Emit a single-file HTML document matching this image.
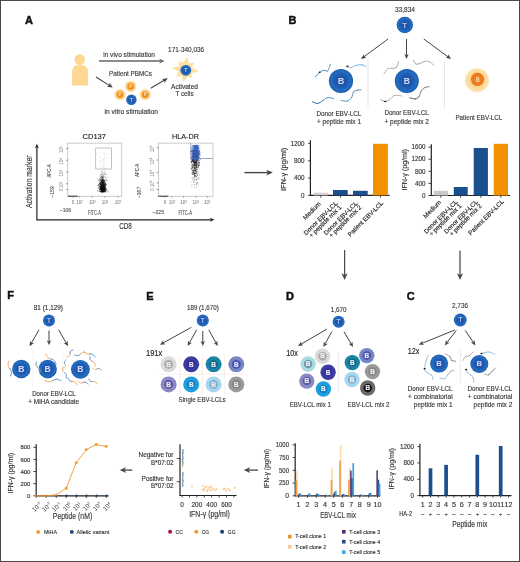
<!DOCTYPE html><html><head><meta charset="utf-8"><style>html,body{margin:0;padding:0;background:#fff;}svg{display:block;will-change:transform;}text{font-family:"Liberation Sans",sans-serif;}</style></head><body>
<svg width="520" height="562" viewBox="0 0 520 562">
<defs><radialGradient id="cellg" cx="0.5" cy="0.5" r="0.5"><stop offset="0" stop-color="#1c4ea2"/><stop offset="0.5" stop-color="#1d59ae"/><stop offset="0.78" stop-color="#216cc2"/><stop offset="0.92" stop-color="#1f65b8"/><stop offset="1" stop-color="#1b56a4"/></radialGradient><radialGradient id="halo" cx="0.5" cy="0.5" r="0.5"><stop offset="0.5" stop-color="#fcd48c"/><stop offset="0.85" stop-color="#fddfa6"/><stop offset="1" stop-color="#fdebc8"/></radialGradient><radialGradient id="orc" cx="0.5" cy="0.5" r="0.5"><stop offset="0" stop-color="#f28a26"/><stop offset="0.8" stop-color="#ee7b1a"/><stop offset="1" stop-color="#e06f12"/></radialGradient><radialGradient id="phalo" cx="0.5" cy="0.5" r="0.5"><stop offset="0.5" stop-color="#fcc978"/><stop offset="0.8" stop-color="#fdd89a"/><stop offset="1" stop-color="#fde8c4"/></radialGradient></defs>
<rect x="0" y="0" width="520" height="562" fill="#fff"/>
<text x="25.0" y="23.9" font-size="11" text-anchor="start" fill="#111" font-weight="bold" stroke="#111" stroke-width="0.45">A</text>
<circle cx="79.7" cy="59.6" r="5.3" fill="#fcd892"/>
<path d="M72.1,85.6 L72.1,72.5 Q72.1,65.6 77.5,64.9 L82,64.9 Q88.1,65.6 88.1,72.5 L88.1,85.6 Z" fill="#fcd892"/>
<text x="103.2" y="57.0" font-size="6.5" text-anchor="start" fill="#3a3a3a" font-weight="normal" textLength="51.8" lengthAdjust="spacingAndGlyphs" stroke="#3a3a3a" stroke-width="0.14">in vivo stimulation</text>
<line x1="99" y1="61.1" x2="160.50" y2="61.10" stroke="#666" stroke-width="1.5"/>
<path d="M159.30,63.50 L164.50,61.10 L159.30,58.70 L160.50,61.10 Z" fill="#666"/>
<text x="168.1" y="51.7" font-size="6.3" text-anchor="start" fill="#3a3a3a" font-weight="normal" textLength="36" lengthAdjust="spacingAndGlyphs" stroke="#3a3a3a" stroke-width="0.14">171-340,036</text>
<polygon points="186.77,57.39 188.64,63.67 193.56,63.12 191.85,67.77 198.01,71.13 191.23,72.94 191.60,77.62 187.13,76.15 183.86,81.51 181.96,75.53 176.80,76.27 178.75,71.43 172.79,68.09 179.37,66.26 178.88,61.42 183.47,63.05" fill="#fde1a4" stroke="#fde1a4" stroke-width="0.8" stroke-linejoin="round"/>
<circle cx="185.8" cy="70.3" r="5.4" fill="url(#cellg)"/>
<text x="185.8" y="72.46" font-size="6" text-anchor="middle" fill="#d0d6f6" font-weight="normal" stroke="#d0d6f6" stroke-width="0.14">T</text>
<text x="184.5" y="88.7" font-size="6.3" text-anchor="middle" fill="#3a3a3a" font-weight="normal" textLength="27" lengthAdjust="spacingAndGlyphs" stroke="#3a3a3a" stroke-width="0.14">Activated</text>
<text x="184.5" y="96.2" font-size="6.3" text-anchor="middle" fill="#3a3a3a" font-weight="normal" stroke="#3a3a3a" stroke-width="0.14">T cells</text>
<text x="109" y="76.2" font-size="6.3" text-anchor="start" fill="#3a3a3a" font-weight="normal" textLength="43" lengthAdjust="spacingAndGlyphs" stroke="#3a3a3a" stroke-width="0.14">Patient PBMCs</text>
<line x1="96" y1="77" x2="109.25" y2="85.36" stroke="#454545" stroke-width="1.1"/>
<path d="M106.95,86.75 L112.80,87.60 L109.51,82.69 L109.25,85.36 Z" fill="#454545"/>
<circle cx="130.7" cy="86.4" r="5.8" fill="url(#phalo)"/>
<circle cx="130.7" cy="86.4" r="3.4" fill="#f0901c"/>
<text x="130.7" y="88.0" font-size="4.5" text-anchor="middle" fill="#fde6c2" font-weight="bold">P</text>
<circle cx="120" cy="94.6" r="5.8" fill="url(#phalo)"/>
<circle cx="120" cy="94.6" r="3.4" fill="#f0901c"/>
<text x="120" y="96.19999999999999" font-size="4.5" text-anchor="middle" fill="#fde6c2" font-weight="bold">P</text>
<circle cx="145.2" cy="94.6" r="5.8" fill="url(#phalo)"/>
<circle cx="145.2" cy="94.6" r="3.4" fill="#f0901c"/>
<text x="145.2" y="96.19999999999999" font-size="4.5" text-anchor="middle" fill="#fde6c2" font-weight="bold">P</text>
<circle cx="131.4" cy="99.8" r="5.2" fill="url(#cellg)"/>
<text x="131.4" y="101.88799999999999" font-size="5.8" text-anchor="middle" fill="#d0d6f6" font-weight="normal" stroke="#d0d6f6" stroke-width="0.14">T</text>
<line x1="150.7" y1="88.3" x2="164.18" y2="80.34" stroke="#454545" stroke-width="1.1"/>
<path d="M164.37,83.01 L167.80,78.20 L161.93,78.88 L164.18,80.34 Z" fill="#454545"/>
<text x="104.5" y="114.2" font-size="6.5" text-anchor="start" fill="#3a3a3a" font-weight="normal" textLength="53.5" lengthAdjust="spacingAndGlyphs" stroke="#3a3a3a" stroke-width="0.14">in vitro stimulation</text>
<text x="82.5" y="138.8" font-size="7.8" text-anchor="start" fill="#222" font-weight="normal" textLength="23.5" lengthAdjust="spacingAndGlyphs" stroke="#222" stroke-width="0.14">CD137</text>
<text x="172" y="138.8" font-size="7.8" text-anchor="start" fill="#222" font-weight="normal" textLength="27" lengthAdjust="spacingAndGlyphs" stroke="#222" stroke-width="0.14">HLA-DR</text>
<line x1="36.9" y1="219.8" x2="36.90" y2="147.10" stroke="#222" stroke-width="1.2"/>
<path d="M38.90,148.30 L36.90,143.80 L34.90,148.30 L36.90,147.10 Z" fill="#222"/>
<line x1="36.3" y1="219.8" x2="211.20" y2="219.80" stroke="#222" stroke-width="1.3"/>
<path d="M210.00,221.80 L214.50,219.80 L210.00,217.80 L211.20,219.80 Z" fill="#222"/>
<text x="32.3" y="181.8" font-size="8.2" text-anchor="middle" fill="#333" font-weight="normal" textLength="52.5" lengthAdjust="spacingAndGlyphs" transform="rotate(-90 32.3 181.8)" stroke="#333" stroke-width="0.14">Activation marker</text>
<text x="119.2" y="228.8" font-size="8.3" text-anchor="start" fill="#333" font-weight="normal" textLength="12.7" lengthAdjust="spacingAndGlyphs" stroke="#333" stroke-width="0.14">CD8</text>
<line x1="244.4" y1="172.6" x2="267.90" y2="172.60" stroke="#444" stroke-width="1.4"/>
<path d="M266.30,175.40 L272.90,172.60 L266.30,169.80 L267.90,172.60 Z" fill="#444"/>
<text x="288.6" y="24.2" font-size="11" text-anchor="start" fill="#111" font-weight="bold" stroke="#111" stroke-width="0.45">B</text>
<text x="395" y="12.2" font-size="6.3" text-anchor="start" fill="#3a3a3a" font-weight="normal" textLength="20" lengthAdjust="spacingAndGlyphs" stroke="#3a3a3a" stroke-width="0.14">33,834</text>
<circle cx="404.8" cy="25" r="8.2" fill="url(#cellg)"/>
<text x="404.8" y="27.88" font-size="8" text-anchor="middle" fill="#d0d6f6" font-weight="normal" stroke="#d0d6f6" stroke-width="0.14">T</text>
<line x1="388" y1="39" x2="364.05" y2="56.74" stroke="#454545" stroke-width="1.0"/>
<path d="M363.71,54.26 L361.00,59.00 L366.33,57.79 L364.05,56.74 Z" fill="#454545"/>
<line x1="406.5" y1="39" x2="406.50" y2="55.20" stroke="#454545" stroke-width="1.0"/>
<path d="M404.30,54.00 L406.50,59.00 L408.70,54.00 L406.50,55.20 Z" fill="#454545"/>
<line x1="423.75" y1="39" x2="447.94" y2="56.75" stroke="#454545" stroke-width="1.0"/>
<path d="M445.67,57.82 L451.00,59.00 L448.27,54.27 L447.94,56.75 Z" fill="#454545"/>
<line x1="368" y1="59" x2="368" y2="107" stroke="#ddd" stroke-width="0.7"/>
<line x1="444.5" y1="61" x2="444.5" y2="108" stroke="#ddd" stroke-width="0.7"/>
<circle cx="341" cy="81" r="12.1" fill="url(#cellg)"/>
<text x="341" y="83.72" font-size="8.5" text-anchor="middle" fill="#d0d6f6" font-weight="bold" stroke="#d0d6f6" stroke-width="0.14">B</text>
<circle cx="406.8" cy="81" r="12" fill="url(#cellg)"/>
<text x="406.8" y="83.72" font-size="8.5" text-anchor="middle" fill="#d0d6f6" font-weight="bold" stroke="#d0d6f6" stroke-width="0.14">B</text>
<circle cx="477" cy="80.2" r="12.2" fill="url(#halo)"/>
<circle cx="477.5" cy="79.3" r="6.6" fill="url(#orc)"/>
<text x="477.6" y="81.9" font-size="7" text-anchor="middle" fill="#fde3c0" font-weight="normal" textLength="3.9" lengthAdjust="spacingAndGlyphs" stroke="#fde3c0" stroke-width="0.14">B</text>
<text x="316.5" y="116.0" font-size="6.3" text-anchor="start" fill="#3a3a3a" font-weight="normal" textLength="44.8" lengthAdjust="spacingAndGlyphs" stroke="#3a3a3a" stroke-width="0.14">Donor EBV-LCL</text>
<text x="317" y="124.0" font-size="6.3" text-anchor="start" fill="#3a3a3a" font-weight="normal" textLength="44" lengthAdjust="spacingAndGlyphs" stroke="#3a3a3a" stroke-width="0.14">+ peptide mix 1</text>
<text x="384.4" y="115.3" font-size="6.3" text-anchor="start" fill="#3a3a3a" font-weight="normal" textLength="44.4" lengthAdjust="spacingAndGlyphs" stroke="#3a3a3a" stroke-width="0.14">Donor EBV-LCL</text>
<text x="384.4" y="124.3" font-size="6.3" text-anchor="start" fill="#3a3a3a" font-weight="normal" textLength="44.6" lengthAdjust="spacingAndGlyphs" stroke="#3a3a3a" stroke-width="0.14">+ peptide mix 2</text>
<text x="455.4" y="120.4" font-size="6.3" text-anchor="start" fill="#3a3a3a" font-weight="normal" textLength="46.9" lengthAdjust="spacingAndGlyphs" stroke="#3a3a3a" stroke-width="0.14">Patient EBV-LCL</text>
<rect x="67.8" y="143.1" width="54.0" height="53.1" fill="none" stroke="#aaaaaa" stroke-width="0.6"/>
<text x="63.4" y="149.7" font-size="4.6" fill="#707070" text-anchor="middle" transform="rotate(-90 63.4 149.7)">10<tspan dy="-1.75" font-size="2.85">5</tspan></text>
<line x1="66.2" y1="148.5" x2="68.1" y2="148.5" stroke="#666" stroke-width="0.7"/>
<text x="63.4" y="161.39999999999998" font-size="4.6" fill="#707070" text-anchor="middle" transform="rotate(-90 63.4 161.39999999999998)">10<tspan dy="-1.75" font-size="2.85">4</tspan></text>
<line x1="66.2" y1="160.2" x2="68.1" y2="160.2" stroke="#666" stroke-width="0.7"/>
<text x="63.4" y="173.2" font-size="4.6" fill="#707070" text-anchor="middle" transform="rotate(-90 63.4 173.2)">10<tspan dy="-1.75" font-size="2.85">3</tspan></text>
<line x1="66.2" y1="172" x2="68.1" y2="172" stroke="#666" stroke-width="0.7"/>
<text x="63.4" y="185.0" font-size="4.6" fill="#707070" text-anchor="middle" transform="rotate(-90 63.4 185.0)">10<tspan dy="-1.75" font-size="2.85">2</tspan></text>
<line x1="66.2" y1="183.8" x2="68.1" y2="183.8" stroke="#666" stroke-width="0.7"/>
<text x="63.4" y="189.6" font-size="4.6" text-anchor="middle" fill="#707070" font-weight="normal" transform="rotate(-90 63.4 189.6)">0</text>
<line x1="66.2" y1="189.6" x2="68.1" y2="189.6" stroke="#666" stroke-width="0.7"/>
<text x="51.4" y="171" font-size="6.0" text-anchor="middle" fill="#5a5a5a" font-weight="normal" textLength="13" lengthAdjust="spacingAndGlyphs" transform="rotate(-90 51.4 171)" stroke="#5a5a5a" stroke-width="0.14">APC-A</text>
<text x="53.6" y="192" font-size="5.6" text-anchor="middle" fill="#5a5a5a" font-weight="normal" textLength="11.5" lengthAdjust="spacingAndGlyphs" transform="rotate(-90 53.6 192)" stroke="#5a5a5a" stroke-width="0.14">−159</text>
<text x="73" y="204.4" font-size="4.6" text-anchor="middle" fill="#707070" font-weight="normal">0</text>
<line x1="73" y1="196.2" x2="73" y2="197.7" stroke="#666" stroke-width="0.6"/>
<text x="79.5" y="204.4" font-size="4.6" fill="#707070" text-anchor="middle">10<tspan dy="-1.75" font-size="2.85">2</tspan></text>
<line x1="79.5" y1="196.2" x2="79.5" y2="197.7" stroke="#666" stroke-width="0.6"/>
<text x="92.3" y="204.4" font-size="4.6" fill="#707070" text-anchor="middle">10<tspan dy="-1.75" font-size="2.85">3</tspan></text>
<line x1="92.3" y1="196.2" x2="92.3" y2="197.7" stroke="#666" stroke-width="0.6"/>
<text x="105.1" y="204.4" font-size="4.6" fill="#707070" text-anchor="middle">10<tspan dy="-1.75" font-size="2.85">4</tspan></text>
<line x1="105.1" y1="196.2" x2="105.1" y2="197.7" stroke="#666" stroke-width="0.6"/>
<text x="118" y="204.4" font-size="4.6" fill="#707070" text-anchor="middle">10<tspan dy="-1.75" font-size="2.85">5</tspan></text>
<line x1="118" y1="196.2" x2="118" y2="197.7" stroke="#666" stroke-width="0.6"/>
<text x="59.7" y="211.7" font-size="5.6" text-anchor="start" fill="#5a5a5a" font-weight="normal" textLength="11.5" lengthAdjust="spacingAndGlyphs" stroke="#5a5a5a" stroke-width="0.14">−106</text>
<text x="88" y="215.0" font-size="6.6" text-anchor="start" fill="#5a5a5a" font-weight="normal" textLength="12.8" lengthAdjust="spacingAndGlyphs" stroke="#5a5a5a" stroke-width="0.14">FITC-A</text>
<line x1="67.8" y1="196.2" x2="77.8" y2="196.2" stroke="#333" stroke-width="1.0"/>
<rect x="158.3" y="143.1" width="54.69999999999999" height="53.1" fill="none" stroke="#aaaaaa" stroke-width="0.6"/>
<text x="154.2" y="148.89999999999998" font-size="4.6" fill="#707070" text-anchor="middle" transform="rotate(-90 154.2 148.89999999999998)">10<tspan dy="-1.75" font-size="2.85">5</tspan></text>
<line x1="156.70000000000002" y1="147.7" x2="158.60000000000002" y2="147.7" stroke="#666" stroke-width="0.7"/>
<text x="154.2" y="161.2" font-size="4.6" fill="#707070" text-anchor="middle" transform="rotate(-90 154.2 161.2)">10<tspan dy="-1.75" font-size="2.85">4</tspan></text>
<line x1="156.70000000000002" y1="160" x2="158.60000000000002" y2="160" stroke="#666" stroke-width="0.7"/>
<text x="154.2" y="173.5" font-size="4.6" fill="#707070" text-anchor="middle" transform="rotate(-90 154.2 173.5)">10<tspan dy="-1.75" font-size="2.85">3</tspan></text>
<line x1="156.70000000000002" y1="172.3" x2="158.60000000000002" y2="172.3" stroke="#666" stroke-width="0.7"/>
<text x="154.2" y="184.0" font-size="4.6" fill="#707070" text-anchor="middle" transform="rotate(-90 154.2 184.0)">10<tspan dy="-1.75" font-size="2.85">2</tspan></text>
<line x1="156.70000000000002" y1="182.8" x2="158.60000000000002" y2="182.8" stroke="#666" stroke-width="0.7"/>
<text x="154.2" y="189.5" font-size="4.6" text-anchor="middle" fill="#707070" font-weight="normal" transform="rotate(-90 154.2 189.5)">0</text>
<line x1="156.70000000000002" y1="189.5" x2="158.60000000000002" y2="189.5" stroke="#666" stroke-width="0.7"/>
<text x="139.2" y="170.5" font-size="6.0" text-anchor="middle" fill="#5a5a5a" font-weight="normal" textLength="13" lengthAdjust="spacingAndGlyphs" transform="rotate(-90 139.2 170.5)" stroke="#5a5a5a" stroke-width="0.14">APC-A</text>
<text x="141.39999999999998" y="192.5" font-size="5.6" text-anchor="middle" fill="#5a5a5a" font-weight="normal" textLength="11.5" lengthAdjust="spacingAndGlyphs" transform="rotate(-90 141.39999999999998 192.5)" stroke="#5a5a5a" stroke-width="0.14">−367</text>
<text x="165" y="204.4" font-size="4.6" text-anchor="middle" fill="#707070" font-weight="normal">0</text>
<line x1="165" y1="196.2" x2="165" y2="197.7" stroke="#666" stroke-width="0.6"/>
<text x="172" y="204.4" font-size="4.6" fill="#707070" text-anchor="middle">10<tspan dy="-1.75" font-size="2.85">2</tspan></text>
<line x1="172" y1="196.2" x2="172" y2="197.7" stroke="#666" stroke-width="0.6"/>
<text x="183.5" y="204.4" font-size="4.6" fill="#707070" text-anchor="middle">10<tspan dy="-1.75" font-size="2.85">3</tspan></text>
<line x1="183.5" y1="196.2" x2="183.5" y2="197.7" stroke="#666" stroke-width="0.6"/>
<text x="195.8" y="204.4" font-size="4.6" fill="#707070" text-anchor="middle">10<tspan dy="-1.75" font-size="2.85">4</tspan></text>
<line x1="195.8" y1="196.2" x2="195.8" y2="197.7" stroke="#666" stroke-width="0.6"/>
<text x="207.3" y="204.4" font-size="4.6" fill="#707070" text-anchor="middle">10<tspan dy="-1.75" font-size="2.85">5</tspan></text>
<line x1="207.3" y1="196.2" x2="207.3" y2="197.7" stroke="#666" stroke-width="0.6"/>
<text x="152.6" y="213.6" font-size="5.6" text-anchor="start" fill="#5a5a5a" font-weight="normal" textLength="11.4" lengthAdjust="spacingAndGlyphs" stroke="#5a5a5a" stroke-width="0.14">−225</text>
<text x="178.5" y="215.0" font-size="6.6" text-anchor="start" fill="#5a5a5a" font-weight="normal" textLength="13.5" lengthAdjust="spacingAndGlyphs" stroke="#5a5a5a" stroke-width="0.14">FITC-A</text>
<line x1="158.3" y1="196.2" x2="168.3" y2="196.2" stroke="#333" stroke-width="1.0"/>
<rect x="95.8" y="148" width="15.8" height="21" fill="none" stroke="#888" stroke-width="0.5"/>
<circle cx="106.07" cy="184.28" r="0.45" fill="#111" fill-opacity="0.45"/><circle cx="98.26" cy="185.89" r="0.45" fill="#111" fill-opacity="0.45"/><circle cx="103.31" cy="185.50" r="0.45" fill="#111" fill-opacity="0.45"/><circle cx="101.63" cy="184.47" r="0.45" fill="#111" fill-opacity="0.45"/><circle cx="101.83" cy="174.71" r="0.45" fill="#111" fill-opacity="0.45"/><circle cx="102.23" cy="182.50" r="0.45" fill="#111" fill-opacity="0.45"/><circle cx="99.17" cy="187.83" r="0.45" fill="#111" fill-opacity="0.45"/><circle cx="102.21" cy="185.63" r="0.45" fill="#111" fill-opacity="0.45"/><circle cx="101.13" cy="191.32" r="0.45" fill="#111" fill-opacity="0.45"/><circle cx="108.25" cy="191.54" r="0.45" fill="#111" fill-opacity="0.45"/><circle cx="102.98" cy="183.91" r="0.45" fill="#111" fill-opacity="0.45"/><circle cx="102.00" cy="190.21" r="0.45" fill="#111" fill-opacity="0.45"/><circle cx="102.12" cy="189.85" r="0.45" fill="#111" fill-opacity="0.45"/><circle cx="101.46" cy="187.62" r="0.45" fill="#111" fill-opacity="0.45"/><circle cx="100.81" cy="182.28" r="0.45" fill="#111" fill-opacity="0.45"/><circle cx="101.94" cy="191.57" r="0.45" fill="#111" fill-opacity="0.45"/><circle cx="103.42" cy="188.73" r="0.45" fill="#111" fill-opacity="0.45"/><circle cx="102.19" cy="188.79" r="0.45" fill="#111" fill-opacity="0.45"/><circle cx="104.23" cy="187.46" r="0.45" fill="#111" fill-opacity="0.45"/><circle cx="102.26" cy="182.79" r="0.45" fill="#111" fill-opacity="0.45"/><circle cx="102.64" cy="183.26" r="0.45" fill="#111" fill-opacity="0.45"/><circle cx="105.23" cy="189.30" r="0.45" fill="#111" fill-opacity="0.45"/><circle cx="103.53" cy="190.94" r="0.45" fill="#111" fill-opacity="0.45"/><circle cx="101.74" cy="186.97" r="0.45" fill="#111" fill-opacity="0.45"/><circle cx="102.29" cy="183.84" r="0.45" fill="#111" fill-opacity="0.45"/><circle cx="103.52" cy="187.04" r="0.45" fill="#111" fill-opacity="0.45"/><circle cx="105.89" cy="188.47" r="0.45" fill="#111" fill-opacity="0.45"/><circle cx="102.14" cy="191.41" r="0.45" fill="#111" fill-opacity="0.45"/><circle cx="102.19" cy="188.90" r="0.45" fill="#111" fill-opacity="0.45"/><circle cx="104.30" cy="186.47" r="0.45" fill="#111" fill-opacity="0.45"/><circle cx="101.09" cy="175.60" r="0.45" fill="#111" fill-opacity="0.45"/><circle cx="102.10" cy="190.02" r="0.45" fill="#111" fill-opacity="0.45"/><circle cx="104.10" cy="185.31" r="0.45" fill="#111" fill-opacity="0.45"/><circle cx="103.59" cy="185.35" r="0.45" fill="#111" fill-opacity="0.45"/><circle cx="102.76" cy="189.88" r="0.45" fill="#111" fill-opacity="0.45"/><circle cx="103.74" cy="188.16" r="0.45" fill="#111" fill-opacity="0.45"/><circle cx="97.79" cy="191.51" r="0.45" fill="#111" fill-opacity="0.45"/><circle cx="104.34" cy="181.72" r="0.45" fill="#111" fill-opacity="0.45"/><circle cx="100.97" cy="183.35" r="0.45" fill="#111" fill-opacity="0.45"/><circle cx="99.76" cy="189.10" r="0.45" fill="#111" fill-opacity="0.45"/><circle cx="103.07" cy="188.64" r="0.45" fill="#111" fill-opacity="0.45"/><circle cx="103.79" cy="190.05" r="0.45" fill="#111" fill-opacity="0.45"/><circle cx="101.84" cy="191.15" r="0.45" fill="#111" fill-opacity="0.45"/><circle cx="100.77" cy="187.45" r="0.45" fill="#111" fill-opacity="0.45"/><circle cx="102.64" cy="191.23" r="0.45" fill="#111" fill-opacity="0.45"/><circle cx="102.51" cy="189.63" r="0.45" fill="#111" fill-opacity="0.45"/><circle cx="104.99" cy="183.76" r="0.45" fill="#111" fill-opacity="0.45"/><circle cx="103.87" cy="179.61" r="0.45" fill="#111" fill-opacity="0.45"/><circle cx="102.93" cy="179.38" r="0.45" fill="#111" fill-opacity="0.45"/><circle cx="104.49" cy="188.84" r="0.45" fill="#111" fill-opacity="0.45"/><circle cx="102.25" cy="181.92" r="0.45" fill="#111" fill-opacity="0.45"/><circle cx="101.03" cy="183.00" r="0.45" fill="#111" fill-opacity="0.45"/><circle cx="103.59" cy="184.64" r="0.45" fill="#111" fill-opacity="0.45"/><circle cx="103.59" cy="180.44" r="0.45" fill="#111" fill-opacity="0.45"/><circle cx="102.23" cy="185.93" r="0.45" fill="#111" fill-opacity="0.45"/><circle cx="101.27" cy="188.41" r="0.45" fill="#111" fill-opacity="0.45"/><circle cx="102.99" cy="181.85" r="0.45" fill="#111" fill-opacity="0.45"/><circle cx="98.36" cy="183.95" r="0.45" fill="#111" fill-opacity="0.45"/><circle cx="103.77" cy="190.57" r="0.45" fill="#111" fill-opacity="0.45"/><circle cx="103.44" cy="181.95" r="0.45" fill="#111" fill-opacity="0.45"/><circle cx="99.81" cy="189.32" r="0.45" fill="#111" fill-opacity="0.45"/><circle cx="102.70" cy="185.21" r="0.45" fill="#111" fill-opacity="0.45"/><circle cx="100.96" cy="189.47" r="0.45" fill="#111" fill-opacity="0.45"/><circle cx="103.89" cy="184.97" r="0.45" fill="#111" fill-opacity="0.45"/><circle cx="99.14" cy="190.37" r="0.45" fill="#111" fill-opacity="0.45"/><circle cx="101.05" cy="187.03" r="0.45" fill="#111" fill-opacity="0.45"/><circle cx="103.81" cy="185.66" r="0.45" fill="#111" fill-opacity="0.45"/><circle cx="104.57" cy="184.64" r="0.45" fill="#111" fill-opacity="0.45"/><circle cx="98.93" cy="180.60" r="0.45" fill="#111" fill-opacity="0.45"/><circle cx="101.75" cy="186.77" r="0.45" fill="#111" fill-opacity="0.45"/><circle cx="103.16" cy="183.29" r="0.45" fill="#111" fill-opacity="0.45"/><circle cx="101.56" cy="181.05" r="0.45" fill="#111" fill-opacity="0.45"/><circle cx="105.30" cy="183.70" r="0.45" fill="#111" fill-opacity="0.45"/><circle cx="100.57" cy="180.79" r="0.45" fill="#111" fill-opacity="0.45"/><circle cx="103.20" cy="186.87" r="0.45" fill="#111" fill-opacity="0.45"/><circle cx="100.82" cy="187.98" r="0.45" fill="#111" fill-opacity="0.45"/><circle cx="104.99" cy="191.92" r="0.45" fill="#111" fill-opacity="0.45"/><circle cx="102.56" cy="175.94" r="0.45" fill="#111" fill-opacity="0.45"/><circle cx="101.97" cy="191.98" r="0.45" fill="#111" fill-opacity="0.45"/><circle cx="99.68" cy="189.83" r="0.45" fill="#111" fill-opacity="0.45"/><circle cx="105.46" cy="184.96" r="0.45" fill="#111" fill-opacity="0.45"/><circle cx="103.88" cy="191.03" r="0.45" fill="#111" fill-opacity="0.45"/><circle cx="103.88" cy="182.98" r="0.45" fill="#111" fill-opacity="0.45"/><circle cx="104.53" cy="191.57" r="0.45" fill="#111" fill-opacity="0.45"/><circle cx="103.19" cy="183.99" r="0.45" fill="#111" fill-opacity="0.45"/><circle cx="101.51" cy="184.31" r="0.45" fill="#111" fill-opacity="0.45"/><circle cx="101.24" cy="188.84" r="0.45" fill="#111" fill-opacity="0.45"/><circle cx="101.24" cy="189.04" r="0.45" fill="#111" fill-opacity="0.45"/><circle cx="104.93" cy="189.30" r="0.45" fill="#111" fill-opacity="0.45"/><circle cx="100.12" cy="182.61" r="0.45" fill="#111" fill-opacity="0.45"/><circle cx="101.59" cy="188.55" r="0.45" fill="#111" fill-opacity="0.45"/><circle cx="102.05" cy="186.85" r="0.45" fill="#111" fill-opacity="0.45"/><circle cx="102.98" cy="186.62" r="0.45" fill="#111" fill-opacity="0.45"/><circle cx="103.58" cy="186.64" r="0.45" fill="#111" fill-opacity="0.45"/><circle cx="100.48" cy="188.72" r="0.45" fill="#111" fill-opacity="0.45"/><circle cx="99.66" cy="183.99" r="0.45" fill="#111" fill-opacity="0.45"/><circle cx="102.59" cy="191.31" r="0.45" fill="#111" fill-opacity="0.45"/><circle cx="104.66" cy="191.12" r="0.45" fill="#111" fill-opacity="0.45"/><circle cx="103.89" cy="185.02" r="0.45" fill="#111" fill-opacity="0.45"/><circle cx="102.97" cy="186.25" r="0.45" fill="#111" fill-opacity="0.45"/><circle cx="102.06" cy="180.54" r="0.45" fill="#111" fill-opacity="0.45"/><circle cx="103.10" cy="182.27" r="0.45" fill="#111" fill-opacity="0.45"/><circle cx="102.19" cy="181.91" r="0.45" fill="#111" fill-opacity="0.45"/><circle cx="103.99" cy="188.97" r="0.45" fill="#111" fill-opacity="0.45"/><circle cx="101.25" cy="176.50" r="0.45" fill="#111" fill-opacity="0.45"/><circle cx="102.83" cy="181.99" r="0.45" fill="#111" fill-opacity="0.45"/><circle cx="102.41" cy="191.70" r="0.45" fill="#111" fill-opacity="0.45"/><circle cx="103.52" cy="184.77" r="0.45" fill="#111" fill-opacity="0.45"/><circle cx="102.98" cy="188.36" r="0.45" fill="#111" fill-opacity="0.45"/><circle cx="106.94" cy="191.29" r="0.45" fill="#111" fill-opacity="0.45"/><circle cx="105.15" cy="188.19" r="0.45" fill="#111" fill-opacity="0.45"/><circle cx="105.14" cy="183.37" r="0.45" fill="#111" fill-opacity="0.45"/><circle cx="99.13" cy="187.20" r="0.45" fill="#111" fill-opacity="0.45"/><circle cx="102.02" cy="177.16" r="0.45" fill="#111" fill-opacity="0.45"/><circle cx="101.57" cy="186.18" r="0.45" fill="#111" fill-opacity="0.45"/><circle cx="103.51" cy="182.00" r="0.45" fill="#111" fill-opacity="0.45"/><circle cx="98.73" cy="184.48" r="0.45" fill="#111" fill-opacity="0.45"/><circle cx="104.60" cy="187.01" r="0.45" fill="#111" fill-opacity="0.45"/><circle cx="104.41" cy="191.67" r="0.45" fill="#111" fill-opacity="0.45"/><circle cx="100.39" cy="183.45" r="0.45" fill="#111" fill-opacity="0.45"/><circle cx="100.94" cy="185.58" r="0.45" fill="#111" fill-opacity="0.45"/><circle cx="101.24" cy="186.10" r="0.45" fill="#111" fill-opacity="0.45"/><circle cx="102.67" cy="184.49" r="0.45" fill="#111" fill-opacity="0.45"/><circle cx="103.69" cy="182.66" r="0.45" fill="#111" fill-opacity="0.45"/><circle cx="106.08" cy="184.62" r="0.45" fill="#111" fill-opacity="0.45"/><circle cx="102.26" cy="185.05" r="0.45" fill="#111" fill-opacity="0.45"/><circle cx="103.90" cy="188.92" r="0.45" fill="#111" fill-opacity="0.45"/><circle cx="102.86" cy="183.12" r="0.45" fill="#111" fill-opacity="0.45"/><circle cx="105.59" cy="190.29" r="0.45" fill="#111" fill-opacity="0.45"/><circle cx="103.86" cy="188.07" r="0.45" fill="#111" fill-opacity="0.45"/><circle cx="104.93" cy="191.18" r="0.45" fill="#111" fill-opacity="0.45"/><circle cx="100.77" cy="180.78" r="0.45" fill="#111" fill-opacity="0.45"/><circle cx="102.27" cy="188.28" r="0.45" fill="#111" fill-opacity="0.45"/><circle cx="101.22" cy="181.10" r="0.45" fill="#111" fill-opacity="0.45"/><circle cx="105.16" cy="190.73" r="0.45" fill="#111" fill-opacity="0.45"/><circle cx="103.72" cy="184.31" r="0.45" fill="#111" fill-opacity="0.45"/><circle cx="102.08" cy="190.93" r="0.45" fill="#111" fill-opacity="0.45"/><circle cx="101.83" cy="189.40" r="0.45" fill="#111" fill-opacity="0.45"/><circle cx="103.42" cy="190.78" r="0.45" fill="#111" fill-opacity="0.45"/><circle cx="101.41" cy="181.55" r="0.45" fill="#111" fill-opacity="0.45"/><circle cx="101.02" cy="183.90" r="0.45" fill="#111" fill-opacity="0.45"/><circle cx="103.42" cy="175.81" r="0.45" fill="#111" fill-opacity="0.45"/><circle cx="106.79" cy="184.72" r="0.45" fill="#111" fill-opacity="0.45"/><circle cx="102.18" cy="181.29" r="0.45" fill="#111" fill-opacity="0.45"/><circle cx="101.66" cy="181.06" r="0.45" fill="#111" fill-opacity="0.45"/><circle cx="100.61" cy="189.66" r="0.45" fill="#111" fill-opacity="0.45"/><circle cx="100.33" cy="187.75" r="0.45" fill="#111" fill-opacity="0.45"/><circle cx="103.49" cy="190.87" r="0.45" fill="#111" fill-opacity="0.45"/><circle cx="104.05" cy="182.50" r="0.45" fill="#111" fill-opacity="0.45"/><circle cx="102.62" cy="187.93" r="0.45" fill="#111" fill-opacity="0.45"/><circle cx="103.17" cy="188.06" r="0.45" fill="#111" fill-opacity="0.45"/><circle cx="102.80" cy="187.89" r="0.45" fill="#111" fill-opacity="0.45"/><circle cx="102.84" cy="177.47" r="0.45" fill="#111" fill-opacity="0.45"/><circle cx="100.01" cy="180.67" r="0.45" fill="#111" fill-opacity="0.45"/><circle cx="101.82" cy="188.97" r="0.45" fill="#111" fill-opacity="0.45"/><circle cx="102.79" cy="183.45" r="0.45" fill="#111" fill-opacity="0.45"/><circle cx="101.27" cy="187.67" r="0.45" fill="#111" fill-opacity="0.45"/><circle cx="101.79" cy="183.74" r="0.45" fill="#111" fill-opacity="0.45"/><circle cx="101.21" cy="182.03" r="0.45" fill="#111" fill-opacity="0.45"/><circle cx="102.03" cy="186.78" r="0.45" fill="#111" fill-opacity="0.45"/><circle cx="104.05" cy="180.44" r="0.45" fill="#111" fill-opacity="0.45"/><circle cx="101.91" cy="188.70" r="0.45" fill="#111" fill-opacity="0.45"/><circle cx="102.34" cy="187.89" r="0.45" fill="#111" fill-opacity="0.45"/><circle cx="103.98" cy="188.34" r="0.45" fill="#111" fill-opacity="0.45"/><circle cx="103.70" cy="185.43" r="0.45" fill="#111" fill-opacity="0.45"/><circle cx="105.48" cy="190.96" r="0.45" fill="#111" fill-opacity="0.45"/><circle cx="99.05" cy="185.33" r="0.45" fill="#111" fill-opacity="0.45"/><circle cx="104.06" cy="188.85" r="0.45" fill="#111" fill-opacity="0.45"/><circle cx="101.78" cy="190.24" r="0.45" fill="#111" fill-opacity="0.45"/><circle cx="102.83" cy="182.97" r="0.45" fill="#111" fill-opacity="0.45"/><circle cx="104.02" cy="191.81" r="0.45" fill="#111" fill-opacity="0.45"/><circle cx="104.44" cy="188.00" r="0.45" fill="#111" fill-opacity="0.45"/><circle cx="104.37" cy="176.60" r="0.45" fill="#111" fill-opacity="0.45"/><circle cx="102.86" cy="186.26" r="0.45" fill="#111" fill-opacity="0.45"/><circle cx="105.34" cy="182.95" r="0.45" fill="#111" fill-opacity="0.45"/><circle cx="102.12" cy="184.37" r="0.45" fill="#111" fill-opacity="0.45"/><circle cx="102.36" cy="188.46" r="0.45" fill="#111" fill-opacity="0.45"/><circle cx="103.96" cy="191.52" r="0.45" fill="#111" fill-opacity="0.45"/><circle cx="101.66" cy="189.76" r="0.45" fill="#111" fill-opacity="0.45"/><circle cx="106.27" cy="189.79" r="0.45" fill="#111" fill-opacity="0.45"/><circle cx="104.33" cy="187.87" r="0.45" fill="#111" fill-opacity="0.45"/><circle cx="106.30" cy="189.74" r="0.45" fill="#111" fill-opacity="0.45"/><circle cx="102.55" cy="185.74" r="0.45" fill="#111" fill-opacity="0.45"/><circle cx="101.95" cy="183.48" r="0.45" fill="#111" fill-opacity="0.45"/><circle cx="102.88" cy="186.14" r="0.45" fill="#111" fill-opacity="0.45"/><circle cx="103.85" cy="190.86" r="0.45" fill="#111" fill-opacity="0.45"/><circle cx="101.60" cy="188.74" r="0.45" fill="#111" fill-opacity="0.45"/><circle cx="103.25" cy="186.52" r="0.45" fill="#111" fill-opacity="0.45"/><circle cx="102.57" cy="191.95" r="0.45" fill="#111" fill-opacity="0.45"/><circle cx="105.35" cy="188.20" r="0.45" fill="#111" fill-opacity="0.45"/><circle cx="101.47" cy="190.16" r="0.45" fill="#111" fill-opacity="0.45"/><circle cx="104.38" cy="188.31" r="0.45" fill="#111" fill-opacity="0.45"/><circle cx="101.51" cy="180.59" r="0.45" fill="#111" fill-opacity="0.45"/><circle cx="100.97" cy="183.76" r="0.45" fill="#111" fill-opacity="0.45"/><circle cx="101.39" cy="186.27" r="0.45" fill="#111" fill-opacity="0.45"/><circle cx="100.58" cy="188.76" r="0.45" fill="#111" fill-opacity="0.45"/><circle cx="102.85" cy="190.98" r="0.45" fill="#111" fill-opacity="0.45"/><circle cx="104.35" cy="184.88" r="0.45" fill="#111" fill-opacity="0.45"/><circle cx="102.88" cy="187.56" r="0.45" fill="#111" fill-opacity="0.45"/><circle cx="103.66" cy="178.35" r="0.45" fill="#111" fill-opacity="0.45"/><circle cx="105.37" cy="182.13" r="0.45" fill="#111" fill-opacity="0.45"/><circle cx="103.06" cy="190.90" r="0.45" fill="#111" fill-opacity="0.45"/><circle cx="102.93" cy="179.30" r="0.45" fill="#111" fill-opacity="0.45"/><circle cx="102.13" cy="182.82" r="0.45" fill="#111" fill-opacity="0.45"/><circle cx="99.87" cy="188.93" r="0.45" fill="#111" fill-opacity="0.45"/><circle cx="103.89" cy="189.33" r="0.45" fill="#111" fill-opacity="0.45"/><circle cx="99.61" cy="183.46" r="0.45" fill="#111" fill-opacity="0.45"/><circle cx="103.71" cy="189.85" r="0.45" fill="#111" fill-opacity="0.45"/><circle cx="102.58" cy="184.04" r="0.45" fill="#111" fill-opacity="0.45"/><circle cx="104.52" cy="188.69" r="0.45" fill="#111" fill-opacity="0.45"/><circle cx="102.48" cy="186.38" r="0.45" fill="#111" fill-opacity="0.45"/><circle cx="101.20" cy="189.96" r="0.45" fill="#111" fill-opacity="0.45"/><circle cx="103.21" cy="188.81" r="0.45" fill="#111" fill-opacity="0.45"/><circle cx="101.65" cy="189.62" r="0.45" fill="#111" fill-opacity="0.45"/><circle cx="102.29" cy="186.58" r="0.45" fill="#111" fill-opacity="0.45"/><circle cx="102.67" cy="179.68" r="0.45" fill="#111" fill-opacity="0.45"/><circle cx="102.37" cy="189.14" r="0.45" fill="#111" fill-opacity="0.45"/><circle cx="102.28" cy="182.27" r="0.45" fill="#111" fill-opacity="0.45"/><circle cx="101.18" cy="187.29" r="0.45" fill="#111" fill-opacity="0.45"/><circle cx="102.28" cy="191.84" r="0.45" fill="#111" fill-opacity="0.45"/><circle cx="98.96" cy="187.60" r="0.45" fill="#111" fill-opacity="0.45"/><circle cx="102.33" cy="186.01" r="0.45" fill="#111" fill-opacity="0.45"/><circle cx="100.56" cy="186.12" r="0.45" fill="#111" fill-opacity="0.45"/><circle cx="104.50" cy="189.66" r="0.45" fill="#111" fill-opacity="0.45"/><circle cx="104.76" cy="191.25" r="0.45" fill="#111" fill-opacity="0.45"/><circle cx="99.28" cy="184.40" r="0.45" fill="#111" fill-opacity="0.45"/><circle cx="102.85" cy="185.65" r="0.45" fill="#111" fill-opacity="0.45"/><circle cx="102.39" cy="184.14" r="0.45" fill="#111" fill-opacity="0.45"/><circle cx="100.82" cy="180.56" r="0.45" fill="#111" fill-opacity="0.45"/><circle cx="103.50" cy="186.45" r="0.45" fill="#111" fill-opacity="0.45"/><circle cx="101.82" cy="191.92" r="0.45" fill="#111" fill-opacity="0.45"/><circle cx="99.60" cy="182.97" r="0.45" fill="#111" fill-opacity="0.45"/><circle cx="102.15" cy="187.75" r="0.45" fill="#111" fill-opacity="0.45"/><circle cx="102.35" cy="176.27" r="0.45" fill="#111" fill-opacity="0.45"/><circle cx="102.78" cy="188.50" r="0.45" fill="#111" fill-opacity="0.45"/><circle cx="100.51" cy="191.87" r="0.45" fill="#111" fill-opacity="0.45"/><circle cx="103.65" cy="184.23" r="0.45" fill="#111" fill-opacity="0.45"/><circle cx="103.85" cy="184.52" r="0.45" fill="#111" fill-opacity="0.45"/><circle cx="100.65" cy="187.13" r="0.45" fill="#111" fill-opacity="0.45"/><circle cx="101.48" cy="190.92" r="0.45" fill="#111" fill-opacity="0.45"/><circle cx="102.46" cy="186.68" r="0.45" fill="#111" fill-opacity="0.45"/><circle cx="101.64" cy="181.26" r="0.45" fill="#111" fill-opacity="0.45"/><circle cx="105.56" cy="174.49" r="0.45" fill="#111" fill-opacity="0.45"/><circle cx="102.95" cy="191.94" r="0.45" fill="#111" fill-opacity="0.45"/><circle cx="100.88" cy="189.55" r="0.45" fill="#111" fill-opacity="0.45"/><circle cx="101.26" cy="186.61" r="0.45" fill="#111" fill-opacity="0.45"/><circle cx="102.50" cy="190.84" r="0.45" fill="#111" fill-opacity="0.45"/><circle cx="106.50" cy="174.14" r="0.45" fill="#111" fill-opacity="0.45"/><circle cx="102.30" cy="183.44" r="0.45" fill="#111" fill-opacity="0.45"/><circle cx="102.82" cy="189.58" r="0.45" fill="#111" fill-opacity="0.45"/><circle cx="103.47" cy="189.41" r="0.45" fill="#111" fill-opacity="0.45"/><circle cx="102.53" cy="188.60" r="0.45" fill="#111" fill-opacity="0.45"/><circle cx="106.48" cy="189.77" r="0.45" fill="#111" fill-opacity="0.45"/><circle cx="101.70" cy="186.62" r="0.45" fill="#111" fill-opacity="0.45"/><circle cx="103.87" cy="187.49" r="0.45" fill="#111" fill-opacity="0.45"/><circle cx="102.87" cy="179.57" r="0.45" fill="#111" fill-opacity="0.45"/><circle cx="103.66" cy="191.72" r="0.45" fill="#111" fill-opacity="0.45"/><circle cx="100.60" cy="191.24" r="0.45" fill="#111" fill-opacity="0.45"/><circle cx="105.61" cy="184.55" r="0.45" fill="#111" fill-opacity="0.45"/><circle cx="102.39" cy="177.48" r="0.45" fill="#111" fill-opacity="0.45"/><circle cx="102.66" cy="185.31" r="0.45" fill="#111" fill-opacity="0.45"/><circle cx="101.01" cy="187.18" r="0.45" fill="#111" fill-opacity="0.45"/><circle cx="101.36" cy="191.59" r="0.45" fill="#111" fill-opacity="0.45"/><circle cx="103.56" cy="191.77" r="0.45" fill="#111" fill-opacity="0.45"/><circle cx="104.28" cy="188.70" r="0.45" fill="#111" fill-opacity="0.45"/><circle cx="103.88" cy="187.81" r="0.45" fill="#111" fill-opacity="0.45"/><circle cx="104.66" cy="191.04" r="0.45" fill="#111" fill-opacity="0.45"/><circle cx="103.81" cy="182.11" r="0.45" fill="#111" fill-opacity="0.45"/><circle cx="102.65" cy="178.25" r="0.45" fill="#111" fill-opacity="0.45"/><circle cx="104.02" cy="182.20" r="0.45" fill="#111" fill-opacity="0.45"/><circle cx="103.61" cy="185.32" r="0.45" fill="#111" fill-opacity="0.45"/><circle cx="102.43" cy="186.94" r="0.45" fill="#111" fill-opacity="0.45"/><circle cx="103.83" cy="181.22" r="0.45" fill="#111" fill-opacity="0.45"/><circle cx="104.79" cy="183.75" r="0.45" fill="#111" fill-opacity="0.45"/><circle cx="103.00" cy="188.36" r="0.45" fill="#111" fill-opacity="0.45"/><circle cx="101.99" cy="188.32" r="0.45" fill="#111" fill-opacity="0.45"/><circle cx="103.82" cy="191.69" r="0.45" fill="#111" fill-opacity="0.45"/><circle cx="105.83" cy="185.14" r="0.45" fill="#111" fill-opacity="0.45"/><circle cx="102.24" cy="187.59" r="0.45" fill="#111" fill-opacity="0.45"/><circle cx="102.44" cy="190.62" r="0.45" fill="#111" fill-opacity="0.45"/><circle cx="102.37" cy="190.73" r="0.45" fill="#111" fill-opacity="0.45"/><circle cx="104.68" cy="186.06" r="0.45" fill="#111" fill-opacity="0.45"/><circle cx="99.48" cy="186.32" r="0.45" fill="#111" fill-opacity="0.45"/><circle cx="103.22" cy="177.89" r="0.45" fill="#111" fill-opacity="0.45"/><circle cx="104.63" cy="180.33" r="0.45" fill="#111" fill-opacity="0.45"/><circle cx="101.22" cy="179.47" r="0.45" fill="#111" fill-opacity="0.45"/><circle cx="105.13" cy="184.98" r="0.45" fill="#111" fill-opacity="0.45"/><circle cx="103.51" cy="183.90" r="0.45" fill="#111" fill-opacity="0.45"/><circle cx="101.67" cy="181.58" r="0.45" fill="#111" fill-opacity="0.45"/><circle cx="102.95" cy="186.38" r="0.45" fill="#111" fill-opacity="0.45"/><circle cx="99.99" cy="187.02" r="0.45" fill="#111" fill-opacity="0.45"/><circle cx="101.64" cy="189.92" r="0.45" fill="#111" fill-opacity="0.45"/><circle cx="105.71" cy="183.69" r="0.45" fill="#111" fill-opacity="0.45"/><circle cx="101.08" cy="187.31" r="0.45" fill="#111" fill-opacity="0.45"/><circle cx="105.74" cy="185.57" r="0.45" fill="#111" fill-opacity="0.45"/><circle cx="102.46" cy="189.26" r="0.45" fill="#111" fill-opacity="0.45"/><circle cx="104.29" cy="182.54" r="0.45" fill="#111" fill-opacity="0.45"/><circle cx="102.67" cy="187.75" r="0.45" fill="#111" fill-opacity="0.45"/><circle cx="98.79" cy="180.64" r="0.45" fill="#111" fill-opacity="0.45"/><circle cx="101.63" cy="187.41" r="0.45" fill="#111" fill-opacity="0.45"/><circle cx="102.92" cy="191.15" r="0.45" fill="#111" fill-opacity="0.45"/><circle cx="100.64" cy="177.23" r="0.45" fill="#111" fill-opacity="0.45"/><circle cx="100.31" cy="185.01" r="0.45" fill="#111" fill-opacity="0.45"/><circle cx="103.22" cy="185.33" r="0.45" fill="#111" fill-opacity="0.45"/><circle cx="101.50" cy="182.69" r="0.45" fill="#111" fill-opacity="0.45"/><circle cx="99.72" cy="189.97" r="0.45" fill="#111" fill-opacity="0.45"/><circle cx="101.44" cy="188.11" r="0.45" fill="#111" fill-opacity="0.45"/><circle cx="104.06" cy="188.03" r="0.45" fill="#111" fill-opacity="0.45"/><circle cx="101.79" cy="184.96" r="0.45" fill="#111" fill-opacity="0.45"/><circle cx="104.19" cy="191.84" r="0.45" fill="#111" fill-opacity="0.45"/><circle cx="105.20" cy="187.48" r="0.45" fill="#111" fill-opacity="0.45"/><circle cx="102.66" cy="184.19" r="0.45" fill="#111" fill-opacity="0.45"/><circle cx="100.68" cy="185.65" r="0.45" fill="#111" fill-opacity="0.45"/><circle cx="100.39" cy="186.02" r="0.45" fill="#111" fill-opacity="0.45"/><circle cx="102.56" cy="183.96" r="0.45" fill="#111" fill-opacity="0.45"/><circle cx="104.10" cy="186.48" r="0.45" fill="#111" fill-opacity="0.45"/><circle cx="103.06" cy="190.91" r="0.45" fill="#111" fill-opacity="0.45"/><circle cx="103.53" cy="180.81" r="0.45" fill="#111" fill-opacity="0.45"/><circle cx="101.85" cy="185.77" r="0.45" fill="#111" fill-opacity="0.45"/><circle cx="103.11" cy="186.37" r="0.45" fill="#111" fill-opacity="0.45"/><circle cx="101.80" cy="190.03" r="0.45" fill="#111" fill-opacity="0.45"/><circle cx="102.05" cy="181.06" r="0.45" fill="#111" fill-opacity="0.45"/><circle cx="100.40" cy="191.71" r="0.45" fill="#111" fill-opacity="0.45"/><circle cx="99.93" cy="188.86" r="0.45" fill="#111" fill-opacity="0.45"/><circle cx="101.78" cy="172.45" r="0.45" fill="#111" fill-opacity="0.45"/><circle cx="100.72" cy="192.00" r="0.45" fill="#111" fill-opacity="0.45"/><circle cx="100.97" cy="191.47" r="0.45" fill="#111" fill-opacity="0.45"/><circle cx="103.74" cy="184.73" r="0.45" fill="#111" fill-opacity="0.45"/><circle cx="102.42" cy="187.33" r="0.45" fill="#111" fill-opacity="0.45"/><circle cx="107.55" cy="180.59" r="0.45" fill="#111" fill-opacity="0.45"/><circle cx="104.17" cy="191.22" r="0.45" fill="#111" fill-opacity="0.45"/><circle cx="101.52" cy="183.36" r="0.45" fill="#111" fill-opacity="0.45"/><circle cx="103.92" cy="185.27" r="0.45" fill="#111" fill-opacity="0.45"/><circle cx="103.21" cy="191.71" r="0.45" fill="#111" fill-opacity="0.45"/><circle cx="101.43" cy="186.02" r="0.45" fill="#111" fill-opacity="0.45"/><circle cx="104.47" cy="186.66" r="0.45" fill="#111" fill-opacity="0.45"/><circle cx="101.28" cy="186.42" r="0.45" fill="#111" fill-opacity="0.45"/><circle cx="97.40" cy="188.56" r="0.45" fill="#111" fill-opacity="0.45"/><circle cx="103.95" cy="189.11" r="0.45" fill="#111" fill-opacity="0.45"/><circle cx="101.55" cy="187.90" r="0.45" fill="#111" fill-opacity="0.45"/><circle cx="105.13" cy="187.25" r="0.45" fill="#111" fill-opacity="0.45"/><circle cx="101.50" cy="188.95" r="0.45" fill="#111" fill-opacity="0.45"/><circle cx="100.59" cy="190.91" r="0.45" fill="#111" fill-opacity="0.45"/><circle cx="105.23" cy="188.04" r="0.45" fill="#111" fill-opacity="0.45"/><circle cx="100.77" cy="182.45" r="0.45" fill="#111" fill-opacity="0.45"/><circle cx="102.95" cy="190.57" r="0.45" fill="#111" fill-opacity="0.45"/><circle cx="105.06" cy="188.02" r="0.45" fill="#111" fill-opacity="0.45"/><circle cx="102.79" cy="184.06" r="0.45" fill="#111" fill-opacity="0.45"/><circle cx="102.46" cy="191.82" r="0.45" fill="#111" fill-opacity="0.45"/><circle cx="102.77" cy="190.71" r="0.45" fill="#111" fill-opacity="0.45"/><circle cx="104.03" cy="190.86" r="0.45" fill="#111" fill-opacity="0.45"/><circle cx="101.23" cy="186.58" r="0.45" fill="#111" fill-opacity="0.45"/><circle cx="103.64" cy="190.50" r="0.45" fill="#111" fill-opacity="0.45"/><circle cx="103.58" cy="188.88" r="0.45" fill="#111" fill-opacity="0.45"/><circle cx="106.57" cy="189.84" r="0.45" fill="#111" fill-opacity="0.45"/><circle cx="102.03" cy="184.21" r="0.45" fill="#111" fill-opacity="0.45"/><circle cx="101.04" cy="189.58" r="0.45" fill="#111" fill-opacity="0.45"/><circle cx="103.85" cy="176.16" r="0.45" fill="#111" fill-opacity="0.45"/><circle cx="101.92" cy="185.99" r="0.45" fill="#111" fill-opacity="0.45"/><circle cx="103.09" cy="188.01" r="0.45" fill="#111" fill-opacity="0.45"/><circle cx="102.83" cy="190.22" r="0.45" fill="#111" fill-opacity="0.45"/><circle cx="104.59" cy="183.73" r="0.45" fill="#111" fill-opacity="0.45"/><circle cx="101.48" cy="191.33" r="0.45" fill="#111" fill-opacity="0.45"/><circle cx="102.44" cy="188.70" r="0.45" fill="#111" fill-opacity="0.45"/><circle cx="98.26" cy="184.70" r="0.45" fill="#111" fill-opacity="0.45"/><circle cx="101.09" cy="181.73" r="0.45" fill="#111" fill-opacity="0.45"/><circle cx="105.21" cy="185.76" r="0.45" fill="#111" fill-opacity="0.45"/><circle cx="101.44" cy="190.68" r="0.45" fill="#111" fill-opacity="0.45"/><circle cx="101.41" cy="186.09" r="0.45" fill="#111" fill-opacity="0.45"/><circle cx="100.53" cy="188.53" r="0.45" fill="#111" fill-opacity="0.45"/><circle cx="103.59" cy="189.69" r="0.45" fill="#111" fill-opacity="0.45"/><circle cx="102.90" cy="189.67" r="0.45" fill="#111" fill-opacity="0.45"/><circle cx="100.58" cy="186.61" r="0.45" fill="#111" fill-opacity="0.45"/><circle cx="103.73" cy="190.45" r="0.45" fill="#111" fill-opacity="0.45"/><circle cx="103.04" cy="191.85" r="0.45" fill="#111" fill-opacity="0.45"/><circle cx="103.88" cy="190.57" r="0.45" fill="#111" fill-opacity="0.45"/><circle cx="101.51" cy="184.70" r="0.45" fill="#111" fill-opacity="0.45"/><circle cx="105.55" cy="188.02" r="0.45" fill="#111" fill-opacity="0.45"/><circle cx="103.30" cy="189.12" r="0.45" fill="#111" fill-opacity="0.45"/><circle cx="102.40" cy="182.56" r="0.45" fill="#111" fill-opacity="0.45"/><circle cx="101.72" cy="191.65" r="0.45" fill="#111" fill-opacity="0.45"/><circle cx="102.18" cy="181.55" r="0.45" fill="#111" fill-opacity="0.45"/><circle cx="104.06" cy="191.77" r="0.45" fill="#111" fill-opacity="0.45"/><circle cx="102.14" cy="183.68" r="0.45" fill="#111" fill-opacity="0.45"/><circle cx="104.43" cy="187.42" r="0.45" fill="#111" fill-opacity="0.45"/><circle cx="103.59" cy="184.61" r="0.45" fill="#111" fill-opacity="0.45"/><circle cx="104.89" cy="189.13" r="0.45" fill="#111" fill-opacity="0.45"/><circle cx="103.98" cy="184.13" r="0.45" fill="#111" fill-opacity="0.45"/><circle cx="102.49" cy="189.54" r="0.45" fill="#111" fill-opacity="0.45"/><circle cx="99.35" cy="191.19" r="0.45" fill="#111" fill-opacity="0.45"/><circle cx="103.11" cy="173.65" r="0.45" fill="#111" fill-opacity="0.45"/><circle cx="103.94" cy="190.35" r="0.45" fill="#111" fill-opacity="0.45"/><circle cx="102.88" cy="190.17" r="0.45" fill="#111" fill-opacity="0.45"/><circle cx="103.55" cy="186.29" r="0.45" fill="#111" fill-opacity="0.45"/><circle cx="101.80" cy="191.12" r="0.45" fill="#111" fill-opacity="0.45"/><circle cx="101.95" cy="191.20" r="0.45" fill="#111" fill-opacity="0.45"/><circle cx="101.00" cy="189.29" r="0.45" fill="#111" fill-opacity="0.45"/><circle cx="104.92" cy="173.94" r="0.45" fill="#111" fill-opacity="0.45"/><circle cx="102.87" cy="181.53" r="0.45" fill="#111" fill-opacity="0.45"/><circle cx="101.76" cy="183.86" r="0.45" fill="#111" fill-opacity="0.45"/><circle cx="100.34" cy="183.78" r="0.45" fill="#111" fill-opacity="0.45"/><circle cx="102.34" cy="188.10" r="0.45" fill="#111" fill-opacity="0.45"/><circle cx="105.05" cy="191.93" r="0.45" fill="#111" fill-opacity="0.45"/><circle cx="103.39" cy="182.50" r="0.45" fill="#111" fill-opacity="0.45"/><circle cx="101.37" cy="190.55" r="0.45" fill="#111" fill-opacity="0.45"/><circle cx="105.03" cy="183.33" r="0.45" fill="#111" fill-opacity="0.45"/><circle cx="105.03" cy="186.65" r="0.45" fill="#111" fill-opacity="0.45"/><circle cx="104.27" cy="180.61" r="0.45" fill="#111" fill-opacity="0.45"/><circle cx="103.94" cy="185.67" r="0.45" fill="#111" fill-opacity="0.45"/><circle cx="104.56" cy="189.16" r="0.45" fill="#111" fill-opacity="0.45"/><circle cx="103.52" cy="191.21" r="0.45" fill="#111" fill-opacity="0.45"/><circle cx="103.92" cy="189.82" r="0.45" fill="#111" fill-opacity="0.45"/><circle cx="101.27" cy="185.23" r="0.45" fill="#111" fill-opacity="0.45"/><circle cx="105.15" cy="191.55" r="0.45" fill="#111" fill-opacity="0.45"/><circle cx="102.99" cy="186.92" r="0.45" fill="#111" fill-opacity="0.45"/><circle cx="106.04" cy="189.77" r="0.45" fill="#111" fill-opacity="0.45"/><circle cx="99.13" cy="179.79" r="0.45" fill="#111" fill-opacity="0.45"/><circle cx="103.80" cy="191.88" r="0.45" fill="#111" fill-opacity="0.45"/><circle cx="104.27" cy="189.74" r="0.45" fill="#111" fill-opacity="0.45"/><circle cx="102.02" cy="191.14" r="0.45" fill="#111" fill-opacity="0.45"/><circle cx="103.37" cy="190.30" r="0.45" fill="#111" fill-opacity="0.45"/><circle cx="103.87" cy="188.91" r="0.45" fill="#111" fill-opacity="0.45"/><circle cx="103.58" cy="191.80" r="0.45" fill="#111" fill-opacity="0.45"/><circle cx="101.68" cy="190.70" r="0.45" fill="#111" fill-opacity="0.45"/><circle cx="102.36" cy="186.01" r="0.45" fill="#111" fill-opacity="0.45"/><circle cx="104.33" cy="185.53" r="0.45" fill="#111" fill-opacity="0.45"/><circle cx="104.77" cy="189.09" r="0.45" fill="#111" fill-opacity="0.45"/><circle cx="102.77" cy="186.53" r="0.45" fill="#111" fill-opacity="0.45"/><circle cx="102.73" cy="185.23" r="0.45" fill="#111" fill-opacity="0.45"/><circle cx="102.94" cy="191.73" r="0.45" fill="#111" fill-opacity="0.45"/><circle cx="104.36" cy="185.69" r="0.45" fill="#111" fill-opacity="0.45"/><circle cx="100.81" cy="187.42" r="0.45" fill="#111" fill-opacity="0.45"/><circle cx="100.34" cy="187.53" r="0.45" fill="#111" fill-opacity="0.45"/><circle cx="102.81" cy="180.62" r="0.45" fill="#111" fill-opacity="0.45"/><circle cx="100.72" cy="186.13" r="0.45" fill="#111" fill-opacity="0.45"/><circle cx="101.60" cy="187.78" r="0.45" fill="#111" fill-opacity="0.45"/><circle cx="102.75" cy="179.67" r="0.45" fill="#111" fill-opacity="0.45"/><circle cx="103.42" cy="183.43" r="0.45" fill="#111" fill-opacity="0.45"/><circle cx="100.78" cy="182.29" r="0.45" fill="#111" fill-opacity="0.45"/><circle cx="103.96" cy="186.25" r="0.45" fill="#111" fill-opacity="0.45"/><circle cx="99.58" cy="178.43" r="0.45" fill="#111" fill-opacity="0.45"/><circle cx="103.53" cy="186.40" r="0.45" fill="#111" fill-opacity="0.45"/><circle cx="99.92" cy="183.71" r="0.45" fill="#111" fill-opacity="0.45"/><circle cx="100.43" cy="184.30" r="0.45" fill="#111" fill-opacity="0.45"/><circle cx="103.69" cy="177.62" r="0.45" fill="#111" fill-opacity="0.45"/><circle cx="101.91" cy="190.10" r="0.45" fill="#111" fill-opacity="0.45"/><circle cx="101.25" cy="184.82" r="0.45" fill="#111" fill-opacity="0.45"/><circle cx="101.84" cy="188.81" r="0.45" fill="#111" fill-opacity="0.45"/><circle cx="103.39" cy="188.78" r="0.45" fill="#111" fill-opacity="0.45"/><circle cx="102.51" cy="189.22" r="0.45" fill="#111" fill-opacity="0.45"/><circle cx="102.55" cy="181.29" r="0.45" fill="#111" fill-opacity="0.45"/><circle cx="104.39" cy="188.15" r="0.45" fill="#111" fill-opacity="0.45"/><circle cx="101.38" cy="184.24" r="0.45" fill="#111" fill-opacity="0.45"/><circle cx="101.80" cy="180.32" r="0.45" fill="#111" fill-opacity="0.45"/><circle cx="101.71" cy="189.51" r="0.45" fill="#111" fill-opacity="0.45"/><circle cx="104.59" cy="183.37" r="0.45" fill="#111" fill-opacity="0.45"/><circle cx="104.29" cy="189.47" r="0.45" fill="#111" fill-opacity="0.45"/><circle cx="104.79" cy="190.59" r="0.45" fill="#111" fill-opacity="0.45"/><circle cx="102.54" cy="183.51" r="0.45" fill="#111" fill-opacity="0.45"/><circle cx="102.33" cy="190.74" r="0.45" fill="#111" fill-opacity="0.45"/><circle cx="104.05" cy="183.38" r="0.45" fill="#111" fill-opacity="0.45"/><circle cx="101.93" cy="188.30" r="0.45" fill="#111" fill-opacity="0.45"/><circle cx="104.01" cy="187.62" r="0.45" fill="#111" fill-opacity="0.45"/><circle cx="103.83" cy="185.52" r="0.45" fill="#111" fill-opacity="0.45"/><circle cx="101.41" cy="186.89" r="0.45" fill="#111" fill-opacity="0.45"/><circle cx="102.46" cy="183.66" r="0.45" fill="#111" fill-opacity="0.45"/><circle cx="102.40" cy="191.03" r="0.45" fill="#111" fill-opacity="0.45"/><circle cx="105.55" cy="183.13" r="0.45" fill="#111" fill-opacity="0.45"/><circle cx="107.00" cy="188.76" r="0.45" fill="#111" fill-opacity="0.45"/><circle cx="102.43" cy="191.97" r="0.45" fill="#111" fill-opacity="0.45"/><circle cx="102.62" cy="183.63" r="0.45" fill="#111" fill-opacity="0.45"/><circle cx="98.72" cy="188.69" r="0.45" fill="#111" fill-opacity="0.45"/><circle cx="102.96" cy="190.22" r="0.45" fill="#111" fill-opacity="0.45"/><circle cx="102.59" cy="177.77" r="0.45" fill="#111" fill-opacity="0.45"/><circle cx="100.78" cy="179.09" r="0.45" fill="#111" fill-opacity="0.45"/><circle cx="103.94" cy="189.47" r="0.45" fill="#111" fill-opacity="0.45"/><circle cx="99.94" cy="185.32" r="0.45" fill="#111" fill-opacity="0.45"/><circle cx="102.23" cy="179.65" r="0.45" fill="#111" fill-opacity="0.45"/><circle cx="102.84" cy="191.73" r="0.45" fill="#111" fill-opacity="0.45"/><circle cx="100.48" cy="184.26" r="0.45" fill="#111" fill-opacity="0.45"/><circle cx="104.06" cy="188.37" r="0.45" fill="#111" fill-opacity="0.45"/><circle cx="104.39" cy="180.09" r="0.45" fill="#111" fill-opacity="0.45"/><circle cx="100.24" cy="184.94" r="0.45" fill="#111" fill-opacity="0.45"/><circle cx="100.21" cy="186.23" r="0.45" fill="#111" fill-opacity="0.45"/><circle cx="103.62" cy="188.71" r="0.45" fill="#111" fill-opacity="0.45"/><circle cx="102.55" cy="181.01" r="0.45" fill="#111" fill-opacity="0.45"/><circle cx="100.54" cy="188.01" r="0.45" fill="#111" fill-opacity="0.45"/><circle cx="102.10" cy="189.02" r="0.45" fill="#111" fill-opacity="0.45"/><circle cx="102.42" cy="188.04" r="0.45" fill="#111" fill-opacity="0.45"/><circle cx="102.36" cy="191.47" r="0.45" fill="#111" fill-opacity="0.45"/><circle cx="104.01" cy="184.69" r="0.45" fill="#111" fill-opacity="0.45"/><circle cx="103.25" cy="191.57" r="0.45" fill="#111" fill-opacity="0.45"/><circle cx="105.61" cy="177.19" r="0.45" fill="#111" fill-opacity="0.45"/><circle cx="104.94" cy="191.29" r="0.45" fill="#111" fill-opacity="0.45"/><circle cx="103.75" cy="188.66" r="0.45" fill="#111" fill-opacity="0.45"/><circle cx="104.43" cy="187.15" r="0.45" fill="#111" fill-opacity="0.45"/><circle cx="104.85" cy="191.00" r="0.45" fill="#111" fill-opacity="0.45"/><circle cx="103.80" cy="191.73" r="0.45" fill="#111" fill-opacity="0.45"/><circle cx="100.52" cy="190.66" r="0.45" fill="#111" fill-opacity="0.45"/><circle cx="104.06" cy="185.20" r="0.45" fill="#111" fill-opacity="0.45"/><circle cx="102.72" cy="188.07" r="0.45" fill="#111" fill-opacity="0.45"/><circle cx="105.35" cy="185.76" r="0.45" fill="#111" fill-opacity="0.45"/><circle cx="102.76" cy="183.64" r="0.45" fill="#111" fill-opacity="0.45"/><circle cx="103.49" cy="189.96" r="0.45" fill="#111" fill-opacity="0.45"/><circle cx="103.16" cy="187.10" r="0.45" fill="#111" fill-opacity="0.45"/><circle cx="105.46" cy="183.29" r="0.45" fill="#111" fill-opacity="0.45"/><circle cx="102.90" cy="186.09" r="0.45" fill="#111" fill-opacity="0.45"/><circle cx="102.14" cy="172.36" r="0.45" fill="#111" fill-opacity="0.45"/><circle cx="103.13" cy="189.29" r="0.45" fill="#111" fill-opacity="0.45"/><circle cx="101.85" cy="186.03" r="0.45" fill="#111" fill-opacity="0.45"/><circle cx="102.88" cy="185.66" r="0.45" fill="#111" fill-opacity="0.45"/><circle cx="102.59" cy="188.29" r="0.45" fill="#111" fill-opacity="0.45"/><circle cx="103.06" cy="180.20" r="0.45" fill="#111" fill-opacity="0.45"/><circle cx="105.87" cy="186.22" r="0.45" fill="#111" fill-opacity="0.45"/><circle cx="101.91" cy="190.41" r="0.45" fill="#111" fill-opacity="0.45"/><circle cx="102.66" cy="190.90" r="0.45" fill="#111" fill-opacity="0.45"/><circle cx="102.26" cy="191.89" r="0.45" fill="#111" fill-opacity="0.45"/><circle cx="103.74" cy="185.83" r="0.45" fill="#111" fill-opacity="0.45"/><circle cx="100.59" cy="184.23" r="0.45" fill="#111" fill-opacity="0.45"/><circle cx="101.42" cy="191.83" r="0.45" fill="#111" fill-opacity="0.45"/><circle cx="102.53" cy="181.40" r="0.45" fill="#111" fill-opacity="0.45"/><circle cx="103.53" cy="187.06" r="0.45" fill="#111" fill-opacity="0.45"/><circle cx="102.52" cy="190.58" r="0.45" fill="#111" fill-opacity="0.45"/><circle cx="101.75" cy="178.99" r="0.45" fill="#111" fill-opacity="0.45"/><circle cx="101.13" cy="191.09" r="0.45" fill="#111" fill-opacity="0.45"/><circle cx="103.47" cy="183.85" r="0.45" fill="#111" fill-opacity="0.45"/><circle cx="105.05" cy="188.98" r="0.45" fill="#111" fill-opacity="0.45"/><circle cx="103.15" cy="190.22" r="0.45" fill="#111" fill-opacity="0.45"/><circle cx="102.92" cy="191.41" r="0.45" fill="#111" fill-opacity="0.45"/><circle cx="103.35" cy="190.51" r="0.45" fill="#111" fill-opacity="0.45"/><circle cx="101.00" cy="189.69" r="0.45" fill="#111" fill-opacity="0.45"/><circle cx="102.07" cy="191.66" r="0.45" fill="#111" fill-opacity="0.45"/><circle cx="102.14" cy="186.78" r="0.45" fill="#111" fill-opacity="0.45"/><circle cx="103.10" cy="182.78" r="0.45" fill="#111" fill-opacity="0.45"/><circle cx="102.55" cy="190.96" r="0.45" fill="#111" fill-opacity="0.45"/><circle cx="100.53" cy="186.92" r="0.45" fill="#111" fill-opacity="0.45"/><circle cx="104.51" cy="184.96" r="0.45" fill="#111" fill-opacity="0.45"/><circle cx="105.48" cy="184.21" r="0.45" fill="#111" fill-opacity="0.45"/><circle cx="102.15" cy="180.51" r="0.45" fill="#111" fill-opacity="0.45"/><circle cx="103.28" cy="179.69" r="0.45" fill="#111" fill-opacity="0.45"/><circle cx="103.05" cy="181.91" r="0.45" fill="#111" fill-opacity="0.45"/><circle cx="103.93" cy="191.32" r="0.45" fill="#111" fill-opacity="0.45"/><circle cx="100.08" cy="189.13" r="0.45" fill="#111" fill-opacity="0.45"/><circle cx="105.34" cy="185.22" r="0.45" fill="#111" fill-opacity="0.45"/><circle cx="101.80" cy="181.93" r="0.45" fill="#111" fill-opacity="0.45"/><circle cx="104.75" cy="189.39" r="0.45" fill="#111" fill-opacity="0.45"/><circle cx="102.74" cy="181.16" r="0.45" fill="#111" fill-opacity="0.45"/><circle cx="101.94" cy="184.94" r="0.45" fill="#111" fill-opacity="0.45"/><circle cx="102.36" cy="187.17" r="0.45" fill="#111" fill-opacity="0.45"/><circle cx="104.13" cy="189.59" r="0.45" fill="#111" fill-opacity="0.45"/><circle cx="101.13" cy="177.32" r="0.45" fill="#111" fill-opacity="0.45"/><circle cx="101.96" cy="177.67" r="0.45" fill="#111" fill-opacity="0.45"/><circle cx="101.78" cy="190.21" r="0.45" fill="#111" fill-opacity="0.45"/><circle cx="99.68" cy="183.80" r="0.45" fill="#111" fill-opacity="0.45"/><circle cx="104.81" cy="184.54" r="0.45" fill="#111" fill-opacity="0.45"/><circle cx="103.58" cy="187.86" r="0.45" fill="#111" fill-opacity="0.45"/><circle cx="102.56" cy="189.01" r="0.45" fill="#111" fill-opacity="0.45"/><circle cx="104.58" cy="181.42" r="0.45" fill="#111" fill-opacity="0.45"/><circle cx="100.97" cy="187.94" r="0.45" fill="#111" fill-opacity="0.45"/><circle cx="102.48" cy="187.73" r="0.45" fill="#111" fill-opacity="0.45"/><circle cx="105.53" cy="191.02" r="0.45" fill="#111" fill-opacity="0.45"/><circle cx="104.27" cy="182.79" r="0.45" fill="#111" fill-opacity="0.45"/><circle cx="98.82" cy="191.21" r="0.45" fill="#111" fill-opacity="0.45"/><circle cx="100.84" cy="191.52" r="0.45" fill="#111" fill-opacity="0.45"/><circle cx="104.40" cy="188.04" r="0.45" fill="#111" fill-opacity="0.45"/><circle cx="101.80" cy="185.60" r="0.45" fill="#111" fill-opacity="0.45"/><circle cx="102.23" cy="186.71" r="0.45" fill="#111" fill-opacity="0.45"/><circle cx="103.63" cy="182.60" r="0.45" fill="#111" fill-opacity="0.45"/><circle cx="101.10" cy="180.57" r="0.45" fill="#111" fill-opacity="0.45"/><circle cx="102.96" cy="179.87" r="0.45" fill="#111" fill-opacity="0.45"/><circle cx="103.95" cy="181.99" r="0.45" fill="#111" fill-opacity="0.45"/><circle cx="103.39" cy="188.72" r="0.45" fill="#111" fill-opacity="0.45"/><circle cx="103.27" cy="187.82" r="0.45" fill="#111" fill-opacity="0.45"/><circle cx="101.58" cy="186.32" r="0.45" fill="#111" fill-opacity="0.45"/><circle cx="103.47" cy="185.41" r="0.45" fill="#111" fill-opacity="0.45"/><circle cx="101.87" cy="186.24" r="0.45" fill="#111" fill-opacity="0.45"/><circle cx="104.82" cy="184.41" r="0.45" fill="#111" fill-opacity="0.45"/><circle cx="106.97" cy="180.89" r="0.45" fill="#111" fill-opacity="0.45"/><circle cx="101.34" cy="187.38" r="0.45" fill="#111" fill-opacity="0.45"/><circle cx="98.90" cy="185.77" r="0.45" fill="#111" fill-opacity="0.45"/><circle cx="101.88" cy="182.71" r="0.45" fill="#111" fill-opacity="0.45"/><circle cx="103.24" cy="189.72" r="0.45" fill="#111" fill-opacity="0.45"/><circle cx="104.39" cy="184.71" r="0.45" fill="#111" fill-opacity="0.45"/><circle cx="104.43" cy="179.98" r="0.45" fill="#111" fill-opacity="0.45"/><circle cx="101.27" cy="191.45" r="0.45" fill="#111" fill-opacity="0.45"/><circle cx="101.25" cy="191.28" r="0.45" fill="#111" fill-opacity="0.45"/><circle cx="104.75" cy="189.09" r="0.45" fill="#111" fill-opacity="0.45"/><circle cx="100.74" cy="188.21" r="0.45" fill="#111" fill-opacity="0.45"/><circle cx="104.45" cy="184.75" r="0.45" fill="#111" fill-opacity="0.45"/><circle cx="102.21" cy="191.13" r="0.45" fill="#111" fill-opacity="0.45"/><circle cx="103.90" cy="187.62" r="0.45" fill="#111" fill-opacity="0.45"/><circle cx="103.80" cy="190.09" r="0.45" fill="#111" fill-opacity="0.45"/><circle cx="103.92" cy="183.08" r="0.45" fill="#111" fill-opacity="0.45"/><circle cx="103.99" cy="190.20" r="0.45" fill="#111" fill-opacity="0.45"/><circle cx="100.92" cy="188.08" r="0.45" fill="#111" fill-opacity="0.45"/><circle cx="103.11" cy="182.61" r="0.45" fill="#111" fill-opacity="0.45"/><circle cx="102.62" cy="184.05" r="0.45" fill="#111" fill-opacity="0.45"/><circle cx="103.12" cy="190.49" r="0.45" fill="#111" fill-opacity="0.45"/><circle cx="104.70" cy="186.97" r="0.45" fill="#111" fill-opacity="0.45"/><circle cx="102.14" cy="178.37" r="0.45" fill="#111" fill-opacity="0.45"/><circle cx="101.39" cy="191.98" r="0.45" fill="#111" fill-opacity="0.45"/><circle cx="101.36" cy="181.34" r="0.45" fill="#111" fill-opacity="0.45"/><circle cx="102.07" cy="179.51" r="0.45" fill="#111" fill-opacity="0.45"/><circle cx="103.88" cy="173.03" r="0.45" fill="#111" fill-opacity="0.45"/><circle cx="101.21" cy="186.40" r="0.45" fill="#111" fill-opacity="0.45"/><circle cx="104.57" cy="189.43" r="0.45" fill="#111" fill-opacity="0.45"/><circle cx="103.09" cy="184.26" r="0.45" fill="#111" fill-opacity="0.45"/><circle cx="102.22" cy="190.55" r="0.45" fill="#111" fill-opacity="0.45"/><circle cx="100.34" cy="191.66" r="0.45" fill="#111" fill-opacity="0.45"/><circle cx="103.02" cy="188.18" r="0.45" fill="#111" fill-opacity="0.45"/><circle cx="103.78" cy="191.78" r="0.45" fill="#111" fill-opacity="0.45"/><circle cx="99.60" cy="180.12" r="0.45" fill="#111" fill-opacity="0.45"/><circle cx="104.63" cy="184.77" r="0.45" fill="#111" fill-opacity="0.45"/><circle cx="105.40" cy="185.34" r="0.45" fill="#111" fill-opacity="0.45"/><circle cx="103.18" cy="185.23" r="0.45" fill="#111" fill-opacity="0.45"/><circle cx="103.44" cy="179.86" r="0.45" fill="#111" fill-opacity="0.45"/><circle cx="106.70" cy="190.45" r="0.45" fill="#111" fill-opacity="0.45"/><circle cx="104.69" cy="186.12" r="0.45" fill="#111" fill-opacity="0.45"/><circle cx="101.07" cy="191.64" r="0.45" fill="#111" fill-opacity="0.45"/><circle cx="102.57" cy="185.87" r="0.45" fill="#111" fill-opacity="0.45"/><circle cx="102.33" cy="187.15" r="0.45" fill="#111" fill-opacity="0.45"/><circle cx="102.34" cy="188.69" r="0.45" fill="#111" fill-opacity="0.45"/><circle cx="98.58" cy="185.18" r="0.45" fill="#111" fill-opacity="0.45"/><circle cx="103.89" cy="175.22" r="0.45" fill="#111" fill-opacity="0.45"/><circle cx="101.52" cy="186.50" r="0.45" fill="#111" fill-opacity="0.45"/><circle cx="102.88" cy="181.24" r="0.45" fill="#111" fill-opacity="0.45"/><circle cx="102.37" cy="191.85" r="0.45" fill="#111" fill-opacity="0.45"/><circle cx="104.08" cy="191.20" r="0.45" fill="#111" fill-opacity="0.45"/><circle cx="102.10" cy="180.17" r="0.45" fill="#111" fill-opacity="0.45"/><circle cx="101.25" cy="187.55" r="0.45" fill="#111" fill-opacity="0.45"/><circle cx="103.51" cy="181.29" r="0.45" fill="#111" fill-opacity="0.45"/><circle cx="104.99" cy="186.59" r="0.45" fill="#111" fill-opacity="0.45"/><circle cx="102.06" cy="176.00" r="0.45" fill="#111" fill-opacity="0.45"/><circle cx="104.93" cy="174.04" r="0.45" fill="#111" fill-opacity="0.45"/><circle cx="103.05" cy="185.84" r="0.45" fill="#111" fill-opacity="0.45"/><circle cx="101.69" cy="177.95" r="0.45" fill="#111" fill-opacity="0.45"/><circle cx="105.19" cy="188.62" r="0.45" fill="#111" fill-opacity="0.45"/><circle cx="101.21" cy="188.30" r="0.45" fill="#111" fill-opacity="0.45"/><circle cx="104.32" cy="191.27" r="0.45" fill="#111" fill-opacity="0.45"/><circle cx="101.75" cy="186.47" r="0.45" fill="#111" fill-opacity="0.45"/><circle cx="103.37" cy="183.81" r="0.45" fill="#111" fill-opacity="0.45"/><circle cx="100.50" cy="186.70" r="0.45" fill="#111" fill-opacity="0.45"/><circle cx="101.18" cy="186.43" r="0.45" fill="#111" fill-opacity="0.45"/><circle cx="104.41" cy="189.66" r="0.45" fill="#111" fill-opacity="0.45"/><circle cx="102.92" cy="184.92" r="0.45" fill="#111" fill-opacity="0.45"/><circle cx="102.67" cy="186.29" r="0.45" fill="#111" fill-opacity="0.45"/><circle cx="101.85" cy="189.05" r="0.45" fill="#111" fill-opacity="0.45"/><circle cx="103.36" cy="187.75" r="0.45" fill="#111" fill-opacity="0.45"/><circle cx="100.22" cy="179.00" r="0.45" fill="#111" fill-opacity="0.45"/><circle cx="100.70" cy="188.77" r="0.45" fill="#111" fill-opacity="0.45"/><circle cx="102.33" cy="190.70" r="0.45" fill="#111" fill-opacity="0.45"/><circle cx="101.18" cy="189.11" r="0.45" fill="#111" fill-opacity="0.45"/><circle cx="101.41" cy="181.08" r="0.45" fill="#111" fill-opacity="0.45"/><circle cx="102.48" cy="190.85" r="0.45" fill="#111" fill-opacity="0.45"/><circle cx="102.37" cy="190.70" r="0.45" fill="#111" fill-opacity="0.45"/><circle cx="102.22" cy="174.85" r="0.45" fill="#111" fill-opacity="0.45"/><circle cx="105.43" cy="187.59" r="0.45" fill="#111" fill-opacity="0.45"/><circle cx="104.32" cy="191.86" r="0.45" fill="#111" fill-opacity="0.45"/><circle cx="104.69" cy="186.68" r="0.45" fill="#111" fill-opacity="0.45"/><circle cx="102.55" cy="188.89" r="0.45" fill="#111" fill-opacity="0.45"/><circle cx="101.74" cy="184.39" r="0.45" fill="#111" fill-opacity="0.45"/><circle cx="100.13" cy="188.16" r="0.45" fill="#111" fill-opacity="0.45"/><circle cx="102.01" cy="177.06" r="0.45" fill="#111" fill-opacity="0.45"/><circle cx="99.05" cy="186.14" r="0.45" fill="#111" fill-opacity="0.45"/><circle cx="101.61" cy="184.84" r="0.45" fill="#111" fill-opacity="0.45"/><circle cx="103.90" cy="186.17" r="0.45" fill="#111" fill-opacity="0.45"/><circle cx="105.36" cy="186.97" r="0.45" fill="#111" fill-opacity="0.45"/><circle cx="104.24" cy="190.34" r="0.45" fill="#111" fill-opacity="0.45"/><circle cx="101.14" cy="174.65" r="0.45" fill="#111" fill-opacity="0.45"/><circle cx="103.44" cy="191.65" r="0.45" fill="#111" fill-opacity="0.45"/><circle cx="101.26" cy="186.29" r="0.45" fill="#111" fill-opacity="0.45"/><circle cx="104.00" cy="190.56" r="0.45" fill="#111" fill-opacity="0.45"/><circle cx="102.41" cy="189.56" r="0.45" fill="#111" fill-opacity="0.45"/><circle cx="104.06" cy="173.90" r="0.45" fill="#111" fill-opacity="0.45"/><circle cx="106.97" cy="177.75" r="0.45" fill="#111" fill-opacity="0.45"/><circle cx="104.17" cy="180.21" r="0.45" fill="#111" fill-opacity="0.45"/><circle cx="106.57" cy="180.66" r="0.45" fill="#111" fill-opacity="0.45"/><circle cx="102.90" cy="188.89" r="0.45" fill="#111" fill-opacity="0.45"/><circle cx="102.04" cy="191.92" r="0.45" fill="#111" fill-opacity="0.45"/><circle cx="104.87" cy="187.25" r="0.45" fill="#111" fill-opacity="0.45"/><circle cx="105.53" cy="184.69" r="0.45" fill="#111" fill-opacity="0.45"/><circle cx="101.66" cy="178.58" r="0.45" fill="#111" fill-opacity="0.45"/><circle cx="102.73" cy="184.34" r="0.45" fill="#111" fill-opacity="0.45"/><circle cx="100.16" cy="186.74" r="0.45" fill="#111" fill-opacity="0.45"/><circle cx="102.26" cy="171.41" r="0.45" fill="#111" fill-opacity="0.45"/><circle cx="104.11" cy="180.51" r="0.45" fill="#111" fill-opacity="0.45"/><circle cx="102.45" cy="191.44" r="0.45" fill="#111" fill-opacity="0.45"/><circle cx="101.63" cy="179.70" r="0.45" fill="#111" fill-opacity="0.45"/><circle cx="100.21" cy="184.60" r="0.45" fill="#111" fill-opacity="0.45"/><circle cx="103.23" cy="189.35" r="0.45" fill="#111" fill-opacity="0.45"/><circle cx="103.96" cy="191.32" r="0.45" fill="#111" fill-opacity="0.45"/><circle cx="103.61" cy="190.39" r="0.45" fill="#111" fill-opacity="0.45"/><circle cx="103.03" cy="176.33" r="0.45" fill="#111" fill-opacity="0.45"/><circle cx="100.43" cy="174.89" r="0.45" fill="#111" fill-opacity="0.45"/><circle cx="105.60" cy="181.55" r="0.45" fill="#111" fill-opacity="0.45"/><circle cx="102.50" cy="189.10" r="0.45" fill="#111" fill-opacity="0.45"/><circle cx="102.35" cy="185.20" r="0.45" fill="#111" fill-opacity="0.45"/><circle cx="103.85" cy="181.81" r="0.45" fill="#111" fill-opacity="0.45"/><circle cx="98.92" cy="187.72" r="0.45" fill="#111" fill-opacity="0.45"/><circle cx="102.49" cy="187.63" r="0.45" fill="#111" fill-opacity="0.45"/><circle cx="102.37" cy="188.29" r="0.45" fill="#111" fill-opacity="0.45"/><circle cx="103.23" cy="185.33" r="0.45" fill="#111" fill-opacity="0.45"/><circle cx="104.89" cy="190.07" r="0.45" fill="#111" fill-opacity="0.45"/><circle cx="103.40" cy="179.88" r="0.45" fill="#111" fill-opacity="0.45"/><circle cx="99.49" cy="184.62" r="0.45" fill="#111" fill-opacity="0.45"/><circle cx="102.02" cy="191.30" r="0.45" fill="#111" fill-opacity="0.45"/><circle cx="102.95" cy="185.65" r="0.45" fill="#111" fill-opacity="0.45"/><circle cx="102.85" cy="181.85" r="0.45" fill="#111" fill-opacity="0.45"/><circle cx="100.42" cy="191.05" r="0.45" fill="#111" fill-opacity="0.45"/><circle cx="99.77" cy="179.35" r="0.45" fill="#111" fill-opacity="0.45"/><circle cx="103.53" cy="187.53" r="0.45" fill="#111" fill-opacity="0.45"/><circle cx="103.18" cy="181.51" r="0.45" fill="#111" fill-opacity="0.45"/><circle cx="102.56" cy="185.34" r="0.45" fill="#111" fill-opacity="0.45"/><circle cx="99.67" cy="188.38" r="0.45" fill="#111" fill-opacity="0.45"/><circle cx="105.62" cy="189.98" r="0.45" fill="#111" fill-opacity="0.45"/><circle cx="97.67" cy="190.51" r="0.45" fill="#111" fill-opacity="0.45"/><circle cx="101.98" cy="173.99" r="0.45" fill="#111" fill-opacity="0.45"/><circle cx="106.15" cy="180.05" r="0.45" fill="#111" fill-opacity="0.45"/><circle cx="102.33" cy="189.96" r="0.45" fill="#111" fill-opacity="0.45"/><circle cx="102.99" cy="183.80" r="0.45" fill="#111" fill-opacity="0.45"/><circle cx="100.60" cy="187.30" r="0.45" fill="#111" fill-opacity="0.45"/><circle cx="104.91" cy="189.66" r="0.45" fill="#111" fill-opacity="0.45"/><circle cx="100.40" cy="184.49" r="0.45" fill="#111" fill-opacity="0.45"/><circle cx="103.03" cy="188.90" r="0.45" fill="#111" fill-opacity="0.45"/><circle cx="102.83" cy="188.48" r="0.45" fill="#111" fill-opacity="0.45"/><circle cx="100.81" cy="187.95" r="0.45" fill="#111" fill-opacity="0.45"/><circle cx="104.11" cy="186.39" r="0.45" fill="#111" fill-opacity="0.45"/><circle cx="100.19" cy="188.60" r="0.45" fill="#111" fill-opacity="0.45"/><circle cx="101.44" cy="189.38" r="0.45" fill="#111" fill-opacity="0.45"/><circle cx="102.55" cy="190.89" r="0.45" fill="#111" fill-opacity="0.45"/><circle cx="101.90" cy="182.69" r="0.45" fill="#111" fill-opacity="0.45"/><circle cx="103.40" cy="191.85" r="0.45" fill="#111" fill-opacity="0.45"/><circle cx="104.17" cy="183.17" r="0.45" fill="#111" fill-opacity="0.45"/><circle cx="102.10" cy="189.77" r="0.45" fill="#111" fill-opacity="0.45"/><circle cx="101.68" cy="191.08" r="0.45" fill="#111" fill-opacity="0.45"/><circle cx="101.72" cy="191.70" r="0.45" fill="#111" fill-opacity="0.45"/><circle cx="101.98" cy="190.26" r="0.45" fill="#111" fill-opacity="0.45"/><circle cx="103.98" cy="174.38" r="0.45" fill="#111" fill-opacity="0.45"/><circle cx="102.23" cy="190.25" r="0.45" fill="#111" fill-opacity="0.45"/><circle cx="103.29" cy="188.57" r="0.45" fill="#111" fill-opacity="0.45"/><circle cx="102.45" cy="190.15" r="0.45" fill="#111" fill-opacity="0.45"/><circle cx="101.16" cy="182.17" r="0.45" fill="#111" fill-opacity="0.45"/><circle cx="104.07" cy="191.58" r="0.45" fill="#111" fill-opacity="0.45"/><circle cx="100.84" cy="185.98" r="0.45" fill="#111" fill-opacity="0.45"/><circle cx="102.61" cy="182.83" r="0.45" fill="#111" fill-opacity="0.45"/><circle cx="105.13" cy="188.05" r="0.45" fill="#111" fill-opacity="0.45"/><circle cx="100.74" cy="186.42" r="0.45" fill="#111" fill-opacity="0.45"/><circle cx="102.51" cy="180.09" r="0.45" fill="#111" fill-opacity="0.45"/><circle cx="99.91" cy="186.57" r="0.45" fill="#111" fill-opacity="0.45"/><circle cx="101.73" cy="187.19" r="0.45" fill="#111" fill-opacity="0.45"/><circle cx="100.06" cy="184.30" r="0.45" fill="#111" fill-opacity="0.45"/><circle cx="101.99" cy="182.09" r="0.45" fill="#111" fill-opacity="0.45"/><circle cx="101.68" cy="188.93" r="0.45" fill="#111" fill-opacity="0.45"/><circle cx="102.82" cy="185.76" r="0.45" fill="#111" fill-opacity="0.45"/><circle cx="105.29" cy="187.99" r="0.45" fill="#111" fill-opacity="0.45"/><circle cx="103.08" cy="188.61" r="0.45" fill="#111" fill-opacity="0.45"/><circle cx="103.72" cy="187.94" r="0.45" fill="#111" fill-opacity="0.45"/><circle cx="102.51" cy="182.19" r="0.45" fill="#111" fill-opacity="0.45"/><circle cx="102.18" cy="191.66" r="0.45" fill="#111" fill-opacity="0.45"/><circle cx="101.18" cy="189.73" r="0.45" fill="#111" fill-opacity="0.45"/><circle cx="99.54" cy="181.47" r="0.45" fill="#111" fill-opacity="0.45"/><circle cx="102.72" cy="191.26" r="0.45" fill="#111" fill-opacity="0.45"/><circle cx="105.37" cy="183.70" r="0.45" fill="#111" fill-opacity="0.45"/><circle cx="103.41" cy="190.46" r="0.45" fill="#111" fill-opacity="0.45"/><circle cx="101.69" cy="184.91" r="0.45" fill="#111" fill-opacity="0.45"/><circle cx="105.40" cy="187.87" r="0.45" fill="#111" fill-opacity="0.45"/><circle cx="101.86" cy="181.75" r="0.45" fill="#111" fill-opacity="0.45"/><circle cx="101.55" cy="186.09" r="0.45" fill="#111" fill-opacity="0.45"/><circle cx="100.54" cy="177.87" r="0.45" fill="#111" fill-opacity="0.45"/><circle cx="100.96" cy="188.62" r="0.45" fill="#111" fill-opacity="0.45"/><circle cx="102.18" cy="186.59" r="0.45" fill="#111" fill-opacity="0.45"/><circle cx="106.00" cy="185.29" r="0.45" fill="#111" fill-opacity="0.45"/><circle cx="102.25" cy="188.89" r="0.45" fill="#111" fill-opacity="0.45"/><circle cx="100.85" cy="188.28" r="0.45" fill="#111" fill-opacity="0.45"/><circle cx="101.57" cy="186.81" r="0.45" fill="#111" fill-opacity="0.45"/><circle cx="102.22" cy="189.51" r="0.45" fill="#111" fill-opacity="0.45"/><circle cx="99.69" cy="187.03" r="0.45" fill="#111" fill-opacity="0.45"/><circle cx="102.82" cy="185.40" r="0.45" fill="#111" fill-opacity="0.45"/><circle cx="103.79" cy="189.45" r="0.45" fill="#111" fill-opacity="0.45"/><circle cx="103.15" cy="182.76" r="0.45" fill="#111" fill-opacity="0.45"/><circle cx="103.62" cy="184.49" r="0.45" fill="#111" fill-opacity="0.45"/><circle cx="100.41" cy="184.27" r="0.45" fill="#111" fill-opacity="0.45"/><circle cx="99.71" cy="183.50" r="0.45" fill="#111" fill-opacity="0.45"/><circle cx="104.79" cy="187.51" r="0.45" fill="#111" fill-opacity="0.45"/><circle cx="104.46" cy="180.35" r="0.45" fill="#111" fill-opacity="0.45"/><circle cx="99.98" cy="181.50" r="0.45" fill="#111" fill-opacity="0.45"/><circle cx="102.95" cy="182.44" r="0.45" fill="#111" fill-opacity="0.45"/><circle cx="102.64" cy="179.18" r="0.45" fill="#111" fill-opacity="0.45"/><circle cx="103.53" cy="181.96" r="0.45" fill="#111" fill-opacity="0.45"/><circle cx="102.95" cy="180.78" r="0.45" fill="#111" fill-opacity="0.45"/><circle cx="101.75" cy="191.95" r="0.45" fill="#111" fill-opacity="0.45"/><circle cx="102.93" cy="185.80" r="0.45" fill="#111" fill-opacity="0.45"/><circle cx="102.87" cy="191.32" r="0.45" fill="#111" fill-opacity="0.45"/><circle cx="102.52" cy="179.82" r="0.45" fill="#111" fill-opacity="0.45"/><circle cx="99.45" cy="189.38" r="0.45" fill="#111" fill-opacity="0.45"/><circle cx="97.51" cy="179.21" r="0.45" fill="#111" fill-opacity="0.45"/><circle cx="101.26" cy="182.70" r="0.45" fill="#111" fill-opacity="0.45"/><circle cx="99.82" cy="175.91" r="0.45" fill="#111" fill-opacity="0.45"/><circle cx="103.03" cy="186.96" r="0.45" fill="#111" fill-opacity="0.45"/><circle cx="103.82" cy="180.94" r="0.45" fill="#111" fill-opacity="0.45"/><circle cx="103.05" cy="180.69" r="0.45" fill="#111" fill-opacity="0.45"/><circle cx="101.97" cy="188.64" r="0.45" fill="#111" fill-opacity="0.45"/><circle cx="102.72" cy="187.37" r="0.45" fill="#111" fill-opacity="0.45"/><circle cx="104.58" cy="187.73" r="0.45" fill="#111" fill-opacity="0.45"/><circle cx="101.36" cy="187.08" r="0.45" fill="#111" fill-opacity="0.45"/><circle cx="104.17" cy="190.43" r="0.45" fill="#111" fill-opacity="0.45"/><circle cx="103.80" cy="190.28" r="0.45" fill="#111" fill-opacity="0.45"/><circle cx="103.04" cy="184.18" r="0.45" fill="#111" fill-opacity="0.45"/><circle cx="105.07" cy="177.52" r="0.45" fill="#111" fill-opacity="0.45"/><circle cx="101.38" cy="182.97" r="0.45" fill="#111" fill-opacity="0.45"/><circle cx="104.20" cy="186.68" r="0.45" fill="#111" fill-opacity="0.45"/><circle cx="101.02" cy="190.39" r="0.45" fill="#111" fill-opacity="0.45"/><circle cx="101.30" cy="191.47" r="0.45" fill="#111" fill-opacity="0.45"/><circle cx="100.80" cy="191.41" r="0.45" fill="#111" fill-opacity="0.45"/><circle cx="103.36" cy="188.24" r="0.45" fill="#111" fill-opacity="0.45"/><circle cx="101.00" cy="185.21" r="0.45" fill="#111" fill-opacity="0.45"/><circle cx="102.69" cy="181.63" r="0.45" fill="#111" fill-opacity="0.45"/><circle cx="100.67" cy="177.09" r="0.45" fill="#111" fill-opacity="0.45"/><circle cx="104.41" cy="189.36" r="0.45" fill="#111" fill-opacity="0.45"/><circle cx="105.72" cy="190.70" r="0.45" fill="#111" fill-opacity="0.45"/><circle cx="102.98" cy="182.75" r="0.45" fill="#111" fill-opacity="0.45"/><circle cx="105.39" cy="187.25" r="0.45" fill="#111" fill-opacity="0.45"/><circle cx="103.55" cy="190.70" r="0.45" fill="#111" fill-opacity="0.45"/><circle cx="106.29" cy="190.63" r="0.45" fill="#111" fill-opacity="0.45"/><circle cx="102.77" cy="186.34" r="0.45" fill="#111" fill-opacity="0.45"/><circle cx="99.93" cy="183.12" r="0.45" fill="#111" fill-opacity="0.45"/><circle cx="105.13" cy="187.13" r="0.45" fill="#111" fill-opacity="0.45"/><circle cx="102.39" cy="183.21" r="0.45" fill="#111" fill-opacity="0.45"/><circle cx="100.84" cy="183.96" r="0.45" fill="#111" fill-opacity="0.45"/><circle cx="101.48" cy="191.34" r="0.45" fill="#111" fill-opacity="0.45"/><circle cx="99.84" cy="190.48" r="0.45" fill="#111" fill-opacity="0.45"/><circle cx="102.31" cy="188.69" r="0.45" fill="#111" fill-opacity="0.45"/><circle cx="100.78" cy="186.17" r="0.45" fill="#111" fill-opacity="0.45"/><circle cx="105.12" cy="188.93" r="0.45" fill="#111" fill-opacity="0.45"/><circle cx="103.73" cy="177.10" r="0.45" fill="#111" fill-opacity="0.45"/><circle cx="99.78" cy="191.42" r="0.45" fill="#111" fill-opacity="0.45"/><circle cx="100.03" cy="189.67" r="0.45" fill="#111" fill-opacity="0.45"/><circle cx="101.64" cy="176.25" r="0.45" fill="#111" fill-opacity="0.45"/><circle cx="99.33" cy="185.10" r="0.45" fill="#111" fill-opacity="0.45"/><circle cx="102.41" cy="189.28" r="0.45" fill="#111" fill-opacity="0.45"/><circle cx="102.53" cy="191.81" r="0.45" fill="#111" fill-opacity="0.45"/><circle cx="101.29" cy="179.26" r="0.45" fill="#111" fill-opacity="0.45"/><circle cx="101.67" cy="180.08" r="0.45" fill="#111" fill-opacity="0.45"/><circle cx="103.45" cy="190.74" r="0.45" fill="#111" fill-opacity="0.45"/><circle cx="105.02" cy="190.91" r="0.45" fill="#111" fill-opacity="0.45"/><circle cx="105.14" cy="181.03" r="0.45" fill="#111" fill-opacity="0.45"/><circle cx="102.66" cy="189.42" r="0.45" fill="#111" fill-opacity="0.45"/><circle cx="104.05" cy="190.60" r="0.45" fill="#111" fill-opacity="0.45"/><circle cx="101.34" cy="186.35" r="0.45" fill="#111" fill-opacity="0.45"/><circle cx="103.30" cy="179.16" r="0.45" fill="#111" fill-opacity="0.45"/><circle cx="100.97" cy="177.80" r="0.45" fill="#111" fill-opacity="0.45"/><circle cx="103.84" cy="190.85" r="0.45" fill="#111" fill-opacity="0.45"/><circle cx="100.49" cy="189.08" r="0.45" fill="#111" fill-opacity="0.45"/><circle cx="100.96" cy="188.86" r="0.45" fill="#111" fill-opacity="0.45"/><circle cx="102.59" cy="179.48" r="0.45" fill="#111" fill-opacity="0.45"/><circle cx="103.55" cy="181.38" r="0.45" fill="#111" fill-opacity="0.45"/><circle cx="100.16" cy="186.26" r="0.45" fill="#111" fill-opacity="0.45"/><circle cx="101.69" cy="191.40" r="0.45" fill="#111" fill-opacity="0.45"/><circle cx="102.83" cy="191.14" r="0.45" fill="#111" fill-opacity="0.45"/><circle cx="102.99" cy="188.97" r="0.45" fill="#111" fill-opacity="0.45"/><circle cx="101.17" cy="186.14" r="0.45" fill="#111" fill-opacity="0.45"/><circle cx="102.76" cy="184.09" r="0.45" fill="#111" fill-opacity="0.45"/><circle cx="102.15" cy="183.99" r="0.45" fill="#111" fill-opacity="0.45"/><circle cx="104.99" cy="187.55" r="0.45" fill="#111" fill-opacity="0.45"/><circle cx="103.55" cy="181.35" r="0.45" fill="#111" fill-opacity="0.45"/><circle cx="100.35" cy="179.13" r="0.45" fill="#111" fill-opacity="0.45"/><circle cx="98.86" cy="185.60" r="0.45" fill="#111" fill-opacity="0.45"/><circle cx="102.77" cy="185.41" r="0.45" fill="#111" fill-opacity="0.45"/><circle cx="104.61" cy="185.47" r="0.45" fill="#111" fill-opacity="0.45"/><circle cx="102.90" cy="185.12" r="0.45" fill="#111" fill-opacity="0.45"/><circle cx="104.10" cy="183.36" r="0.45" fill="#111" fill-opacity="0.45"/><circle cx="101.78" cy="188.74" r="0.45" fill="#111" fill-opacity="0.45"/><circle cx="100.28" cy="182.61" r="0.45" fill="#111" fill-opacity="0.45"/><circle cx="103.87" cy="190.47" r="0.45" fill="#111" fill-opacity="0.45"/><circle cx="102.77" cy="186.19" r="0.45" fill="#111" fill-opacity="0.45"/><circle cx="103.76" cy="186.02" r="0.45" fill="#111" fill-opacity="0.45"/><circle cx="100.25" cy="183.04" r="0.45" fill="#111" fill-opacity="0.45"/><circle cx="102.91" cy="183.10" r="0.45" fill="#111" fill-opacity="0.45"/><circle cx="101.54" cy="176.70" r="0.45" fill="#111" fill-opacity="0.45"/><circle cx="103.97" cy="190.11" r="0.45" fill="#111" fill-opacity="0.45"/><circle cx="101.61" cy="181.03" r="0.45" fill="#111" fill-opacity="0.45"/><circle cx="101.57" cy="183.88" r="0.45" fill="#111" fill-opacity="0.45"/><circle cx="101.60" cy="180.65" r="0.45" fill="#111" fill-opacity="0.45"/><circle cx="104.75" cy="184.97" r="0.45" fill="#111" fill-opacity="0.45"/><circle cx="102.65" cy="191.19" r="0.45" fill="#111" fill-opacity="0.45"/><circle cx="101.31" cy="171.63" r="0.45" fill="#111" fill-opacity="0.45"/><circle cx="100.86" cy="184.01" r="0.45" fill="#111" fill-opacity="0.45"/><circle cx="100.82" cy="183.57" r="0.45" fill="#111" fill-opacity="0.45"/><circle cx="105.09" cy="187.79" r="0.45" fill="#111" fill-opacity="0.45"/><circle cx="99.51" cy="188.01" r="0.45" fill="#111" fill-opacity="0.45"/><circle cx="101.15" cy="189.65" r="0.45" fill="#111" fill-opacity="0.45"/><circle cx="103.68" cy="176.60" r="0.45" fill="#111" fill-opacity="0.45"/><circle cx="104.60" cy="181.41" r="0.45" fill="#111" fill-opacity="0.45"/><circle cx="102.35" cy="187.99" r="0.45" fill="#111" fill-opacity="0.45"/><circle cx="103.94" cy="189.27" r="0.45" fill="#111" fill-opacity="0.45"/><circle cx="103.89" cy="187.28" r="0.45" fill="#111" fill-opacity="0.45"/><circle cx="104.28" cy="187.47" r="0.45" fill="#111" fill-opacity="0.45"/><circle cx="102.68" cy="187.51" r="0.45" fill="#111" fill-opacity="0.45"/><circle cx="105.41" cy="191.98" r="0.45" fill="#111" fill-opacity="0.45"/><circle cx="102.97" cy="190.27" r="0.45" fill="#111" fill-opacity="0.45"/><circle cx="105.23" cy="182.88" r="0.45" fill="#111" fill-opacity="0.45"/><circle cx="100.76" cy="188.14" r="0.45" fill="#111" fill-opacity="0.45"/><circle cx="104.23" cy="189.07" r="0.45" fill="#111" fill-opacity="0.45"/><circle cx="100.50" cy="184.05" r="0.45" fill="#111" fill-opacity="0.45"/><circle cx="100.09" cy="190.65" r="0.45" fill="#111" fill-opacity="0.45"/><circle cx="103.49" cy="191.49" r="0.45" fill="#111" fill-opacity="0.45"/><circle cx="101.24" cy="189.82" r="0.45" fill="#111" fill-opacity="0.45"/><circle cx="103.41" cy="185.24" r="0.45" fill="#111" fill-opacity="0.45"/><circle cx="100.83" cy="186.74" r="0.45" fill="#111" fill-opacity="0.45"/><circle cx="105.39" cy="188.85" r="0.45" fill="#111" fill-opacity="0.45"/><circle cx="102.68" cy="177.16" r="0.45" fill="#111" fill-opacity="0.45"/><circle cx="100.74" cy="189.40" r="0.45" fill="#111" fill-opacity="0.45"/><circle cx="102.97" cy="185.70" r="0.45" fill="#111" fill-opacity="0.45"/><circle cx="104.17" cy="182.57" r="0.45" fill="#111" fill-opacity="0.45"/><circle cx="101.36" cy="191.31" r="0.45" fill="#111" fill-opacity="0.45"/><circle cx="103.55" cy="182.37" r="0.45" fill="#111" fill-opacity="0.45"/><circle cx="106.16" cy="179.61" r="0.45" fill="#111" fill-opacity="0.45"/><circle cx="104.16" cy="185.87" r="0.45" fill="#111" fill-opacity="0.45"/><circle cx="102.67" cy="183.34" r="0.45" fill="#111" fill-opacity="0.45"/><circle cx="101.72" cy="185.89" r="0.45" fill="#111" fill-opacity="0.45"/><circle cx="103.67" cy="180.65" r="0.45" fill="#111" fill-opacity="0.45"/><circle cx="100.11" cy="180.59" r="0.45" fill="#111" fill-opacity="0.45"/><circle cx="97.52" cy="185.89" r="0.45" fill="#111" fill-opacity="0.45"/><circle cx="101.56" cy="191.59" r="0.45" fill="#111" fill-opacity="0.45"/><circle cx="100.85" cy="187.44" r="0.45" fill="#111" fill-opacity="0.45"/><circle cx="105.66" cy="190.81" r="0.45" fill="#111" fill-opacity="0.45"/><circle cx="102.93" cy="187.09" r="0.45" fill="#111" fill-opacity="0.45"/><circle cx="101.02" cy="184.09" r="0.45" fill="#111" fill-opacity="0.45"/><circle cx="100.72" cy="174.44" r="0.45" fill="#111" fill-opacity="0.45"/><circle cx="103.55" cy="189.97" r="0.45" fill="#111" fill-opacity="0.45"/><circle cx="101.29" cy="178.85" r="0.45" fill="#111" fill-opacity="0.45"/><circle cx="101.71" cy="187.11" r="0.45" fill="#111" fill-opacity="0.45"/><circle cx="102.55" cy="185.46" r="0.45" fill="#111" fill-opacity="0.45"/><circle cx="102.86" cy="189.96" r="0.45" fill="#111" fill-opacity="0.45"/><circle cx="102.87" cy="186.99" r="0.45" fill="#111" fill-opacity="0.45"/><circle cx="102.91" cy="182.96" r="0.45" fill="#111" fill-opacity="0.45"/><circle cx="104.93" cy="189.23" r="0.45" fill="#111" fill-opacity="0.45"/><circle cx="105.61" cy="190.12" r="0.45" fill="#111" fill-opacity="0.45"/><circle cx="99.91" cy="179.54" r="0.45" fill="#111" fill-opacity="0.45"/><circle cx="107.10" cy="190.38" r="0.45" fill="#111" fill-opacity="0.45"/><circle cx="102.94" cy="183.33" r="0.45" fill="#111" fill-opacity="0.45"/><circle cx="104.84" cy="190.96" r="0.45" fill="#111" fill-opacity="0.45"/><circle cx="101.46" cy="188.01" r="0.45" fill="#111" fill-opacity="0.45"/><circle cx="103.28" cy="185.18" r="0.45" fill="#111" fill-opacity="0.45"/><circle cx="103.09" cy="186.18" r="0.45" fill="#111" fill-opacity="0.45"/><circle cx="102.92" cy="191.46" r="0.45" fill="#111" fill-opacity="0.45"/><circle cx="104.17" cy="190.58" r="0.45" fill="#111" fill-opacity="0.45"/><circle cx="103.80" cy="189.31" r="0.45" fill="#111" fill-opacity="0.45"/><circle cx="101.02" cy="182.21" r="0.45" fill="#111" fill-opacity="0.45"/><circle cx="102.53" cy="184.57" r="0.45" fill="#111" fill-opacity="0.45"/><circle cx="103.97" cy="191.34" r="0.45" fill="#111" fill-opacity="0.45"/><circle cx="103.90" cy="190.13" r="0.45" fill="#111" fill-opacity="0.45"/><circle cx="102.16" cy="180.63" r="0.45" fill="#111" fill-opacity="0.45"/><circle cx="102.25" cy="179.28" r="0.45" fill="#111" fill-opacity="0.45"/><circle cx="102.47" cy="188.36" r="0.45" fill="#111" fill-opacity="0.45"/><circle cx="100.85" cy="184.82" r="0.45" fill="#111" fill-opacity="0.45"/><circle cx="100.54" cy="182.22" r="0.45" fill="#111" fill-opacity="0.45"/><circle cx="105.40" cy="187.92" r="0.45" fill="#111" fill-opacity="0.45"/><circle cx="102.06" cy="190.81" r="0.45" fill="#111" fill-opacity="0.45"/><circle cx="102.89" cy="183.52" r="0.45" fill="#111" fill-opacity="0.45"/><circle cx="101.46" cy="191.82" r="0.45" fill="#111" fill-opacity="0.45"/><circle cx="104.93" cy="186.32" r="0.45" fill="#111" fill-opacity="0.45"/><circle cx="105.71" cy="179.70" r="0.45" fill="#111" fill-opacity="0.45"/><circle cx="102.35" cy="182.28" r="0.45" fill="#111" fill-opacity="0.45"/><circle cx="103.60" cy="188.48" r="0.45" fill="#111" fill-opacity="0.45"/><circle cx="105.73" cy="185.09" r="0.45" fill="#111" fill-opacity="0.45"/><circle cx="104.30" cy="191.81" r="0.45" fill="#111" fill-opacity="0.45"/><circle cx="101.30" cy="188.20" r="0.45" fill="#111" fill-opacity="0.45"/><circle cx="104.85" cy="171.89" r="0.45" fill="#111" fill-opacity="0.45"/><circle cx="103.34" cy="179.97" r="0.45" fill="#111" fill-opacity="0.45"/><circle cx="103.43" cy="190.89" r="0.45" fill="#111" fill-opacity="0.45"/><circle cx="103.33" cy="181.16" r="0.45" fill="#111" fill-opacity="0.45"/><circle cx="101.59" cy="183.28" r="0.45" fill="#111" fill-opacity="0.45"/><circle cx="101.81" cy="187.22" r="0.45" fill="#111" fill-opacity="0.45"/><circle cx="103.78" cy="184.24" r="0.45" fill="#111" fill-opacity="0.45"/><circle cx="102.64" cy="188.10" r="0.45" fill="#111" fill-opacity="0.45"/><circle cx="101.11" cy="189.01" r="0.45" fill="#111" fill-opacity="0.45"/><circle cx="106.18" cy="188.53" r="0.45" fill="#111" fill-opacity="0.45"/><circle cx="102.37" cy="191.43" r="0.45" fill="#111" fill-opacity="0.45"/><circle cx="101.77" cy="181.90" r="0.45" fill="#111" fill-opacity="0.45"/><circle cx="101.53" cy="181.14" r="0.45" fill="#111" fill-opacity="0.45"/><circle cx="103.89" cy="185.26" r="0.45" fill="#111" fill-opacity="0.45"/><circle cx="104.38" cy="182.12" r="0.45" fill="#111" fill-opacity="0.45"/><circle cx="103.14" cy="188.77" r="0.45" fill="#111" fill-opacity="0.45"/><circle cx="104.20" cy="189.20" r="0.45" fill="#111" fill-opacity="0.45"/><circle cx="100.17" cy="189.03" r="0.45" fill="#111" fill-opacity="0.45"/><circle cx="102.08" cy="191.02" r="0.45" fill="#111" fill-opacity="0.45"/><circle cx="101.92" cy="184.97" r="0.45" fill="#111" fill-opacity="0.45"/><circle cx="102.72" cy="178.81" r="0.45" fill="#111" fill-opacity="0.45"/><circle cx="103.54" cy="187.74" r="0.45" fill="#111" fill-opacity="0.45"/><circle cx="99.25" cy="188.92" r="0.45" fill="#111" fill-opacity="0.45"/><circle cx="108.03" cy="192.00" r="0.45" fill="#111" fill-opacity="0.45"/><circle cx="101.24" cy="181.50" r="0.45" fill="#111" fill-opacity="0.45"/><circle cx="103.29" cy="177.46" r="0.45" fill="#111" fill-opacity="0.45"/><circle cx="104.11" cy="189.18" r="0.45" fill="#111" fill-opacity="0.45"/><circle cx="104.15" cy="186.23" r="0.45" fill="#111" fill-opacity="0.45"/><circle cx="103.11" cy="191.14" r="0.45" fill="#111" fill-opacity="0.45"/><circle cx="97.75" cy="185.26" r="0.45" fill="#111" fill-opacity="0.45"/><circle cx="103.08" cy="159.71" r="0.45" fill="#b4b4cc" fill-opacity="0.45"/><circle cx="100.50" cy="161.06" r="0.45" fill="#b4b4cc" fill-opacity="0.45"/><circle cx="104.47" cy="165.70" r="0.45" fill="#b4b4cc" fill-opacity="0.45"/><circle cx="103.14" cy="159.50" r="0.45" fill="#b4b4cc" fill-opacity="0.45"/><circle cx="99.44" cy="157.38" r="0.45" fill="#b4b4cc" fill-opacity="0.45"/><circle cx="105.70" cy="152.13" r="0.45" fill="#b4b4cc" fill-opacity="0.45"/><circle cx="103.51" cy="159.87" r="0.45" fill="#b4b4cc" fill-opacity="0.45"/><circle cx="100.13" cy="164.52" r="0.45" fill="#b4b4cc" fill-opacity="0.45"/><circle cx="103.94" cy="153.24" r="0.45" fill="#b4b4cc" fill-opacity="0.45"/><circle cx="104.13" cy="153.19" r="0.45" fill="#b4b4cc" fill-opacity="0.45"/><circle cx="107.85" cy="173.09" r="0.45" fill="#b4b4cc" fill-opacity="0.45"/><circle cx="100.76" cy="152.21" r="0.45" fill="#b4b4cc" fill-opacity="0.45"/><circle cx="105.24" cy="154.21" r="0.45" fill="#b4b4cc" fill-opacity="0.45"/><circle cx="102.77" cy="160.49" r="0.45" fill="#b4b4cc" fill-opacity="0.45"/><circle cx="104.62" cy="168.25" r="0.45" fill="#b4b4cc" fill-opacity="0.45"/><circle cx="102.34" cy="167.99" r="0.45" fill="#b4b4cc" fill-opacity="0.45"/><circle cx="102.87" cy="165.29" r="0.45" fill="#b4b4cc" fill-opacity="0.45"/><circle cx="104.31" cy="162.11" r="0.45" fill="#b4b4cc" fill-opacity="0.45"/><circle cx="99.92" cy="161.45" r="0.45" fill="#b4b4cc" fill-opacity="0.45"/><circle cx="97.54" cy="153.01" r="0.45" fill="#b4b4cc" fill-opacity="0.45"/><circle cx="103.00" cy="169.36" r="0.45" fill="#b4b4cc" fill-opacity="0.45"/><circle cx="101.86" cy="172.66" r="0.45" fill="#b4b4cc" fill-opacity="0.45"/><circle cx="103.26" cy="175.90" r="0.45" fill="#b4b4cc" fill-opacity="0.45"/><circle cx="104.71" cy="158.67" r="0.45" fill="#b4b4cc" fill-opacity="0.45"/><circle cx="102.47" cy="162.84" r="0.45" fill="#b4b4cc" fill-opacity="0.45"/><circle cx="106.15" cy="158.17" r="0.45" fill="#b4b4cc" fill-opacity="0.45"/><circle cx="102.94" cy="169.24" r="0.45" fill="#b4b4cc" fill-opacity="0.45"/><circle cx="103.34" cy="169.43" r="0.45" fill="#b4b4cc" fill-opacity="0.45"/><circle cx="105.22" cy="156.33" r="0.45" fill="#b4b4cc" fill-opacity="0.45"/><circle cx="104.59" cy="157.16" r="0.45" fill="#b4b4cc" fill-opacity="0.45"/><circle cx="102.83" cy="174.02" r="0.45" fill="#b4b4cc" fill-opacity="0.45"/><circle cx="103.39" cy="166.31" r="0.45" fill="#b4b4cc" fill-opacity="0.45"/><circle cx="101.10" cy="156.16" r="0.45" fill="#b4b4cc" fill-opacity="0.45"/><circle cx="101.47" cy="160.59" r="0.45" fill="#b4b4cc" fill-opacity="0.45"/><circle cx="103.34" cy="162.34" r="0.45" fill="#b4b4cc" fill-opacity="0.45"/><circle cx="105.20" cy="168.97" r="0.45" fill="#b4b4cc" fill-opacity="0.45"/><circle cx="101.94" cy="171.82" r="0.45" fill="#b4b4cc" fill-opacity="0.45"/><circle cx="105.27" cy="171.39" r="0.45" fill="#b4b4cc" fill-opacity="0.45"/><circle cx="108.15" cy="154.89" r="0.45" fill="#b4b4cc" fill-opacity="0.45"/><circle cx="108.69" cy="153.92" r="0.45" fill="#b4b4cc" fill-opacity="0.45"/><circle cx="103.17" cy="167.62" r="0.45" fill="#b4b4cc" fill-opacity="0.45"/><circle cx="105.85" cy="168.79" r="0.45" fill="#b4b4cc" fill-opacity="0.45"/><circle cx="104.70" cy="154.10" r="0.45" fill="#b4b4cc" fill-opacity="0.45"/><circle cx="105.16" cy="164.41" r="0.45" fill="#b4b4cc" fill-opacity="0.45"/><circle cx="105.30" cy="171.53" r="0.45" fill="#b4b4cc" fill-opacity="0.45"/><circle cx="104.48" cy="170.09" r="0.45" fill="#b4b4cc" fill-opacity="0.45"/><circle cx="105.28" cy="172.67" r="0.45" fill="#b4b4cc" fill-opacity="0.45"/><circle cx="103.63" cy="165.07" r="0.45" fill="#b4b4cc" fill-opacity="0.45"/><circle cx="102.45" cy="162.86" r="0.45" fill="#b4b4cc" fill-opacity="0.45"/><circle cx="103.79" cy="167.00" r="0.45" fill="#b4b4cc" fill-opacity="0.45"/><circle cx="104.42" cy="169.08" r="0.45" fill="#b4b4cc" fill-opacity="0.45"/><circle cx="106.33" cy="157.97" r="0.45" fill="#b4b4cc" fill-opacity="0.45"/><circle cx="104.11" cy="169.82" r="0.45" fill="#b4b4cc" fill-opacity="0.45"/><circle cx="105.08" cy="160.74" r="0.45" fill="#b4b4cc" fill-opacity="0.45"/><circle cx="106.86" cy="175.95" r="0.45" fill="#b4b4cc" fill-opacity="0.45"/><circle cx="100.71" cy="158.12" r="0.45" fill="#b4b4cc" fill-opacity="0.45"/><circle cx="102.46" cy="170.70" r="0.45" fill="#b4b4cc" fill-opacity="0.45"/><circle cx="104.55" cy="172.77" r="0.45" fill="#b4b4cc" fill-opacity="0.45"/><circle cx="103.21" cy="170.66" r="0.45" fill="#b4b4cc" fill-opacity="0.45"/><circle cx="100.50" cy="167.60" r="0.45" fill="#b4b4cc" fill-opacity="0.45"/>
<circle cx="195.27" cy="176.83" r="0.45" fill="#111" fill-opacity="0.55"/><circle cx="193.33" cy="158.79" r="0.45" fill="#111" fill-opacity="0.55"/><circle cx="196.83" cy="150.50" r="0.45" fill="#111" fill-opacity="0.55"/><circle cx="197.80" cy="156.40" r="0.45" fill="#111" fill-opacity="0.55"/><circle cx="196.11" cy="162.45" r="0.45" fill="#111" fill-opacity="0.55"/><circle cx="197.31" cy="164.61" r="0.45" fill="#111" fill-opacity="0.55"/><circle cx="194.14" cy="156.20" r="0.45" fill="#111" fill-opacity="0.55"/><circle cx="195.62" cy="158.55" r="0.45" fill="#111" fill-opacity="0.55"/><circle cx="196.07" cy="152.01" r="0.45" fill="#111" fill-opacity="0.55"/><circle cx="195.61" cy="173.61" r="0.45" fill="#111" fill-opacity="0.55"/><circle cx="196.17" cy="161.78" r="0.45" fill="#111" fill-opacity="0.55"/><circle cx="194.21" cy="170.98" r="0.45" fill="#111" fill-opacity="0.55"/><circle cx="197.00" cy="159.88" r="0.45" fill="#111" fill-opacity="0.55"/><circle cx="193.17" cy="152.94" r="0.45" fill="#111" fill-opacity="0.55"/><circle cx="196.09" cy="160.42" r="0.45" fill="#111" fill-opacity="0.55"/><circle cx="196.90" cy="157.81" r="0.45" fill="#111" fill-opacity="0.55"/><circle cx="194.38" cy="154.82" r="0.45" fill="#111" fill-opacity="0.55"/><circle cx="194.72" cy="173.54" r="0.45" fill="#111" fill-opacity="0.55"/><circle cx="193.49" cy="159.48" r="0.45" fill="#111" fill-opacity="0.55"/><circle cx="195.64" cy="160.29" r="0.45" fill="#111" fill-opacity="0.55"/><circle cx="194.02" cy="159.78" r="0.45" fill="#111" fill-opacity="0.55"/><circle cx="198.85" cy="157.82" r="0.45" fill="#111" fill-opacity="0.55"/><circle cx="196.68" cy="160.57" r="0.45" fill="#111" fill-opacity="0.55"/><circle cx="194.94" cy="165.60" r="0.45" fill="#111" fill-opacity="0.55"/><circle cx="192.56" cy="160.26" r="0.45" fill="#111" fill-opacity="0.55"/><circle cx="199.47" cy="165.26" r="0.45" fill="#111" fill-opacity="0.55"/><circle cx="198.01" cy="164.81" r="0.45" fill="#111" fill-opacity="0.55"/><circle cx="196.35" cy="165.13" r="0.45" fill="#111" fill-opacity="0.55"/><circle cx="195.80" cy="156.95" r="0.45" fill="#111" fill-opacity="0.55"/><circle cx="195.75" cy="172.85" r="0.45" fill="#111" fill-opacity="0.55"/><circle cx="194.47" cy="179.19" r="0.45" fill="#111" fill-opacity="0.55"/><circle cx="199.17" cy="163.02" r="0.45" fill="#111" fill-opacity="0.55"/><circle cx="195.82" cy="182.39" r="0.45" fill="#111" fill-opacity="0.55"/><circle cx="192.53" cy="162.07" r="0.45" fill="#111" fill-opacity="0.55"/><circle cx="194.09" cy="153.42" r="0.45" fill="#111" fill-opacity="0.55"/><circle cx="196.94" cy="164.49" r="0.45" fill="#111" fill-opacity="0.55"/><circle cx="198.95" cy="164.79" r="0.45" fill="#111" fill-opacity="0.55"/><circle cx="199.61" cy="162.57" r="0.45" fill="#111" fill-opacity="0.55"/><circle cx="193.84" cy="180.91" r="0.45" fill="#111" fill-opacity="0.55"/><circle cx="196.31" cy="167.25" r="0.45" fill="#111" fill-opacity="0.55"/><circle cx="197.40" cy="157.83" r="0.45" fill="#111" fill-opacity="0.55"/><circle cx="196.99" cy="163.68" r="0.45" fill="#111" fill-opacity="0.55"/><circle cx="194.38" cy="152.90" r="0.45" fill="#111" fill-opacity="0.55"/><circle cx="197.01" cy="150.11" r="0.45" fill="#111" fill-opacity="0.55"/><circle cx="196.39" cy="165.64" r="0.45" fill="#111" fill-opacity="0.55"/><circle cx="198.12" cy="154.71" r="0.45" fill="#111" fill-opacity="0.55"/><circle cx="195.34" cy="163.09" r="0.45" fill="#111" fill-opacity="0.55"/><circle cx="194.92" cy="163.64" r="0.45" fill="#111" fill-opacity="0.55"/><circle cx="194.37" cy="155.38" r="0.45" fill="#111" fill-opacity="0.55"/><circle cx="194.63" cy="157.69" r="0.45" fill="#111" fill-opacity="0.55"/><circle cx="193.85" cy="165.22" r="0.45" fill="#111" fill-opacity="0.55"/><circle cx="194.70" cy="164.31" r="0.45" fill="#111" fill-opacity="0.55"/><circle cx="196.39" cy="184.30" r="0.45" fill="#111" fill-opacity="0.55"/><circle cx="196.30" cy="156.64" r="0.45" fill="#111" fill-opacity="0.55"/><circle cx="198.02" cy="164.82" r="0.45" fill="#111" fill-opacity="0.55"/><circle cx="197.56" cy="158.11" r="0.45" fill="#111" fill-opacity="0.55"/><circle cx="196.62" cy="153.10" r="0.45" fill="#111" fill-opacity="0.55"/><circle cx="193.06" cy="152.16" r="0.45" fill="#111" fill-opacity="0.55"/><circle cx="196.51" cy="166.63" r="0.45" fill="#111" fill-opacity="0.55"/><circle cx="197.69" cy="151.65" r="0.45" fill="#111" fill-opacity="0.55"/><circle cx="192.75" cy="172.68" r="0.45" fill="#111" fill-opacity="0.55"/><circle cx="193.12" cy="156.99" r="0.45" fill="#111" fill-opacity="0.55"/><circle cx="193.44" cy="172.21" r="0.45" fill="#111" fill-opacity="0.55"/><circle cx="193.27" cy="164.49" r="0.45" fill="#111" fill-opacity="0.55"/><circle cx="194.76" cy="167.53" r="0.45" fill="#111" fill-opacity="0.55"/><circle cx="193.46" cy="151.83" r="0.45" fill="#111" fill-opacity="0.55"/><circle cx="196.11" cy="161.34" r="0.45" fill="#111" fill-opacity="0.55"/><circle cx="192.90" cy="179.40" r="0.45" fill="#111" fill-opacity="0.55"/><circle cx="195.07" cy="171.49" r="0.45" fill="#111" fill-opacity="0.55"/><circle cx="194.32" cy="154.76" r="0.45" fill="#111" fill-opacity="0.55"/><circle cx="193.38" cy="160.10" r="0.45" fill="#111" fill-opacity="0.55"/><circle cx="197.39" cy="163.37" r="0.45" fill="#111" fill-opacity="0.55"/><circle cx="195.37" cy="153.55" r="0.45" fill="#111" fill-opacity="0.55"/><circle cx="196.40" cy="156.44" r="0.45" fill="#111" fill-opacity="0.55"/><circle cx="194.65" cy="176.66" r="0.45" fill="#111" fill-opacity="0.55"/><circle cx="196.72" cy="153.25" r="0.45" fill="#111" fill-opacity="0.55"/><circle cx="196.54" cy="155.11" r="0.45" fill="#111" fill-opacity="0.55"/><circle cx="195.01" cy="154.46" r="0.45" fill="#111" fill-opacity="0.55"/><circle cx="191.76" cy="157.94" r="0.45" fill="#111" fill-opacity="0.55"/><circle cx="196.96" cy="183.58" r="0.45" fill="#111" fill-opacity="0.55"/><circle cx="196.70" cy="162.75" r="0.45" fill="#111" fill-opacity="0.55"/><circle cx="195.68" cy="169.92" r="0.45" fill="#111" fill-opacity="0.55"/><circle cx="195.80" cy="160.37" r="0.45" fill="#111" fill-opacity="0.55"/><circle cx="195.56" cy="161.67" r="0.45" fill="#111" fill-opacity="0.55"/><circle cx="195.70" cy="157.46" r="0.45" fill="#111" fill-opacity="0.55"/><circle cx="193.30" cy="151.85" r="0.45" fill="#111" fill-opacity="0.55"/><circle cx="195.20" cy="150.48" r="0.45" fill="#111" fill-opacity="0.55"/><circle cx="195.95" cy="153.17" r="0.45" fill="#111" fill-opacity="0.55"/><circle cx="194.09" cy="156.60" r="0.45" fill="#111" fill-opacity="0.55"/><circle cx="193.37" cy="165.02" r="0.45" fill="#111" fill-opacity="0.55"/><circle cx="199.03" cy="158.23" r="0.45" fill="#111" fill-opacity="0.55"/><circle cx="194.70" cy="160.84" r="0.45" fill="#111" fill-opacity="0.55"/><circle cx="194.33" cy="167.74" r="0.45" fill="#111" fill-opacity="0.55"/><circle cx="192.46" cy="167.69" r="0.45" fill="#111" fill-opacity="0.55"/><circle cx="194.82" cy="177.15" r="0.45" fill="#111" fill-opacity="0.55"/><circle cx="197.89" cy="164.71" r="0.45" fill="#111" fill-opacity="0.55"/><circle cx="191.20" cy="152.60" r="0.45" fill="#111" fill-opacity="0.55"/><circle cx="193.92" cy="158.95" r="0.45" fill="#111" fill-opacity="0.55"/><circle cx="199.15" cy="153.85" r="0.45" fill="#111" fill-opacity="0.55"/><circle cx="196.66" cy="155.56" r="0.45" fill="#111" fill-opacity="0.55"/><circle cx="196.15" cy="154.04" r="0.45" fill="#111" fill-opacity="0.55"/><circle cx="197.71" cy="161.27" r="0.45" fill="#111" fill-opacity="0.55"/><circle cx="195.08" cy="157.30" r="0.45" fill="#111" fill-opacity="0.55"/><circle cx="194.96" cy="158.67" r="0.45" fill="#111" fill-opacity="0.55"/><circle cx="196.75" cy="176.93" r="0.45" fill="#111" fill-opacity="0.55"/><circle cx="197.02" cy="169.40" r="0.45" fill="#111" fill-opacity="0.55"/><circle cx="193.19" cy="150.65" r="0.45" fill="#111" fill-opacity="0.55"/><circle cx="198.38" cy="165.48" r="0.45" fill="#111" fill-opacity="0.55"/><circle cx="191.83" cy="186.64" r="0.45" fill="#111" fill-opacity="0.55"/><circle cx="193.93" cy="171.02" r="0.45" fill="#111" fill-opacity="0.55"/><circle cx="194.30" cy="157.70" r="0.45" fill="#111" fill-opacity="0.55"/><circle cx="196.63" cy="158.42" r="0.45" fill="#111" fill-opacity="0.55"/><circle cx="193.32" cy="156.57" r="0.45" fill="#111" fill-opacity="0.55"/><circle cx="194.68" cy="169.02" r="0.45" fill="#111" fill-opacity="0.55"/><circle cx="193.88" cy="159.95" r="0.45" fill="#111" fill-opacity="0.55"/><circle cx="194.53" cy="155.03" r="0.45" fill="#111" fill-opacity="0.55"/><circle cx="196.64" cy="160.01" r="0.45" fill="#111" fill-opacity="0.55"/><circle cx="198.82" cy="153.76" r="0.45" fill="#111" fill-opacity="0.55"/><circle cx="197.07" cy="167.49" r="0.45" fill="#111" fill-opacity="0.55"/><circle cx="198.44" cy="177.53" r="0.45" fill="#111" fill-opacity="0.55"/><circle cx="194.31" cy="150.25" r="0.45" fill="#111" fill-opacity="0.55"/><circle cx="198.26" cy="151.95" r="0.45" fill="#111" fill-opacity="0.55"/><circle cx="196.45" cy="159.45" r="0.45" fill="#111" fill-opacity="0.55"/><circle cx="198.07" cy="160.72" r="0.45" fill="#111" fill-opacity="0.55"/><circle cx="194.49" cy="168.87" r="0.45" fill="#111" fill-opacity="0.55"/><circle cx="194.86" cy="150.35" r="0.45" fill="#111" fill-opacity="0.55"/><circle cx="198.06" cy="171.34" r="0.45" fill="#111" fill-opacity="0.55"/><circle cx="196.54" cy="155.98" r="0.45" fill="#111" fill-opacity="0.55"/><circle cx="195.53" cy="170.83" r="0.45" fill="#111" fill-opacity="0.55"/><circle cx="193.95" cy="151.97" r="0.45" fill="#111" fill-opacity="0.55"/><circle cx="195.11" cy="151.02" r="0.45" fill="#111" fill-opacity="0.55"/><circle cx="196.28" cy="162.95" r="0.45" fill="#111" fill-opacity="0.55"/><circle cx="196.75" cy="176.68" r="0.45" fill="#111" fill-opacity="0.55"/><circle cx="194.19" cy="166.49" r="0.45" fill="#111" fill-opacity="0.55"/><circle cx="194.62" cy="175.57" r="0.45" fill="#111" fill-opacity="0.55"/><circle cx="196.15" cy="172.88" r="0.45" fill="#111" fill-opacity="0.55"/><circle cx="193.07" cy="158.26" r="0.45" fill="#111" fill-opacity="0.55"/><circle cx="197.16" cy="156.86" r="0.45" fill="#111" fill-opacity="0.55"/><circle cx="195.26" cy="170.18" r="0.45" fill="#111" fill-opacity="0.55"/><circle cx="194.99" cy="158.36" r="0.45" fill="#111" fill-opacity="0.55"/><circle cx="192.05" cy="167.38" r="0.45" fill="#111" fill-opacity="0.55"/><circle cx="193.16" cy="156.56" r="0.45" fill="#111" fill-opacity="0.55"/><circle cx="194.06" cy="163.89" r="0.45" fill="#111" fill-opacity="0.55"/><circle cx="193.02" cy="153.77" r="0.45" fill="#111" fill-opacity="0.55"/><circle cx="195.96" cy="151.41" r="0.45" fill="#111" fill-opacity="0.55"/><circle cx="195.47" cy="155.23" r="0.45" fill="#111" fill-opacity="0.55"/><circle cx="194.67" cy="151.08" r="0.45" fill="#111" fill-opacity="0.55"/><circle cx="191.13" cy="151.56" r="0.45" fill="#111" fill-opacity="0.55"/><circle cx="198.00" cy="156.00" r="0.45" fill="#111" fill-opacity="0.55"/><circle cx="194.64" cy="165.05" r="0.45" fill="#111" fill-opacity="0.55"/><circle cx="196.38" cy="158.94" r="0.45" fill="#111" fill-opacity="0.55"/><circle cx="193.86" cy="167.54" r="0.45" fill="#111" fill-opacity="0.55"/><circle cx="195.19" cy="163.94" r="0.45" fill="#111" fill-opacity="0.55"/><circle cx="196.59" cy="180.00" r="0.45" fill="#111" fill-opacity="0.55"/><circle cx="195.67" cy="171.15" r="0.45" fill="#111" fill-opacity="0.55"/><circle cx="197.12" cy="182.78" r="0.45" fill="#111" fill-opacity="0.55"/><circle cx="194.83" cy="165.84" r="0.45" fill="#111" fill-opacity="0.55"/><circle cx="199.18" cy="152.79" r="0.45" fill="#111" fill-opacity="0.55"/><circle cx="191.41" cy="162.70" r="0.45" fill="#111" fill-opacity="0.55"/><circle cx="194.09" cy="161.41" r="0.45" fill="#111" fill-opacity="0.55"/><circle cx="197.15" cy="175.53" r="0.45" fill="#111" fill-opacity="0.55"/><circle cx="194.69" cy="168.24" r="0.45" fill="#111" fill-opacity="0.55"/><circle cx="194.30" cy="161.76" r="0.45" fill="#111" fill-opacity="0.55"/><circle cx="191.64" cy="159.51" r="0.45" fill="#111" fill-opacity="0.55"/><circle cx="197.58" cy="166.85" r="0.45" fill="#111" fill-opacity="0.55"/><circle cx="191.39" cy="165.76" r="0.45" fill="#111" fill-opacity="0.55"/><circle cx="196.20" cy="160.83" r="0.45" fill="#111" fill-opacity="0.55"/><circle cx="195.57" cy="162.10" r="0.45" fill="#111" fill-opacity="0.55"/><circle cx="196.93" cy="152.10" r="0.45" fill="#111" fill-opacity="0.55"/><circle cx="198.09" cy="160.21" r="0.45" fill="#111" fill-opacity="0.55"/><circle cx="193.77" cy="167.68" r="0.45" fill="#111" fill-opacity="0.55"/><circle cx="193.55" cy="155.77" r="0.45" fill="#111" fill-opacity="0.55"/><circle cx="194.53" cy="157.46" r="0.45" fill="#111" fill-opacity="0.55"/><circle cx="191.73" cy="156.62" r="0.45" fill="#111" fill-opacity="0.55"/><circle cx="196.81" cy="172.77" r="0.45" fill="#111" fill-opacity="0.55"/><circle cx="194.37" cy="157.93" r="0.45" fill="#111" fill-opacity="0.55"/><circle cx="195.48" cy="154.79" r="0.45" fill="#111" fill-opacity="0.55"/><circle cx="192.90" cy="161.29" r="0.45" fill="#111" fill-opacity="0.55"/><circle cx="195.17" cy="156.12" r="0.45" fill="#111" fill-opacity="0.55"/><circle cx="193.90" cy="174.43" r="0.45" fill="#111" fill-opacity="0.55"/><circle cx="194.99" cy="153.44" r="0.45" fill="#111" fill-opacity="0.55"/><circle cx="192.96" cy="158.36" r="0.45" fill="#111" fill-opacity="0.55"/><circle cx="197.19" cy="158.56" r="0.45" fill="#111" fill-opacity="0.55"/><circle cx="193.84" cy="152.82" r="0.45" fill="#111" fill-opacity="0.55"/><circle cx="194.53" cy="151.45" r="0.45" fill="#111" fill-opacity="0.55"/><circle cx="193.36" cy="160.04" r="0.45" fill="#111" fill-opacity="0.55"/><circle cx="195.02" cy="173.87" r="0.45" fill="#111" fill-opacity="0.55"/><circle cx="192.44" cy="166.52" r="0.45" fill="#111" fill-opacity="0.55"/><circle cx="193.89" cy="178.37" r="0.45" fill="#111" fill-opacity="0.55"/><circle cx="195.88" cy="164.31" r="0.45" fill="#111" fill-opacity="0.55"/><circle cx="194.66" cy="150.94" r="0.45" fill="#111" fill-opacity="0.55"/><circle cx="197.60" cy="166.16" r="0.45" fill="#111" fill-opacity="0.55"/><circle cx="197.24" cy="151.51" r="0.45" fill="#111" fill-opacity="0.55"/><circle cx="193.53" cy="184.37" r="0.45" fill="#111" fill-opacity="0.55"/><circle cx="195.19" cy="164.75" r="0.45" fill="#111" fill-opacity="0.55"/><circle cx="196.40" cy="151.86" r="0.45" fill="#111" fill-opacity="0.55"/><circle cx="194.29" cy="160.66" r="0.45" fill="#111" fill-opacity="0.55"/><circle cx="194.19" cy="163.70" r="0.45" fill="#111" fill-opacity="0.55"/><circle cx="196.87" cy="162.93" r="0.45" fill="#111" fill-opacity="0.55"/><circle cx="196.02" cy="165.19" r="0.45" fill="#111" fill-opacity="0.55"/><circle cx="192.31" cy="160.19" r="0.45" fill="#111" fill-opacity="0.55"/><circle cx="194.02" cy="157.32" r="0.45" fill="#111" fill-opacity="0.55"/><circle cx="194.29" cy="158.94" r="0.45" fill="#111" fill-opacity="0.55"/><circle cx="194.88" cy="157.04" r="0.45" fill="#111" fill-opacity="0.55"/><circle cx="193.68" cy="162.85" r="0.45" fill="#111" fill-opacity="0.55"/><circle cx="197.80" cy="156.02" r="0.45" fill="#111" fill-opacity="0.55"/><circle cx="193.18" cy="159.54" r="0.45" fill="#111" fill-opacity="0.55"/><circle cx="192.94" cy="167.10" r="0.45" fill="#111" fill-opacity="0.55"/><circle cx="195.54" cy="153.03" r="0.45" fill="#111" fill-opacity="0.55"/><circle cx="193.05" cy="169.95" r="0.45" fill="#111" fill-opacity="0.55"/><circle cx="196.37" cy="158.05" r="0.45" fill="#111" fill-opacity="0.55"/><circle cx="192.47" cy="164.49" r="0.45" fill="#111" fill-opacity="0.55"/><circle cx="193.43" cy="150.67" r="0.45" fill="#111" fill-opacity="0.55"/><circle cx="197.29" cy="160.31" r="0.45" fill="#111" fill-opacity="0.55"/><circle cx="196.04" cy="151.13" r="0.45" fill="#111" fill-opacity="0.55"/><circle cx="195.24" cy="163.44" r="0.45" fill="#111" fill-opacity="0.55"/><circle cx="195.61" cy="151.85" r="0.45" fill="#111" fill-opacity="0.55"/><circle cx="193.77" cy="152.40" r="0.45" fill="#111" fill-opacity="0.55"/><circle cx="195.75" cy="152.29" r="0.45" fill="#111" fill-opacity="0.55"/><circle cx="194.73" cy="162.46" r="0.45" fill="#111" fill-opacity="0.55"/><circle cx="196.21" cy="154.64" r="0.45" fill="#111" fill-opacity="0.55"/><circle cx="194.46" cy="161.08" r="0.45" fill="#111" fill-opacity="0.55"/><circle cx="195.03" cy="153.63" r="0.45" fill="#111" fill-opacity="0.55"/><circle cx="195.25" cy="156.84" r="0.45" fill="#111" fill-opacity="0.55"/><circle cx="192.38" cy="151.39" r="0.45" fill="#111" fill-opacity="0.55"/><circle cx="193.50" cy="159.18" r="0.45" fill="#111" fill-opacity="0.55"/><circle cx="198.20" cy="161.38" r="0.45" fill="#111" fill-opacity="0.55"/><circle cx="192.34" cy="150.28" r="0.45" fill="#111" fill-opacity="0.55"/><circle cx="193.99" cy="163.99" r="0.45" fill="#111" fill-opacity="0.55"/><circle cx="197.20" cy="168.31" r="0.45" fill="#111" fill-opacity="0.55"/><circle cx="198.17" cy="154.51" r="0.45" fill="#111" fill-opacity="0.55"/><circle cx="193.11" cy="165.12" r="0.45" fill="#111" fill-opacity="0.55"/><circle cx="198.08" cy="151.83" r="0.45" fill="#111" fill-opacity="0.55"/><circle cx="194.43" cy="162.37" r="0.45" fill="#111" fill-opacity="0.55"/><circle cx="198.47" cy="155.28" r="0.45" fill="#111" fill-opacity="0.55"/><circle cx="196.16" cy="166.05" r="0.45" fill="#111" fill-opacity="0.55"/><circle cx="194.60" cy="173.60" r="0.45" fill="#111" fill-opacity="0.55"/><circle cx="196.62" cy="162.76" r="0.45" fill="#111" fill-opacity="0.55"/><circle cx="196.29" cy="162.88" r="0.45" fill="#111" fill-opacity="0.55"/><circle cx="193.62" cy="159.67" r="0.45" fill="#111" fill-opacity="0.55"/><circle cx="199.47" cy="151.66" r="0.45" fill="#111" fill-opacity="0.55"/><circle cx="194.48" cy="163.31" r="0.45" fill="#111" fill-opacity="0.55"/><circle cx="197.48" cy="150.43" r="0.45" fill="#111" fill-opacity="0.55"/><circle cx="194.20" cy="174.78" r="0.45" fill="#111" fill-opacity="0.55"/><circle cx="191.52" cy="150.99" r="0.45" fill="#111" fill-opacity="0.55"/><circle cx="192.93" cy="158.77" r="0.45" fill="#111" fill-opacity="0.55"/><circle cx="194.97" cy="155.01" r="0.45" fill="#111" fill-opacity="0.55"/><circle cx="196.54" cy="157.28" r="0.45" fill="#111" fill-opacity="0.55"/><circle cx="198.70" cy="166.44" r="0.45" fill="#111" fill-opacity="0.55"/><circle cx="195.34" cy="162.00" r="0.45" fill="#111" fill-opacity="0.55"/><circle cx="194.61" cy="169.19" r="0.45" fill="#111" fill-opacity="0.55"/><circle cx="192.71" cy="157.73" r="0.45" fill="#111" fill-opacity="0.55"/><circle cx="195.08" cy="157.47" r="0.45" fill="#111" fill-opacity="0.55"/><circle cx="195.77" cy="175.38" r="0.45" fill="#111" fill-opacity="0.55"/><circle cx="197.78" cy="151.36" r="0.45" fill="#111" fill-opacity="0.55"/><circle cx="197.45" cy="152.30" r="0.45" fill="#111" fill-opacity="0.55"/><circle cx="199.73" cy="156.51" r="0.45" fill="#111" fill-opacity="0.55"/><circle cx="193.35" cy="153.07" r="0.45" fill="#111" fill-opacity="0.55"/><circle cx="195.25" cy="170.86" r="0.45" fill="#111" fill-opacity="0.55"/><circle cx="195.20" cy="157.47" r="0.45" fill="#111" fill-opacity="0.55"/><circle cx="192.51" cy="150.65" r="0.45" fill="#111" fill-opacity="0.55"/><circle cx="193.47" cy="160.33" r="0.45" fill="#111" fill-opacity="0.55"/><circle cx="193.19" cy="165.23" r="0.45" fill="#111" fill-opacity="0.55"/><circle cx="196.19" cy="185.02" r="0.45" fill="#111" fill-opacity="0.55"/><circle cx="196.03" cy="155.72" r="0.45" fill="#111" fill-opacity="0.55"/><circle cx="197.86" cy="152.38" r="0.45" fill="#111" fill-opacity="0.55"/><circle cx="194.36" cy="155.96" r="0.45" fill="#111" fill-opacity="0.55"/><circle cx="192.36" cy="153.33" r="0.45" fill="#111" fill-opacity="0.55"/><circle cx="196.04" cy="155.18" r="0.45" fill="#111" fill-opacity="0.55"/><circle cx="195.90" cy="152.41" r="0.45" fill="#111" fill-opacity="0.55"/><circle cx="196.49" cy="171.53" r="0.45" fill="#111" fill-opacity="0.55"/><circle cx="197.65" cy="159.67" r="0.45" fill="#111" fill-opacity="0.55"/><circle cx="193.99" cy="158.35" r="0.45" fill="#111" fill-opacity="0.55"/><circle cx="196.76" cy="150.17" r="0.45" fill="#111" fill-opacity="0.55"/><circle cx="193.15" cy="161.02" r="0.45" fill="#111" fill-opacity="0.55"/><circle cx="195.47" cy="158.93" r="0.45" fill="#111" fill-opacity="0.55"/><circle cx="196.54" cy="156.50" r="0.45" fill="#111" fill-opacity="0.55"/><circle cx="194.93" cy="163.27" r="0.45" fill="#111" fill-opacity="0.55"/><circle cx="195.59" cy="175.29" r="0.45" fill="#111" fill-opacity="0.55"/><circle cx="192.37" cy="168.13" r="0.45" fill="#111" fill-opacity="0.55"/><circle cx="193.85" cy="163.01" r="0.45" fill="#111" fill-opacity="0.55"/><circle cx="195.46" cy="165.52" r="0.45" fill="#111" fill-opacity="0.55"/><circle cx="192.75" cy="154.24" r="0.45" fill="#111" fill-opacity="0.55"/><circle cx="193.44" cy="166.00" r="0.45" fill="#111" fill-opacity="0.55"/><circle cx="195.67" cy="156.60" r="0.45" fill="#111" fill-opacity="0.55"/><circle cx="193.50" cy="152.34" r="0.45" fill="#111" fill-opacity="0.55"/><circle cx="193.07" cy="159.86" r="0.45" fill="#111" fill-opacity="0.55"/><circle cx="197.90" cy="163.10" r="0.45" fill="#111" fill-opacity="0.55"/><circle cx="194.38" cy="156.91" r="0.45" fill="#111" fill-opacity="0.55"/><circle cx="196.29" cy="154.84" r="0.45" fill="#111" fill-opacity="0.55"/><circle cx="193.89" cy="152.06" r="0.45" fill="#111" fill-opacity="0.55"/><circle cx="196.05" cy="150.08" r="0.45" fill="#111" fill-opacity="0.55"/><circle cx="192.89" cy="168.55" r="0.45" fill="#111" fill-opacity="0.55"/><circle cx="194.96" cy="151.56" r="0.45" fill="#111" fill-opacity="0.55"/><circle cx="195.06" cy="154.36" r="0.45" fill="#111" fill-opacity="0.55"/><circle cx="195.00" cy="174.89" r="0.45" fill="#111" fill-opacity="0.55"/><circle cx="195.26" cy="168.01" r="0.45" fill="#111" fill-opacity="0.55"/><circle cx="195.04" cy="162.28" r="0.45" fill="#111" fill-opacity="0.55"/><circle cx="197.20" cy="151.20" r="0.45" fill="#111" fill-opacity="0.55"/><circle cx="194.43" cy="158.28" r="0.45" fill="#111" fill-opacity="0.55"/><circle cx="193.77" cy="155.73" r="0.45" fill="#111" fill-opacity="0.55"/><circle cx="194.39" cy="150.11" r="0.45" fill="#111" fill-opacity="0.55"/><circle cx="194.34" cy="154.15" r="0.45" fill="#111" fill-opacity="0.55"/><circle cx="191.89" cy="150.47" r="0.45" fill="#111" fill-opacity="0.55"/><circle cx="191.12" cy="156.22" r="0.45" fill="#111" fill-opacity="0.55"/><circle cx="192.23" cy="172.87" r="0.45" fill="#111" fill-opacity="0.55"/><circle cx="195.51" cy="157.93" r="0.45" fill="#111" fill-opacity="0.55"/><circle cx="193.60" cy="181.72" r="0.45" fill="#111" fill-opacity="0.55"/><circle cx="194.11" cy="174.05" r="0.45" fill="#111" fill-opacity="0.55"/><circle cx="197.19" cy="158.54" r="0.45" fill="#111" fill-opacity="0.55"/><circle cx="194.51" cy="164.41" r="0.45" fill="#111" fill-opacity="0.55"/><circle cx="193.67" cy="152.01" r="0.45" fill="#111" fill-opacity="0.55"/><circle cx="197.69" cy="156.19" r="0.45" fill="#111" fill-opacity="0.55"/><circle cx="193.37" cy="160.75" r="0.45" fill="#111" fill-opacity="0.55"/><circle cx="197.41" cy="155.01" r="0.45" fill="#111" fill-opacity="0.55"/><circle cx="196.11" cy="150.15" r="0.45" fill="#111" fill-opacity="0.55"/><circle cx="197.71" cy="158.89" r="0.45" fill="#111" fill-opacity="0.55"/><circle cx="193.48" cy="152.53" r="0.45" fill="#111" fill-opacity="0.55"/><circle cx="196.74" cy="155.15" r="0.45" fill="#111" fill-opacity="0.55"/><circle cx="191.30" cy="163.17" r="0.45" fill="#111" fill-opacity="0.55"/><circle cx="194.58" cy="175.26" r="0.45" fill="#111" fill-opacity="0.55"/><circle cx="197.09" cy="172.48" r="0.45" fill="#111" fill-opacity="0.55"/><circle cx="196.32" cy="161.18" r="0.45" fill="#111" fill-opacity="0.55"/><circle cx="191.25" cy="169.50" r="0.45" fill="#111" fill-opacity="0.55"/><circle cx="196.30" cy="155.78" r="0.45" fill="#111" fill-opacity="0.55"/><circle cx="195.84" cy="153.14" r="0.45" fill="#111" fill-opacity="0.55"/><circle cx="194.80" cy="180.72" r="0.45" fill="#111" fill-opacity="0.55"/><circle cx="193.48" cy="161.48" r="0.45" fill="#111" fill-opacity="0.55"/><circle cx="194.36" cy="151.23" r="0.45" fill="#111" fill-opacity="0.55"/><circle cx="193.77" cy="174.40" r="0.45" fill="#111" fill-opacity="0.55"/><circle cx="196.82" cy="165.66" r="0.45" fill="#111" fill-opacity="0.55"/><circle cx="195.85" cy="167.96" r="0.45" fill="#111" fill-opacity="0.55"/><circle cx="197.06" cy="154.74" r="0.45" fill="#111" fill-opacity="0.55"/><circle cx="196.30" cy="164.33" r="0.45" fill="#111" fill-opacity="0.55"/><circle cx="192.35" cy="166.19" r="0.45" fill="#111" fill-opacity="0.55"/><circle cx="195.19" cy="158.98" r="0.45" fill="#111" fill-opacity="0.55"/><circle cx="199.21" cy="160.58" r="0.45" fill="#111" fill-opacity="0.55"/><circle cx="192.70" cy="167.42" r="0.45" fill="#111" fill-opacity="0.55"/><circle cx="195.48" cy="153.89" r="0.45" fill="#111" fill-opacity="0.55"/><circle cx="193.36" cy="171.76" r="0.45" fill="#111" fill-opacity="0.55"/><circle cx="193.14" cy="177.45" r="0.45" fill="#111" fill-opacity="0.55"/><circle cx="195.34" cy="170.31" r="0.45" fill="#111" fill-opacity="0.55"/><circle cx="196.76" cy="159.47" r="0.45" fill="#111" fill-opacity="0.55"/><circle cx="196.46" cy="150.81" r="0.45" fill="#111" fill-opacity="0.55"/><circle cx="195.84" cy="156.78" r="0.45" fill="#111" fill-opacity="0.55"/><circle cx="196.82" cy="167.78" r="0.45" fill="#111" fill-opacity="0.55"/><circle cx="191.66" cy="161.35" r="0.45" fill="#111" fill-opacity="0.55"/><circle cx="196.55" cy="164.19" r="0.45" fill="#111" fill-opacity="0.55"/><circle cx="195.73" cy="172.22" r="0.45" fill="#111" fill-opacity="0.55"/><circle cx="194.55" cy="153.30" r="0.45" fill="#111" fill-opacity="0.55"/><circle cx="194.89" cy="156.66" r="0.45" fill="#111" fill-opacity="0.55"/><circle cx="193.21" cy="157.85" r="0.45" fill="#111" fill-opacity="0.55"/><circle cx="197.25" cy="160.06" r="0.45" fill="#111" fill-opacity="0.55"/><circle cx="193.41" cy="152.05" r="0.45" fill="#111" fill-opacity="0.55"/><circle cx="191.96" cy="169.45" r="0.45" fill="#111" fill-opacity="0.55"/><circle cx="194.90" cy="168.27" r="0.45" fill="#111" fill-opacity="0.55"/><circle cx="193.75" cy="150.02" r="0.45" fill="#111" fill-opacity="0.55"/><circle cx="194.77" cy="153.56" r="0.45" fill="#111" fill-opacity="0.55"/><circle cx="197.94" cy="155.88" r="0.45" fill="#111" fill-opacity="0.55"/><circle cx="194.64" cy="168.28" r="0.45" fill="#111" fill-opacity="0.55"/><circle cx="195.16" cy="162.29" r="0.45" fill="#111" fill-opacity="0.55"/><circle cx="199.46" cy="154.51" r="0.45" fill="#111" fill-opacity="0.55"/><circle cx="192.11" cy="171.20" r="0.45" fill="#111" fill-opacity="0.55"/><circle cx="195.66" cy="166.71" r="0.45" fill="#111" fill-opacity="0.55"/><circle cx="197.26" cy="154.76" r="0.45" fill="#111" fill-opacity="0.55"/><circle cx="197.96" cy="154.02" r="0.45" fill="#111" fill-opacity="0.55"/><circle cx="199.42" cy="165.90" r="0.45" fill="#111" fill-opacity="0.55"/><circle cx="193.61" cy="152.53" r="0.45" fill="#111" fill-opacity="0.55"/><circle cx="196.15" cy="160.29" r="0.45" fill="#111" fill-opacity="0.55"/><circle cx="194.74" cy="165.29" r="0.45" fill="#111" fill-opacity="0.55"/><circle cx="194.02" cy="153.17" r="0.45" fill="#111" fill-opacity="0.55"/><circle cx="193.48" cy="173.53" r="0.45" fill="#111" fill-opacity="0.55"/><circle cx="192.00" cy="161.83" r="0.45" fill="#111" fill-opacity="0.55"/><circle cx="195.60" cy="156.60" r="0.45" fill="#111" fill-opacity="0.55"/><circle cx="196.45" cy="155.29" r="0.45" fill="#111" fill-opacity="0.55"/><circle cx="192.80" cy="153.94" r="0.45" fill="#111" fill-opacity="0.55"/><circle cx="196.46" cy="156.07" r="0.45" fill="#111" fill-opacity="0.55"/><circle cx="193.83" cy="172.70" r="0.45" fill="#111" fill-opacity="0.55"/><circle cx="192.90" cy="161.96" r="0.45" fill="#111" fill-opacity="0.55"/><circle cx="197.16" cy="174.53" r="0.45" fill="#111" fill-opacity="0.55"/><circle cx="196.38" cy="162.51" r="0.45" fill="#111" fill-opacity="0.55"/><circle cx="194.31" cy="162.17" r="0.45" fill="#111" fill-opacity="0.55"/><circle cx="194.16" cy="177.55" r="0.45" fill="#111" fill-opacity="0.55"/><circle cx="192.33" cy="173.94" r="0.45" fill="#111" fill-opacity="0.55"/><circle cx="195.98" cy="173.96" r="0.45" fill="#111" fill-opacity="0.55"/><circle cx="194.82" cy="158.43" r="0.45" fill="#111" fill-opacity="0.55"/><circle cx="196.03" cy="169.94" r="0.45" fill="#111" fill-opacity="0.55"/><circle cx="195.31" cy="173.80" r="0.45" fill="#111" fill-opacity="0.55"/><circle cx="192.12" cy="164.55" r="0.45" fill="#111" fill-opacity="0.55"/><circle cx="191.82" cy="156.75" r="0.45" fill="#111" fill-opacity="0.55"/><circle cx="195.80" cy="169.64" r="0.45" fill="#111" fill-opacity="0.55"/><circle cx="191.56" cy="173.35" r="0.45" fill="#111" fill-opacity="0.55"/><circle cx="195.51" cy="151.64" r="0.45" fill="#111" fill-opacity="0.55"/><circle cx="196.79" cy="150.06" r="0.45" fill="#111" fill-opacity="0.55"/><circle cx="192.39" cy="159.68" r="0.45" fill="#111" fill-opacity="0.55"/><circle cx="196.34" cy="157.95" r="0.45" fill="#111" fill-opacity="0.55"/><circle cx="195.08" cy="155.64" r="0.45" fill="#111" fill-opacity="0.55"/><circle cx="196.07" cy="164.24" r="0.45" fill="#111" fill-opacity="0.55"/><circle cx="193.73" cy="158.10" r="0.45" fill="#111" fill-opacity="0.55"/><circle cx="194.98" cy="160.87" r="0.45" fill="#111" fill-opacity="0.55"/><circle cx="195.88" cy="153.98" r="0.45" fill="#111" fill-opacity="0.55"/><circle cx="198.71" cy="150.57" r="0.45" fill="#111" fill-opacity="0.55"/><circle cx="196.52" cy="157.54" r="0.45" fill="#111" fill-opacity="0.55"/><circle cx="196.05" cy="169.94" r="0.45" fill="#111" fill-opacity="0.55"/><circle cx="192.44" cy="161.62" r="0.45" fill="#111" fill-opacity="0.55"/><circle cx="195.73" cy="152.23" r="0.45" fill="#111" fill-opacity="0.55"/><circle cx="193.69" cy="155.17" r="0.45" fill="#111" fill-opacity="0.55"/><circle cx="194.93" cy="152.35" r="0.45" fill="#111" fill-opacity="0.55"/><circle cx="195.61" cy="162.62" r="0.45" fill="#111" fill-opacity="0.55"/><circle cx="197.03" cy="169.91" r="0.45" fill="#111" fill-opacity="0.55"/><circle cx="196.28" cy="152.79" r="0.45" fill="#111" fill-opacity="0.55"/><circle cx="195.47" cy="152.73" r="0.45" fill="#111" fill-opacity="0.55"/><circle cx="194.98" cy="162.60" r="0.45" fill="#111" fill-opacity="0.55"/><circle cx="197.83" cy="165.72" r="0.45" fill="#111" fill-opacity="0.55"/><circle cx="193.31" cy="158.44" r="0.45" fill="#111" fill-opacity="0.55"/><circle cx="195.18" cy="160.65" r="0.45" fill="#111" fill-opacity="0.55"/><circle cx="197.88" cy="159.78" r="0.45" fill="#111" fill-opacity="0.55"/><circle cx="194.72" cy="163.16" r="0.45" fill="#111" fill-opacity="0.55"/><circle cx="196.78" cy="178.69" r="0.45" fill="#111" fill-opacity="0.55"/><circle cx="196.91" cy="160.91" r="0.45" fill="#111" fill-opacity="0.55"/><circle cx="199.10" cy="154.46" r="0.45" fill="#111" fill-opacity="0.55"/><circle cx="197.39" cy="159.47" r="0.45" fill="#111" fill-opacity="0.55"/><circle cx="191.79" cy="154.10" r="0.45" fill="#111" fill-opacity="0.55"/><circle cx="195.11" cy="152.17" r="0.45" fill="#111" fill-opacity="0.55"/><circle cx="195.70" cy="161.71" r="0.45" fill="#111" fill-opacity="0.55"/><circle cx="196.77" cy="155.81" r="0.45" fill="#111" fill-opacity="0.55"/><circle cx="195.88" cy="150.31" r="0.45" fill="#111" fill-opacity="0.55"/><circle cx="198.89" cy="168.16" r="0.45" fill="#111" fill-opacity="0.55"/><circle cx="197.31" cy="159.21" r="0.45" fill="#111" fill-opacity="0.55"/><circle cx="192.70" cy="159.75" r="0.45" fill="#111" fill-opacity="0.55"/><circle cx="193.80" cy="156.33" r="0.45" fill="#111" fill-opacity="0.55"/><circle cx="190.91" cy="151.51" r="0.45" fill="#111" fill-opacity="0.55"/><circle cx="198.55" cy="157.31" r="0.45" fill="#111" fill-opacity="0.55"/><circle cx="194.79" cy="151.47" r="0.45" fill="#111" fill-opacity="0.55"/><circle cx="194.75" cy="173.62" r="0.45" fill="#111" fill-opacity="0.55"/><circle cx="191.83" cy="152.17" r="0.45" fill="#111" fill-opacity="0.55"/><circle cx="194.12" cy="155.32" r="0.45" fill="#111" fill-opacity="0.55"/><circle cx="195.85" cy="156.38" r="0.45" fill="#111" fill-opacity="0.55"/><circle cx="194.15" cy="158.30" r="0.45" fill="#111" fill-opacity="0.55"/><circle cx="194.16" cy="155.42" r="0.45" fill="#111" fill-opacity="0.55"/><circle cx="193.69" cy="159.11" r="0.45" fill="#111" fill-opacity="0.55"/><circle cx="198.93" cy="162.85" r="0.45" fill="#111" fill-opacity="0.55"/><circle cx="193.81" cy="156.28" r="0.45" fill="#111" fill-opacity="0.55"/><circle cx="191.97" cy="184.93" r="0.45" fill="#111" fill-opacity="0.55"/><circle cx="193.85" cy="163.15" r="0.45" fill="#111" fill-opacity="0.55"/><circle cx="194.17" cy="160.07" r="0.45" fill="#111" fill-opacity="0.55"/><circle cx="194.68" cy="157.65" r="0.45" fill="#111" fill-opacity="0.55"/><circle cx="194.36" cy="154.58" r="0.45" fill="#111" fill-opacity="0.55"/><circle cx="192.58" cy="167.50" r="0.45" fill="#111" fill-opacity="0.55"/><circle cx="194.43" cy="152.53" r="0.45" fill="#111" fill-opacity="0.55"/><circle cx="195.61" cy="154.36" r="0.45" fill="#111" fill-opacity="0.55"/><circle cx="191.99" cy="177.85" r="0.45" fill="#111" fill-opacity="0.55"/><circle cx="198.83" cy="165.51" r="0.45" fill="#111" fill-opacity="0.55"/><circle cx="198.26" cy="152.71" r="0.45" fill="#111" fill-opacity="0.55"/><circle cx="191.14" cy="150.39" r="0.45" fill="#111" fill-opacity="0.55"/><circle cx="194.07" cy="170.27" r="0.45" fill="#111" fill-opacity="0.55"/><circle cx="196.86" cy="151.66" r="0.45" fill="#111" fill-opacity="0.55"/><circle cx="197.54" cy="175.18" r="0.45" fill="#111" fill-opacity="0.55"/><circle cx="198.44" cy="165.21" r="0.45" fill="#111" fill-opacity="0.55"/><circle cx="191.07" cy="168.77" r="0.45" fill="#111" fill-opacity="0.55"/><circle cx="192.56" cy="152.88" r="0.45" fill="#111" fill-opacity="0.55"/><circle cx="193.77" cy="182.49" r="0.45" fill="#111" fill-opacity="0.55"/><circle cx="195.93" cy="170.42" r="0.45" fill="#111" fill-opacity="0.55"/><circle cx="192.64" cy="170.26" r="0.45" fill="#111" fill-opacity="0.55"/><circle cx="195.70" cy="159.26" r="0.45" fill="#111" fill-opacity="0.55"/><circle cx="195.75" cy="151.44" r="0.45" fill="#111" fill-opacity="0.55"/><circle cx="196.30" cy="167.52" r="0.45" fill="#111" fill-opacity="0.55"/><circle cx="192.23" cy="156.18" r="0.45" fill="#111" fill-opacity="0.55"/><circle cx="195.25" cy="175.96" r="0.45" fill="#111" fill-opacity="0.55"/><circle cx="195.00" cy="173.11" r="0.45" fill="#111" fill-opacity="0.55"/><circle cx="194.01" cy="153.28" r="0.45" fill="#111" fill-opacity="0.55"/><circle cx="197.52" cy="178.95" r="0.45" fill="#111" fill-opacity="0.55"/><circle cx="194.29" cy="153.86" r="0.45" fill="#111" fill-opacity="0.55"/><circle cx="197.83" cy="161.37" r="0.45" fill="#111" fill-opacity="0.55"/><circle cx="193.69" cy="161.31" r="0.45" fill="#111" fill-opacity="0.55"/><circle cx="198.37" cy="166.91" r="0.45" fill="#111" fill-opacity="0.55"/><circle cx="198.26" cy="185.17" r="0.45" fill="#111" fill-opacity="0.55"/><circle cx="193.25" cy="155.95" r="0.45" fill="#111" fill-opacity="0.55"/><circle cx="195.62" cy="158.85" r="0.45" fill="#111" fill-opacity="0.55"/><circle cx="195.58" cy="160.88" r="0.45" fill="#111" fill-opacity="0.55"/><circle cx="192.96" cy="158.59" r="0.45" fill="#111" fill-opacity="0.55"/><circle cx="196.55" cy="167.04" r="0.45" fill="#111" fill-opacity="0.55"/><circle cx="196.17" cy="155.12" r="0.45" fill="#111" fill-opacity="0.55"/><circle cx="193.20" cy="155.36" r="0.45" fill="#111" fill-opacity="0.55"/><circle cx="195.18" cy="168.39" r="0.45" fill="#111" fill-opacity="0.55"/><circle cx="196.79" cy="169.76" r="0.45" fill="#111" fill-opacity="0.55"/><circle cx="194.67" cy="154.40" r="0.45" fill="#111" fill-opacity="0.55"/><circle cx="193.55" cy="162.08" r="0.45" fill="#111" fill-opacity="0.55"/><circle cx="198.34" cy="163.52" r="0.45" fill="#111" fill-opacity="0.55"/><circle cx="195.71" cy="170.12" r="0.45" fill="#111" fill-opacity="0.55"/><circle cx="197.31" cy="158.46" r="0.45" fill="#111" fill-opacity="0.55"/><circle cx="196.64" cy="180.66" r="0.45" fill="#111" fill-opacity="0.55"/><circle cx="191.31" cy="161.51" r="0.45" fill="#111" fill-opacity="0.55"/><circle cx="194.38" cy="150.88" r="0.45" fill="#111" fill-opacity="0.55"/><circle cx="194.79" cy="166.17" r="0.45" fill="#111" fill-opacity="0.55"/><circle cx="194.63" cy="151.58" r="0.45" fill="#111" fill-opacity="0.55"/><circle cx="196.35" cy="151.61" r="0.45" fill="#111" fill-opacity="0.55"/><circle cx="196.18" cy="161.10" r="0.45" fill="#111" fill-opacity="0.55"/><circle cx="195.36" cy="154.99" r="0.45" fill="#111" fill-opacity="0.55"/><circle cx="195.64" cy="152.86" r="0.45" fill="#111" fill-opacity="0.55"/><circle cx="197.16" cy="156.64" r="0.45" fill="#111" fill-opacity="0.55"/><circle cx="197.65" cy="153.25" r="0.45" fill="#111" fill-opacity="0.55"/><circle cx="191.27" cy="167.28" r="0.45" fill="#111" fill-opacity="0.55"/><circle cx="199.56" cy="151.59" r="0.45" fill="#111" fill-opacity="0.55"/><circle cx="194.01" cy="161.65" r="0.45" fill="#111" fill-opacity="0.55"/><circle cx="196.72" cy="161.36" r="0.45" fill="#111" fill-opacity="0.55"/><circle cx="191.83" cy="168.47" r="0.45" fill="#111" fill-opacity="0.55"/><circle cx="194.10" cy="156.03" r="0.45" fill="#111" fill-opacity="0.55"/><circle cx="192.60" cy="155.30" r="0.45" fill="#111" fill-opacity="0.55"/><circle cx="197.36" cy="150.25" r="0.45" fill="#111" fill-opacity="0.55"/><circle cx="196.96" cy="156.11" r="0.45" fill="#111" fill-opacity="0.55"/><circle cx="195.17" cy="162.84" r="0.45" fill="#111" fill-opacity="0.55"/><circle cx="194.82" cy="162.66" r="0.45" fill="#111" fill-opacity="0.55"/><circle cx="195.95" cy="162.46" r="0.45" fill="#111" fill-opacity="0.55"/><circle cx="193.26" cy="156.50" r="0.45" fill="#111" fill-opacity="0.55"/><circle cx="193.93" cy="152.73" r="0.45" fill="#111" fill-opacity="0.55"/><circle cx="193.61" cy="153.09" r="0.45" fill="#111" fill-opacity="0.55"/><circle cx="196.83" cy="159.61" r="0.45" fill="#111" fill-opacity="0.55"/><circle cx="195.22" cy="170.40" r="0.45" fill="#111" fill-opacity="0.55"/><circle cx="192.58" cy="159.35" r="0.45" fill="#111" fill-opacity="0.55"/><circle cx="195.87" cy="154.22" r="0.45" fill="#111" fill-opacity="0.55"/><circle cx="196.24" cy="150.37" r="0.45" fill="#111" fill-opacity="0.55"/><circle cx="197.99" cy="157.77" r="0.45" fill="#111" fill-opacity="0.55"/><circle cx="194.04" cy="170.18" r="0.45" fill="#111" fill-opacity="0.55"/><circle cx="195.99" cy="162.27" r="0.45" fill="#111" fill-opacity="0.55"/><circle cx="199.40" cy="178.86" r="0.45" fill="#111" fill-opacity="0.55"/><circle cx="194.51" cy="152.36" r="0.45" fill="#111" fill-opacity="0.55"/><circle cx="194.43" cy="172.42" r="0.45" fill="#111" fill-opacity="0.55"/><circle cx="196.20" cy="173.47" r="0.45" fill="#111" fill-opacity="0.55"/><circle cx="194.15" cy="159.71" r="0.45" fill="#111" fill-opacity="0.55"/><circle cx="195.17" cy="153.88" r="0.45" fill="#111" fill-opacity="0.55"/><circle cx="194.14" cy="153.50" r="0.45" fill="#111" fill-opacity="0.55"/><circle cx="193.57" cy="153.02" r="0.45" fill="#111" fill-opacity="0.55"/><circle cx="196.95" cy="155.79" r="0.45" fill="#111" fill-opacity="0.55"/><circle cx="194.40" cy="150.13" r="0.45" fill="#111" fill-opacity="0.55"/><circle cx="193.12" cy="163.42" r="0.45" fill="#111" fill-opacity="0.55"/><circle cx="194.58" cy="154.16" r="0.45" fill="#111" fill-opacity="0.55"/><circle cx="194.87" cy="176.13" r="0.45" fill="#111" fill-opacity="0.55"/><circle cx="195.76" cy="155.18" r="0.45" fill="#111" fill-opacity="0.55"/><circle cx="197.05" cy="182.77" r="0.45" fill="#111" fill-opacity="0.55"/><circle cx="198.75" cy="162.72" r="0.45" fill="#111" fill-opacity="0.55"/><circle cx="192.67" cy="174.38" r="0.45" fill="#111" fill-opacity="0.55"/><circle cx="194.65" cy="154.98" r="0.45" fill="#111" fill-opacity="0.55"/><circle cx="191.45" cy="181.92" r="0.45" fill="#111" fill-opacity="0.55"/><circle cx="195.59" cy="165.40" r="0.45" fill="#111" fill-opacity="0.55"/><circle cx="196.20" cy="165.57" r="0.45" fill="#111" fill-opacity="0.55"/><circle cx="193.81" cy="161.10" r="0.45" fill="#111" fill-opacity="0.55"/><circle cx="193.27" cy="150.60" r="0.45" fill="#111" fill-opacity="0.55"/><circle cx="193.11" cy="170.69" r="0.45" fill="#111" fill-opacity="0.55"/><circle cx="192.08" cy="159.92" r="0.45" fill="#111" fill-opacity="0.55"/><circle cx="196.39" cy="165.87" r="0.45" fill="#111" fill-opacity="0.55"/><circle cx="198.98" cy="154.68" r="0.45" fill="#111" fill-opacity="0.55"/><circle cx="192.79" cy="151.05" r="0.45" fill="#111" fill-opacity="0.55"/><circle cx="198.41" cy="151.95" r="0.45" fill="#111" fill-opacity="0.55"/><circle cx="194.86" cy="173.94" r="0.45" fill="#111" fill-opacity="0.55"/><circle cx="192.27" cy="170.74" r="0.45" fill="#111" fill-opacity="0.55"/><circle cx="196.22" cy="165.54" r="0.45" fill="#111" fill-opacity="0.55"/><circle cx="196.62" cy="162.97" r="0.45" fill="#111" fill-opacity="0.55"/><circle cx="195.87" cy="164.29" r="0.45" fill="#111" fill-opacity="0.55"/><circle cx="194.54" cy="167.86" r="0.45" fill="#111" fill-opacity="0.55"/><circle cx="198.45" cy="162.52" r="0.45" fill="#111" fill-opacity="0.55"/><circle cx="194.49" cy="165.80" r="0.45" fill="#111" fill-opacity="0.55"/><circle cx="196.35" cy="158.08" r="0.45" fill="#111" fill-opacity="0.55"/><circle cx="196.37" cy="158.85" r="0.45" fill="#111" fill-opacity="0.55"/><circle cx="193.24" cy="170.32" r="0.45" fill="#111" fill-opacity="0.55"/><circle cx="191.30" cy="161.15" r="0.45" fill="#111" fill-opacity="0.55"/><circle cx="191.54" cy="154.09" r="0.45" fill="#111" fill-opacity="0.55"/><circle cx="194.24" cy="153.17" r="0.45" fill="#111" fill-opacity="0.55"/><circle cx="195.76" cy="157.95" r="0.45" fill="#111" fill-opacity="0.55"/><circle cx="191.43" cy="162.19" r="0.45" fill="#111" fill-opacity="0.55"/><circle cx="193.57" cy="150.51" r="0.45" fill="#111" fill-opacity="0.55"/><circle cx="198.14" cy="153.94" r="0.45" fill="#111" fill-opacity="0.55"/><circle cx="191.39" cy="161.37" r="0.45" fill="#111" fill-opacity="0.55"/><circle cx="195.96" cy="150.65" r="0.45" fill="#111" fill-opacity="0.55"/><circle cx="195.74" cy="164.33" r="0.45" fill="#111" fill-opacity="0.55"/><circle cx="196.62" cy="151.62" r="0.45" fill="#111" fill-opacity="0.55"/><circle cx="192.04" cy="160.47" r="0.45" fill="#111" fill-opacity="0.55"/><circle cx="195.70" cy="152.94" r="0.45" fill="#111" fill-opacity="0.55"/><circle cx="192.19" cy="173.49" r="0.45" fill="#111" fill-opacity="0.55"/><circle cx="197.72" cy="171.28" r="0.45" fill="#111" fill-opacity="0.55"/><circle cx="193.26" cy="172.15" r="0.45" fill="#111" fill-opacity="0.55"/><circle cx="195.78" cy="154.55" r="0.45" fill="#111" fill-opacity="0.55"/><circle cx="193.39" cy="156.72" r="0.45" fill="#111" fill-opacity="0.55"/><circle cx="195.29" cy="154.36" r="0.45" fill="#111" fill-opacity="0.55"/><circle cx="191.89" cy="154.65" r="0.45" fill="#111" fill-opacity="0.55"/><circle cx="195.58" cy="153.07" r="0.45" fill="#111" fill-opacity="0.55"/><circle cx="196.23" cy="157.22" r="0.45" fill="#111" fill-opacity="0.55"/><circle cx="194.98" cy="153.78" r="0.45" fill="#111" fill-opacity="0.55"/><circle cx="198.28" cy="153.21" r="0.45" fill="#111" fill-opacity="0.55"/><circle cx="195.75" cy="166.81" r="0.45" fill="#111" fill-opacity="0.55"/><circle cx="196.59" cy="167.24" r="0.45" fill="#111" fill-opacity="0.55"/><circle cx="196.03" cy="165.65" r="0.45" fill="#111" fill-opacity="0.55"/><circle cx="198.81" cy="165.86" r="0.45" fill="#111" fill-opacity="0.55"/><circle cx="193.67" cy="158.35" r="0.45" fill="#111" fill-opacity="0.55"/><circle cx="194.46" cy="165.49" r="0.45" fill="#111" fill-opacity="0.55"/><circle cx="194.56" cy="151.12" r="0.45" fill="#111" fill-opacity="0.55"/><circle cx="196.26" cy="150.89" r="0.45" fill="#111" fill-opacity="0.55"/><circle cx="195.54" cy="160.01" r="0.45" fill="#111" fill-opacity="0.55"/><circle cx="196.71" cy="150.38" r="0.45" fill="#111" fill-opacity="0.55"/><circle cx="195.62" cy="164.78" r="0.45" fill="#111" fill-opacity="0.55"/><circle cx="193.97" cy="150.83" r="0.45" fill="#111" fill-opacity="0.55"/><circle cx="194.89" cy="153.48" r="0.45" fill="#111" fill-opacity="0.55"/><circle cx="195.91" cy="160.63" r="0.45" fill="#111" fill-opacity="0.55"/><circle cx="197.85" cy="155.44" r="0.45" fill="#111" fill-opacity="0.55"/><circle cx="193.88" cy="171.16" r="0.45" fill="#111" fill-opacity="0.55"/><circle cx="194.32" cy="151.56" r="0.45" fill="#111" fill-opacity="0.55"/><circle cx="195.57" cy="153.41" r="0.45" fill="#111" fill-opacity="0.55"/><circle cx="194.54" cy="176.64" r="0.45" fill="#111" fill-opacity="0.55"/><circle cx="192.10" cy="151.48" r="0.45" fill="#111" fill-opacity="0.55"/><circle cx="194.59" cy="167.28" r="0.45" fill="#111" fill-opacity="0.55"/><circle cx="197.88" cy="183.27" r="0.45" fill="#111" fill-opacity="0.55"/><circle cx="197.20" cy="151.47" r="0.45" fill="#111" fill-opacity="0.55"/><circle cx="197.59" cy="157.04" r="0.45" fill="#111" fill-opacity="0.55"/><circle cx="193.95" cy="155.38" r="0.45" fill="#111" fill-opacity="0.55"/><circle cx="194.64" cy="166.58" r="0.45" fill="#111" fill-opacity="0.55"/><circle cx="197.23" cy="152.08" r="0.45" fill="#111" fill-opacity="0.55"/><circle cx="198.11" cy="153.13" r="0.45" fill="#111" fill-opacity="0.55"/><circle cx="193.13" cy="161.04" r="0.45" fill="#111" fill-opacity="0.55"/><circle cx="191.17" cy="168.64" r="0.45" fill="#111" fill-opacity="0.55"/><circle cx="198.01" cy="152.12" r="0.45" fill="#111" fill-opacity="0.55"/><circle cx="192.01" cy="156.65" r="0.45" fill="#111" fill-opacity="0.55"/><circle cx="196.00" cy="155.14" r="0.45" fill="#111" fill-opacity="0.55"/><circle cx="196.95" cy="164.51" r="0.45" fill="#111" fill-opacity="0.55"/><circle cx="195.53" cy="179.16" r="0.45" fill="#111" fill-opacity="0.55"/><circle cx="194.91" cy="157.80" r="0.45" fill="#111" fill-opacity="0.55"/><circle cx="196.10" cy="169.00" r="0.45" fill="#111" fill-opacity="0.55"/><circle cx="196.20" cy="156.90" r="0.45" fill="#111" fill-opacity="0.55"/><circle cx="197.91" cy="167.82" r="0.45" fill="#111" fill-opacity="0.55"/><circle cx="196.58" cy="156.36" r="0.45" fill="#111" fill-opacity="0.55"/><circle cx="193.61" cy="150.11" r="0.45" fill="#111" fill-opacity="0.55"/><circle cx="190.85" cy="158.97" r="0.45" fill="#111" fill-opacity="0.55"/><circle cx="195.79" cy="167.57" r="0.45" fill="#111" fill-opacity="0.55"/><circle cx="193.79" cy="160.27" r="0.45" fill="#111" fill-opacity="0.55"/><circle cx="198.08" cy="178.94" r="0.45" fill="#111" fill-opacity="0.55"/><circle cx="192.49" cy="153.81" r="0.45" fill="#111" fill-opacity="0.55"/><circle cx="195.60" cy="156.47" r="0.45" fill="#111" fill-opacity="0.55"/><circle cx="193.69" cy="162.40" r="0.45" fill="#111" fill-opacity="0.55"/><circle cx="193.39" cy="161.61" r="0.45" fill="#111" fill-opacity="0.55"/><circle cx="198.62" cy="158.98" r="0.45" fill="#111" fill-opacity="0.55"/><circle cx="195.54" cy="173.57" r="0.45" fill="#111" fill-opacity="0.55"/><circle cx="194.82" cy="170.47" r="0.45" fill="#111" fill-opacity="0.55"/><circle cx="196.72" cy="162.39" r="0.45" fill="#111" fill-opacity="0.55"/><circle cx="194.44" cy="164.88" r="0.45" fill="#111" fill-opacity="0.55"/><circle cx="193.88" cy="155.63" r="0.45" fill="#111" fill-opacity="0.55"/><circle cx="199.28" cy="162.95" r="0.45" fill="#111" fill-opacity="0.55"/><circle cx="195.88" cy="159.85" r="0.45" fill="#111" fill-opacity="0.55"/><circle cx="196.50" cy="158.07" r="0.45" fill="#111" fill-opacity="0.55"/><circle cx="197.50" cy="154.33" r="0.45" fill="#111" fill-opacity="0.55"/><circle cx="194.82" cy="154.30" r="0.45" fill="#111" fill-opacity="0.55"/><circle cx="194.88" cy="162.59" r="0.45" fill="#111" fill-opacity="0.55"/><circle cx="191.82" cy="153.66" r="0.45" fill="#111" fill-opacity="0.55"/><circle cx="196.19" cy="167.85" r="0.45" fill="#111" fill-opacity="0.55"/><circle cx="195.73" cy="161.44" r="0.45" fill="#111" fill-opacity="0.55"/><circle cx="194.35" cy="150.26" r="0.45" fill="#111" fill-opacity="0.55"/><circle cx="197.68" cy="157.85" r="0.45" fill="#111" fill-opacity="0.55"/><circle cx="191.50" cy="161.35" r="0.45" fill="#111" fill-opacity="0.55"/><circle cx="196.06" cy="158.03" r="0.45" fill="#111" fill-opacity="0.55"/><circle cx="192.34" cy="160.17" r="0.45" fill="#111" fill-opacity="0.55"/><circle cx="192.83" cy="151.61" r="0.45" fill="#111" fill-opacity="0.55"/><circle cx="194.76" cy="163.96" r="0.45" fill="#111" fill-opacity="0.55"/><circle cx="197.95" cy="151.60" r="0.45" fill="#111" fill-opacity="0.55"/><circle cx="192.73" cy="165.19" r="0.45" fill="#111" fill-opacity="0.55"/><circle cx="193.12" cy="169.39" r="0.45" fill="#111" fill-opacity="0.55"/><circle cx="192.68" cy="158.45" r="0.45" fill="#111" fill-opacity="0.55"/><circle cx="199.36" cy="157.39" r="0.45" fill="#111" fill-opacity="0.55"/><circle cx="196.27" cy="176.18" r="0.45" fill="#111" fill-opacity="0.55"/><circle cx="196.03" cy="150.24" r="0.45" fill="#111" fill-opacity="0.55"/><circle cx="199.47" cy="162.49" r="0.45" fill="#111" fill-opacity="0.55"/><circle cx="195.71" cy="152.28" r="0.45" fill="#111" fill-opacity="0.55"/><circle cx="190.83" cy="164.91" r="0.45" fill="#111" fill-opacity="0.55"/><circle cx="194.14" cy="162.36" r="0.45" fill="#111" fill-opacity="0.55"/><circle cx="192.71" cy="159.94" r="0.45" fill="#111" fill-opacity="0.55"/><circle cx="199.39" cy="160.85" r="0.45" fill="#111" fill-opacity="0.55"/><circle cx="192.25" cy="160.95" r="0.45" fill="#111" fill-opacity="0.55"/><circle cx="195.82" cy="150.55" r="0.45" fill="#111" fill-opacity="0.55"/><circle cx="194.12" cy="162.57" r="0.45" fill="#111" fill-opacity="0.55"/><circle cx="194.27" cy="167.37" r="0.45" fill="#111" fill-opacity="0.55"/><circle cx="195.23" cy="163.11" r="0.45" fill="#111" fill-opacity="0.55"/><circle cx="194.91" cy="170.88" r="0.45" fill="#111" fill-opacity="0.55"/><circle cx="193.77" cy="165.89" r="0.45" fill="#111" fill-opacity="0.55"/><circle cx="192.62" cy="156.85" r="0.45" fill="#111" fill-opacity="0.55"/><circle cx="193.83" cy="154.44" r="0.45" fill="#111" fill-opacity="0.55"/><circle cx="193.02" cy="165.61" r="0.45" fill="#111" fill-opacity="0.55"/><circle cx="193.30" cy="157.04" r="0.45" fill="#111" fill-opacity="0.55"/><circle cx="195.43" cy="160.74" r="0.45" fill="#111" fill-opacity="0.55"/><circle cx="194.87" cy="152.66" r="0.45" fill="#111" fill-opacity="0.55"/><circle cx="196.18" cy="173.12" r="0.45" fill="#111" fill-opacity="0.55"/><circle cx="194.69" cy="161.31" r="0.45" fill="#111" fill-opacity="0.55"/><circle cx="199.18" cy="175.01" r="0.45" fill="#111" fill-opacity="0.55"/><circle cx="193.66" cy="153.02" r="0.45" fill="#111" fill-opacity="0.55"/><circle cx="193.10" cy="165.08" r="0.45" fill="#111" fill-opacity="0.55"/><circle cx="197.31" cy="162.65" r="0.45" fill="#111" fill-opacity="0.55"/><circle cx="193.71" cy="172.57" r="0.45" fill="#111" fill-opacity="0.55"/><circle cx="195.44" cy="153.00" r="0.45" fill="#111" fill-opacity="0.55"/><circle cx="197.21" cy="154.87" r="0.45" fill="#111" fill-opacity="0.55"/><circle cx="194.97" cy="154.16" r="0.45" fill="#111" fill-opacity="0.55"/><circle cx="194.44" cy="173.00" r="0.45" fill="#111" fill-opacity="0.55"/><circle cx="197.19" cy="154.02" r="0.45" fill="#111" fill-opacity="0.55"/><circle cx="195.86" cy="170.05" r="0.45" fill="#111" fill-opacity="0.55"/><circle cx="194.07" cy="165.12" r="0.45" fill="#111" fill-opacity="0.55"/><circle cx="192.68" cy="159.94" r="0.45" fill="#111" fill-opacity="0.55"/><circle cx="194.38" cy="153.15" r="0.45" fill="#111" fill-opacity="0.55"/><circle cx="191.72" cy="165.90" r="0.45" fill="#111" fill-opacity="0.55"/><circle cx="193.36" cy="173.50" r="0.45" fill="#111" fill-opacity="0.55"/><circle cx="192.89" cy="157.80" r="0.45" fill="#111" fill-opacity="0.55"/><circle cx="195.78" cy="156.22" r="0.45" fill="#111" fill-opacity="0.55"/><circle cx="196.75" cy="161.37" r="0.45" fill="#111" fill-opacity="0.55"/><circle cx="193.81" cy="158.65" r="0.45" fill="#111" fill-opacity="0.55"/><circle cx="194.25" cy="159.25" r="0.45" fill="#111" fill-opacity="0.55"/><circle cx="192.87" cy="166.84" r="0.45" fill="#111" fill-opacity="0.55"/><circle cx="192.29" cy="172.59" r="0.45" fill="#111" fill-opacity="0.55"/><circle cx="194.26" cy="158.37" r="0.45" fill="#111" fill-opacity="0.55"/><circle cx="196.33" cy="171.54" r="0.45" fill="#111" fill-opacity="0.55"/><circle cx="196.13" cy="156.45" r="0.45" fill="#111" fill-opacity="0.55"/><circle cx="196.38" cy="150.44" r="0.45" fill="#111" fill-opacity="0.55"/><circle cx="194.59" cy="163.27" r="0.45" fill="#111" fill-opacity="0.55"/><circle cx="197.08" cy="156.10" r="0.45" fill="#111" fill-opacity="0.55"/><circle cx="197.90" cy="173.48" r="0.45" fill="#111" fill-opacity="0.55"/><circle cx="197.05" cy="157.41" r="0.45" fill="#111" fill-opacity="0.55"/><circle cx="197.04" cy="157.22" r="0.45" fill="#111" fill-opacity="0.55"/><circle cx="197.44" cy="155.60" r="0.45" fill="#111" fill-opacity="0.55"/><circle cx="195.84" cy="163.09" r="0.45" fill="#111" fill-opacity="0.55"/><circle cx="198.41" cy="159.21" r="0.45" fill="#111" fill-opacity="0.55"/><circle cx="196.86" cy="161.67" r="0.45" fill="#111" fill-opacity="0.55"/><circle cx="196.59" cy="166.63" r="0.45" fill="#111" fill-opacity="0.55"/><circle cx="194.91" cy="184.94" r="0.45" fill="#111" fill-opacity="0.55"/><circle cx="194.47" cy="151.58" r="0.45" fill="#111" fill-opacity="0.55"/><circle cx="192.85" cy="174.27" r="0.45" fill="#111" fill-opacity="0.55"/><circle cx="196.41" cy="187.51" r="0.45" fill="#111" fill-opacity="0.55"/><circle cx="194.54" cy="187.36" r="0.45" fill="#111" fill-opacity="0.55"/><circle cx="192.70" cy="167.84" r="0.45" fill="#111" fill-opacity="0.55"/><circle cx="193.61" cy="161.41" r="0.45" fill="#111" fill-opacity="0.55"/><circle cx="192.73" cy="160.48" r="0.45" fill="#111" fill-opacity="0.55"/><circle cx="198.52" cy="160.82" r="0.45" fill="#111" fill-opacity="0.55"/><circle cx="194.68" cy="154.58" r="0.45" fill="#111" fill-opacity="0.55"/><circle cx="195.42" cy="154.37" r="0.45" fill="#111" fill-opacity="0.55"/><circle cx="192.67" cy="179.11" r="0.45" fill="#111" fill-opacity="0.55"/><circle cx="193.04" cy="161.03" r="0.45" fill="#111" fill-opacity="0.55"/><circle cx="197.37" cy="153.45" r="0.45" fill="#111" fill-opacity="0.55"/><circle cx="194.70" cy="173.61" r="0.45" fill="#111" fill-opacity="0.55"/><circle cx="195.65" cy="168.28" r="0.45" fill="#111" fill-opacity="0.55"/><circle cx="199.01" cy="162.33" r="0.45" fill="#111" fill-opacity="0.55"/><circle cx="199.54" cy="164.50" r="0.45" fill="#111" fill-opacity="0.55"/><circle cx="196.63" cy="155.40" r="0.45" fill="#111" fill-opacity="0.55"/><circle cx="196.21" cy="169.42" r="0.45" fill="#111" fill-opacity="0.55"/><circle cx="195.69" cy="150.55" r="0.45" fill="#111" fill-opacity="0.55"/><circle cx="194.60" cy="176.00" r="0.45" fill="#111" fill-opacity="0.55"/><circle cx="199.40" cy="154.62" r="0.45" fill="#111" fill-opacity="0.55"/><circle cx="192.67" cy="160.29" r="0.45" fill="#111" fill-opacity="0.55"/><circle cx="195.01" cy="150.75" r="0.45" fill="#111" fill-opacity="0.55"/><circle cx="191.20" cy="160.72" r="0.45" fill="#111" fill-opacity="0.55"/><circle cx="192.57" cy="171.61" r="0.45" fill="#111" fill-opacity="0.55"/><circle cx="196.04" cy="162.56" r="0.45" fill="#111" fill-opacity="0.55"/><circle cx="196.15" cy="165.75" r="0.45" fill="#111" fill-opacity="0.55"/><circle cx="195.90" cy="153.20" r="0.45" fill="#111" fill-opacity="0.55"/><circle cx="194.53" cy="150.35" r="0.45" fill="#111" fill-opacity="0.55"/><circle cx="193.73" cy="152.06" r="0.45" fill="#111" fill-opacity="0.55"/><circle cx="194.08" cy="155.18" r="0.45" fill="#111" fill-opacity="0.55"/><circle cx="194.40" cy="155.98" r="0.45" fill="#111" fill-opacity="0.55"/><circle cx="197.47" cy="158.20" r="0.45" fill="#111" fill-opacity="0.55"/><circle cx="198.23" cy="167.29" r="0.45" fill="#111" fill-opacity="0.55"/><circle cx="196.12" cy="166.62" r="0.45" fill="#111" fill-opacity="0.55"/><circle cx="194.08" cy="157.39" r="0.45" fill="#111" fill-opacity="0.55"/><circle cx="193.25" cy="156.49" r="0.45" fill="#111" fill-opacity="0.55"/><circle cx="195.83" cy="158.41" r="0.45" fill="#111" fill-opacity="0.55"/><circle cx="194.72" cy="168.18" r="0.45" fill="#111" fill-opacity="0.55"/><circle cx="191.41" cy="162.00" r="0.45" fill="#111" fill-opacity="0.55"/><circle cx="198.05" cy="160.06" r="0.45" fill="#111" fill-opacity="0.55"/><circle cx="195.18" cy="156.29" r="0.45" fill="#111" fill-opacity="0.55"/><circle cx="194.54" cy="161.62" r="0.45" fill="#111" fill-opacity="0.55"/><circle cx="193.39" cy="172.22" r="0.45" fill="#111" fill-opacity="0.55"/><circle cx="193.38" cy="169.99" r="0.45" fill="#111" fill-opacity="0.55"/><circle cx="197.07" cy="163.34" r="0.45" fill="#111" fill-opacity="0.55"/><circle cx="193.24" cy="153.73" r="0.45" fill="#111" fill-opacity="0.55"/><circle cx="195.40" cy="170.27" r="0.45" fill="#111" fill-opacity="0.55"/><circle cx="196.52" cy="156.90" r="0.45" fill="#111" fill-opacity="0.55"/><circle cx="194.64" cy="151.78" r="0.55" fill="#3a60c4" fill-opacity="0.5"/><circle cx="198.02" cy="147.28" r="0.55" fill="#3a60c4" fill-opacity="0.5"/><circle cx="197.26" cy="159.43" r="0.55" fill="#3a60c4" fill-opacity="0.5"/><circle cx="194.86" cy="151.35" r="0.55" fill="#3a60c4" fill-opacity="0.5"/><circle cx="193.06" cy="155.62" r="0.55" fill="#3a60c4" fill-opacity="0.5"/><circle cx="192.02" cy="159.19" r="0.55" fill="#3a60c4" fill-opacity="0.5"/><circle cx="195.08" cy="148.83" r="0.55" fill="#3a60c4" fill-opacity="0.5"/><circle cx="192.60" cy="149.38" r="0.55" fill="#3a60c4" fill-opacity="0.5"/><circle cx="195.06" cy="148.07" r="0.55" fill="#3a60c4" fill-opacity="0.5"/><circle cx="195.00" cy="155.31" r="0.55" fill="#3a60c4" fill-opacity="0.5"/><circle cx="196.17" cy="148.51" r="0.55" fill="#3a60c4" fill-opacity="0.5"/><circle cx="197.43" cy="148.70" r="0.55" fill="#3a60c4" fill-opacity="0.5"/><circle cx="195.64" cy="147.19" r="0.55" fill="#3a60c4" fill-opacity="0.5"/><circle cx="196.36" cy="154.07" r="0.55" fill="#3a60c4" fill-opacity="0.5"/><circle cx="195.07" cy="147.74" r="0.55" fill="#3a60c4" fill-opacity="0.5"/><circle cx="197.51" cy="148.77" r="0.55" fill="#3a60c4" fill-opacity="0.5"/><circle cx="197.05" cy="154.81" r="0.55" fill="#3a60c4" fill-opacity="0.5"/><circle cx="198.62" cy="159.46" r="0.55" fill="#3a60c4" fill-opacity="0.5"/><circle cx="198.19" cy="152.00" r="0.55" fill="#3a60c4" fill-opacity="0.5"/><circle cx="193.95" cy="145.21" r="0.55" fill="#3a60c4" fill-opacity="0.5"/><circle cx="192.48" cy="153.48" r="0.55" fill="#3a60c4" fill-opacity="0.5"/><circle cx="196.71" cy="145.47" r="0.55" fill="#3a60c4" fill-opacity="0.5"/><circle cx="197.72" cy="151.22" r="0.55" fill="#3a60c4" fill-opacity="0.5"/><circle cx="194.07" cy="159.84" r="0.55" fill="#3a60c4" fill-opacity="0.5"/><circle cx="198.43" cy="147.94" r="0.55" fill="#3a60c4" fill-opacity="0.5"/><circle cx="195.61" cy="145.43" r="0.55" fill="#3a60c4" fill-opacity="0.5"/><circle cx="195.24" cy="150.78" r="0.55" fill="#3a60c4" fill-opacity="0.5"/><circle cx="196.13" cy="153.51" r="0.55" fill="#3a60c4" fill-opacity="0.5"/><circle cx="192.59" cy="156.65" r="0.55" fill="#3a60c4" fill-opacity="0.5"/><circle cx="192.10" cy="159.94" r="0.55" fill="#3a60c4" fill-opacity="0.5"/><circle cx="194.71" cy="159.89" r="0.55" fill="#3a60c4" fill-opacity="0.5"/><circle cx="193.04" cy="147.10" r="0.55" fill="#3a60c4" fill-opacity="0.5"/><circle cx="195.36" cy="159.30" r="0.55" fill="#3a60c4" fill-opacity="0.5"/><circle cx="195.38" cy="149.70" r="0.55" fill="#3a60c4" fill-opacity="0.5"/><circle cx="193.76" cy="154.19" r="0.55" fill="#3a60c4" fill-opacity="0.5"/><circle cx="196.43" cy="157.97" r="0.55" fill="#3a60c4" fill-opacity="0.5"/><circle cx="194.68" cy="155.73" r="0.55" fill="#3a60c4" fill-opacity="0.5"/><circle cx="192.64" cy="157.57" r="0.55" fill="#3a60c4" fill-opacity="0.5"/><circle cx="191.41" cy="148.57" r="0.55" fill="#3a60c4" fill-opacity="0.5"/><circle cx="197.59" cy="148.00" r="0.55" fill="#3a60c4" fill-opacity="0.5"/><circle cx="197.51" cy="147.74" r="0.55" fill="#3a60c4" fill-opacity="0.5"/><circle cx="194.50" cy="145.97" r="0.55" fill="#3a60c4" fill-opacity="0.5"/><circle cx="194.34" cy="147.48" r="0.55" fill="#3a60c4" fill-opacity="0.5"/><circle cx="198.12" cy="150.20" r="0.55" fill="#3a60c4" fill-opacity="0.5"/><circle cx="197.74" cy="147.86" r="0.55" fill="#3a60c4" fill-opacity="0.5"/><circle cx="195.31" cy="154.73" r="0.55" fill="#3a60c4" fill-opacity="0.5"/><circle cx="197.07" cy="153.89" r="0.55" fill="#3a60c4" fill-opacity="0.5"/><circle cx="195.54" cy="157.34" r="0.55" fill="#3a60c4" fill-opacity="0.5"/><circle cx="194.70" cy="153.56" r="0.55" fill="#3a60c4" fill-opacity="0.5"/><circle cx="196.57" cy="147.63" r="0.55" fill="#3a60c4" fill-opacity="0.5"/><circle cx="194.47" cy="152.02" r="0.55" fill="#3a60c4" fill-opacity="0.5"/><circle cx="196.51" cy="159.40" r="0.55" fill="#3a60c4" fill-opacity="0.5"/><circle cx="194.83" cy="155.32" r="0.55" fill="#3a60c4" fill-opacity="0.5"/><circle cx="194.41" cy="158.20" r="0.55" fill="#3a60c4" fill-opacity="0.5"/><circle cx="194.18" cy="157.65" r="0.55" fill="#3a60c4" fill-opacity="0.5"/><circle cx="196.23" cy="149.62" r="0.55" fill="#3a60c4" fill-opacity="0.5"/><circle cx="197.20" cy="149.43" r="0.55" fill="#3a60c4" fill-opacity="0.5"/><circle cx="196.18" cy="154.19" r="0.55" fill="#3a60c4" fill-opacity="0.5"/><circle cx="193.58" cy="152.66" r="0.55" fill="#3a60c4" fill-opacity="0.5"/><circle cx="196.56" cy="154.93" r="0.55" fill="#3a60c4" fill-opacity="0.5"/><circle cx="193.52" cy="157.78" r="0.55" fill="#3a60c4" fill-opacity="0.5"/><circle cx="193.07" cy="150.11" r="0.55" fill="#3a60c4" fill-opacity="0.5"/><circle cx="194.92" cy="158.65" r="0.55" fill="#3a60c4" fill-opacity="0.5"/><circle cx="196.95" cy="159.31" r="0.55" fill="#3a60c4" fill-opacity="0.5"/><circle cx="196.71" cy="147.42" r="0.55" fill="#3a60c4" fill-opacity="0.5"/><circle cx="196.45" cy="154.99" r="0.55" fill="#3a60c4" fill-opacity="0.5"/><circle cx="198.09" cy="158.45" r="0.55" fill="#3a60c4" fill-opacity="0.5"/><circle cx="197.07" cy="147.80" r="0.55" fill="#3a60c4" fill-opacity="0.5"/><circle cx="194.63" cy="155.05" r="0.55" fill="#3a60c4" fill-opacity="0.5"/><circle cx="196.92" cy="155.50" r="0.55" fill="#3a60c4" fill-opacity="0.5"/><circle cx="194.82" cy="155.90" r="0.55" fill="#3a60c4" fill-opacity="0.5"/><circle cx="196.15" cy="146.59" r="0.55" fill="#3a60c4" fill-opacity="0.5"/><circle cx="196.55" cy="146.48" r="0.55" fill="#3a60c4" fill-opacity="0.5"/><circle cx="195.23" cy="158.61" r="0.55" fill="#3a60c4" fill-opacity="0.5"/><circle cx="192.41" cy="145.69" r="0.55" fill="#3a60c4" fill-opacity="0.5"/><circle cx="195.10" cy="150.38" r="0.55" fill="#3a60c4" fill-opacity="0.5"/><circle cx="194.78" cy="151.48" r="0.55" fill="#3a60c4" fill-opacity="0.5"/><circle cx="195.18" cy="159.91" r="0.55" fill="#3a60c4" fill-opacity="0.5"/><circle cx="194.56" cy="153.05" r="0.55" fill="#3a60c4" fill-opacity="0.5"/><circle cx="193.16" cy="159.44" r="0.55" fill="#3a60c4" fill-opacity="0.5"/><circle cx="192.21" cy="152.82" r="0.55" fill="#3a60c4" fill-opacity="0.5"/><circle cx="196.74" cy="158.44" r="0.55" fill="#3a60c4" fill-opacity="0.5"/><circle cx="197.00" cy="145.80" r="0.55" fill="#3a60c4" fill-opacity="0.5"/><circle cx="196.18" cy="157.90" r="0.55" fill="#3a60c4" fill-opacity="0.5"/><circle cx="195.34" cy="157.60" r="0.55" fill="#3a60c4" fill-opacity="0.5"/><circle cx="199.34" cy="151.11" r="0.55" fill="#3a60c4" fill-opacity="0.5"/><circle cx="196.77" cy="159.03" r="0.55" fill="#3a60c4" fill-opacity="0.5"/><circle cx="195.48" cy="148.56" r="0.55" fill="#3a60c4" fill-opacity="0.5"/><circle cx="197.10" cy="147.42" r="0.55" fill="#3a60c4" fill-opacity="0.5"/><circle cx="195.31" cy="155.98" r="0.55" fill="#3a60c4" fill-opacity="0.5"/><circle cx="196.85" cy="145.89" r="0.55" fill="#3a60c4" fill-opacity="0.5"/><circle cx="196.02" cy="149.91" r="0.55" fill="#3a60c4" fill-opacity="0.5"/><circle cx="196.53" cy="159.91" r="0.55" fill="#3a60c4" fill-opacity="0.5"/><circle cx="195.59" cy="155.16" r="0.55" fill="#3a60c4" fill-opacity="0.5"/><circle cx="194.57" cy="156.92" r="0.55" fill="#3a60c4" fill-opacity="0.5"/><circle cx="196.49" cy="150.80" r="0.55" fill="#3a60c4" fill-opacity="0.5"/><circle cx="197.71" cy="151.28" r="0.55" fill="#3a60c4" fill-opacity="0.5"/><circle cx="193.67" cy="158.45" r="0.55" fill="#3a60c4" fill-opacity="0.5"/><circle cx="194.43" cy="155.76" r="0.55" fill="#3a60c4" fill-opacity="0.5"/><circle cx="193.32" cy="149.33" r="0.55" fill="#3a60c4" fill-opacity="0.5"/><circle cx="197.23" cy="151.51" r="0.55" fill="#3a60c4" fill-opacity="0.5"/><circle cx="195.06" cy="150.88" r="0.55" fill="#3a60c4" fill-opacity="0.5"/><circle cx="197.26" cy="159.67" r="0.55" fill="#3a60c4" fill-opacity="0.5"/><circle cx="193.93" cy="154.42" r="0.55" fill="#3a60c4" fill-opacity="0.5"/><circle cx="197.14" cy="154.02" r="0.55" fill="#3a60c4" fill-opacity="0.5"/><circle cx="194.36" cy="149.43" r="0.55" fill="#3a60c4" fill-opacity="0.5"/><circle cx="194.59" cy="148.51" r="0.55" fill="#3a60c4" fill-opacity="0.5"/><circle cx="196.58" cy="152.63" r="0.55" fill="#3a60c4" fill-opacity="0.5"/><circle cx="194.74" cy="148.15" r="0.55" fill="#3a60c4" fill-opacity="0.5"/><circle cx="194.33" cy="155.41" r="0.55" fill="#3a60c4" fill-opacity="0.5"/><circle cx="197.28" cy="151.52" r="0.55" fill="#3a60c4" fill-opacity="0.5"/><circle cx="195.38" cy="152.29" r="0.55" fill="#3a60c4" fill-opacity="0.5"/><circle cx="197.98" cy="147.30" r="0.55" fill="#3a60c4" fill-opacity="0.5"/><circle cx="194.40" cy="158.04" r="0.55" fill="#3a60c4" fill-opacity="0.5"/><circle cx="194.84" cy="154.10" r="0.55" fill="#3a60c4" fill-opacity="0.5"/><circle cx="192.50" cy="155.54" r="0.55" fill="#3a60c4" fill-opacity="0.5"/><circle cx="193.18" cy="148.35" r="0.55" fill="#3a60c4" fill-opacity="0.5"/><circle cx="196.71" cy="146.98" r="0.55" fill="#3a60c4" fill-opacity="0.5"/><circle cx="196.12" cy="157.72" r="0.55" fill="#3a60c4" fill-opacity="0.5"/><circle cx="196.07" cy="150.40" r="0.55" fill="#3a60c4" fill-opacity="0.5"/><circle cx="196.43" cy="151.22" r="0.55" fill="#3a60c4" fill-opacity="0.5"/><circle cx="193.85" cy="151.75" r="0.55" fill="#3a60c4" fill-opacity="0.5"/><circle cx="192.18" cy="159.54" r="0.55" fill="#3a60c4" fill-opacity="0.5"/><circle cx="197.67" cy="158.64" r="0.55" fill="#3a60c4" fill-opacity="0.5"/><circle cx="196.02" cy="153.62" r="0.55" fill="#3a60c4" fill-opacity="0.5"/><circle cx="197.77" cy="150.60" r="0.55" fill="#3a60c4" fill-opacity="0.5"/><circle cx="195.47" cy="145.49" r="0.55" fill="#3a60c4" fill-opacity="0.5"/><circle cx="197.03" cy="153.16" r="0.55" fill="#3a60c4" fill-opacity="0.5"/><circle cx="194.49" cy="157.52" r="0.55" fill="#3a60c4" fill-opacity="0.5"/><circle cx="195.52" cy="158.78" r="0.55" fill="#3a60c4" fill-opacity="0.5"/><circle cx="195.21" cy="148.54" r="0.55" fill="#3a60c4" fill-opacity="0.5"/><circle cx="196.27" cy="154.26" r="0.55" fill="#3a60c4" fill-opacity="0.5"/><circle cx="198.30" cy="149.52" r="0.55" fill="#3a60c4" fill-opacity="0.5"/><circle cx="196.81" cy="151.87" r="0.55" fill="#3a60c4" fill-opacity="0.5"/><circle cx="195.33" cy="147.76" r="0.55" fill="#3a60c4" fill-opacity="0.5"/><circle cx="195.55" cy="159.18" r="0.55" fill="#3a60c4" fill-opacity="0.5"/><circle cx="197.13" cy="145.76" r="0.55" fill="#3a60c4" fill-opacity="0.5"/><circle cx="195.82" cy="145.83" r="0.55" fill="#3a60c4" fill-opacity="0.5"/><circle cx="194.15" cy="150.48" r="0.55" fill="#3a60c4" fill-opacity="0.5"/><circle cx="193.98" cy="157.08" r="0.55" fill="#3a60c4" fill-opacity="0.5"/><circle cx="194.87" cy="156.33" r="0.55" fill="#3a60c4" fill-opacity="0.5"/><circle cx="194.14" cy="157.76" r="0.55" fill="#3a60c4" fill-opacity="0.5"/><circle cx="198.36" cy="157.02" r="0.55" fill="#3a60c4" fill-opacity="0.5"/><circle cx="196.73" cy="151.51" r="0.55" fill="#3a60c4" fill-opacity="0.5"/><circle cx="195.65" cy="151.81" r="0.55" fill="#3a60c4" fill-opacity="0.5"/><circle cx="197.46" cy="152.20" r="0.55" fill="#3a60c4" fill-opacity="0.5"/><circle cx="199.81" cy="152.19" r="0.55" fill="#3a60c4" fill-opacity="0.5"/><circle cx="195.13" cy="157.56" r="0.55" fill="#3a60c4" fill-opacity="0.5"/><circle cx="195.49" cy="148.59" r="0.55" fill="#3a60c4" fill-opacity="0.5"/><circle cx="194.96" cy="147.64" r="0.55" fill="#3a60c4" fill-opacity="0.5"/><circle cx="193.12" cy="157.32" r="0.55" fill="#3a60c4" fill-opacity="0.5"/><circle cx="194.30" cy="148.66" r="0.55" fill="#3a60c4" fill-opacity="0.5"/><circle cx="193.70" cy="156.05" r="0.55" fill="#3a60c4" fill-opacity="0.5"/><circle cx="196.50" cy="149.65" r="0.55" fill="#3a60c4" fill-opacity="0.5"/><circle cx="196.44" cy="155.77" r="0.55" fill="#3a60c4" fill-opacity="0.5"/><circle cx="197.28" cy="158.28" r="0.55" fill="#3a60c4" fill-opacity="0.5"/><circle cx="194.02" cy="155.72" r="0.55" fill="#3a60c4" fill-opacity="0.5"/><circle cx="197.52" cy="156.83" r="0.55" fill="#3a60c4" fill-opacity="0.5"/><circle cx="193.63" cy="154.57" r="0.55" fill="#3a60c4" fill-opacity="0.5"/><circle cx="195.20" cy="159.74" r="0.55" fill="#3a60c4" fill-opacity="0.5"/><circle cx="198.11" cy="156.04" r="0.55" fill="#3a60c4" fill-opacity="0.5"/><circle cx="198.00" cy="157.44" r="0.55" fill="#3a60c4" fill-opacity="0.5"/><circle cx="197.71" cy="156.08" r="0.55" fill="#3a60c4" fill-opacity="0.5"/><circle cx="199.73" cy="148.49" r="0.55" fill="#3a60c4" fill-opacity="0.5"/><circle cx="197.64" cy="150.91" r="0.55" fill="#3a60c4" fill-opacity="0.5"/><circle cx="195.08" cy="152.60" r="0.55" fill="#3a60c4" fill-opacity="0.5"/><circle cx="195.14" cy="156.30" r="0.55" fill="#3a60c4" fill-opacity="0.5"/><circle cx="194.05" cy="152.35" r="0.55" fill="#3a60c4" fill-opacity="0.5"/><circle cx="196.05" cy="157.99" r="0.55" fill="#3a60c4" fill-opacity="0.5"/><circle cx="194.09" cy="151.03" r="0.55" fill="#3a60c4" fill-opacity="0.5"/><circle cx="194.36" cy="152.39" r="0.55" fill="#3a60c4" fill-opacity="0.5"/><circle cx="193.64" cy="146.06" r="0.55" fill="#3a60c4" fill-opacity="0.5"/><circle cx="192.24" cy="157.73" r="0.55" fill="#3a60c4" fill-opacity="0.5"/><circle cx="200.50" cy="159.51" r="0.55" fill="#3a60c4" fill-opacity="0.5"/><circle cx="197.35" cy="148.39" r="0.55" fill="#3a60c4" fill-opacity="0.5"/><circle cx="191.48" cy="158.93" r="0.55" fill="#3a60c4" fill-opacity="0.5"/><circle cx="196.47" cy="153.85" r="0.55" fill="#3a60c4" fill-opacity="0.5"/><circle cx="194.48" cy="149.06" r="0.55" fill="#3a60c4" fill-opacity="0.5"/><circle cx="191.36" cy="151.54" r="0.55" fill="#3a60c4" fill-opacity="0.5"/><circle cx="195.17" cy="158.07" r="0.55" fill="#3a60c4" fill-opacity="0.5"/><circle cx="196.01" cy="149.57" r="0.55" fill="#3a60c4" fill-opacity="0.5"/><circle cx="196.74" cy="157.46" r="0.55" fill="#3a60c4" fill-opacity="0.5"/><circle cx="197.78" cy="153.33" r="0.55" fill="#3a60c4" fill-opacity="0.5"/><circle cx="193.91" cy="157.60" r="0.55" fill="#3a60c4" fill-opacity="0.5"/><circle cx="195.49" cy="147.61" r="0.55" fill="#3a60c4" fill-opacity="0.5"/><circle cx="196.91" cy="158.30" r="0.55" fill="#3a60c4" fill-opacity="0.5"/><circle cx="196.67" cy="150.52" r="0.55" fill="#3a60c4" fill-opacity="0.5"/><circle cx="196.37" cy="145.61" r="0.55" fill="#3a60c4" fill-opacity="0.5"/><circle cx="195.79" cy="151.49" r="0.55" fill="#3a60c4" fill-opacity="0.5"/><circle cx="198.04" cy="150.24" r="0.55" fill="#3a60c4" fill-opacity="0.5"/><circle cx="193.11" cy="146.35" r="0.55" fill="#3a60c4" fill-opacity="0.5"/><circle cx="192.65" cy="150.14" r="0.55" fill="#3a60c4" fill-opacity="0.5"/><circle cx="199.05" cy="156.93" r="0.55" fill="#3a60c4" fill-opacity="0.5"/><circle cx="196.44" cy="154.63" r="0.55" fill="#3a60c4" fill-opacity="0.5"/><circle cx="197.81" cy="152.95" r="0.55" fill="#3a60c4" fill-opacity="0.5"/><circle cx="196.06" cy="148.82" r="0.55" fill="#3a60c4" fill-opacity="0.5"/><circle cx="194.90" cy="148.66" r="0.55" fill="#3a60c4" fill-opacity="0.5"/><circle cx="194.72" cy="158.02" r="0.55" fill="#3a60c4" fill-opacity="0.5"/><circle cx="195.90" cy="145.33" r="0.55" fill="#3a60c4" fill-opacity="0.5"/><circle cx="194.70" cy="147.28" r="0.55" fill="#3a60c4" fill-opacity="0.5"/><circle cx="195.50" cy="154.56" r="0.55" fill="#3a60c4" fill-opacity="0.5"/><circle cx="195.48" cy="159.92" r="0.55" fill="#3a60c4" fill-opacity="0.5"/><circle cx="197.26" cy="145.57" r="0.55" fill="#3a60c4" fill-opacity="0.5"/><circle cx="197.22" cy="146.80" r="0.55" fill="#3a60c4" fill-opacity="0.5"/><circle cx="198.81" cy="157.41" r="0.55" fill="#3a60c4" fill-opacity="0.5"/><circle cx="194.25" cy="151.94" r="0.55" fill="#3a60c4" fill-opacity="0.5"/><circle cx="195.58" cy="156.75" r="0.55" fill="#3a60c4" fill-opacity="0.5"/><circle cx="197.57" cy="155.05" r="0.55" fill="#3a60c4" fill-opacity="0.5"/><circle cx="196.37" cy="152.17" r="0.55" fill="#3a60c4" fill-opacity="0.5"/><circle cx="196.40" cy="151.66" r="0.55" fill="#3a60c4" fill-opacity="0.5"/><circle cx="195.67" cy="153.62" r="0.55" fill="#3a60c4" fill-opacity="0.5"/><circle cx="194.76" cy="151.67" r="0.55" fill="#3a60c4" fill-opacity="0.5"/><circle cx="194.88" cy="147.71" r="0.55" fill="#3a60c4" fill-opacity="0.5"/><circle cx="194.28" cy="155.01" r="0.55" fill="#3a60c4" fill-opacity="0.5"/><circle cx="198.01" cy="150.44" r="0.55" fill="#3a60c4" fill-opacity="0.5"/><circle cx="197.07" cy="145.28" r="0.55" fill="#3a60c4" fill-opacity="0.5"/><circle cx="196.14" cy="151.93" r="0.55" fill="#3a60c4" fill-opacity="0.5"/><circle cx="197.93" cy="151.31" r="0.55" fill="#3a60c4" fill-opacity="0.5"/><circle cx="197.58" cy="147.02" r="0.55" fill="#3a60c4" fill-opacity="0.5"/><circle cx="194.11" cy="152.10" r="0.55" fill="#3a60c4" fill-opacity="0.5"/><circle cx="193.67" cy="145.52" r="0.55" fill="#3a60c4" fill-opacity="0.5"/><circle cx="193.75" cy="151.15" r="0.55" fill="#3a60c4" fill-opacity="0.5"/><circle cx="197.24" cy="148.55" r="0.55" fill="#3a60c4" fill-opacity="0.5"/><circle cx="195.73" cy="146.07" r="0.55" fill="#3a60c4" fill-opacity="0.5"/><circle cx="198.16" cy="147.01" r="0.55" fill="#3a60c4" fill-opacity="0.5"/><circle cx="196.80" cy="151.80" r="0.55" fill="#3a60c4" fill-opacity="0.5"/><circle cx="195.38" cy="156.30" r="0.55" fill="#3a60c4" fill-opacity="0.5"/><circle cx="193.31" cy="157.46" r="0.55" fill="#3a60c4" fill-opacity="0.5"/><circle cx="195.27" cy="145.82" r="0.55" fill="#3a60c4" fill-opacity="0.5"/><circle cx="200.19" cy="153.47" r="0.55" fill="#3a60c4" fill-opacity="0.5"/><circle cx="194.44" cy="146.02" r="0.55" fill="#3a60c4" fill-opacity="0.5"/><circle cx="194.18" cy="147.43" r="0.55" fill="#3a60c4" fill-opacity="0.5"/><circle cx="195.37" cy="157.71" r="0.55" fill="#3a60c4" fill-opacity="0.5"/><circle cx="198.48" cy="147.77" r="0.55" fill="#3a60c4" fill-opacity="0.5"/><circle cx="195.72" cy="150.37" r="0.55" fill="#3a60c4" fill-opacity="0.5"/><circle cx="193.63" cy="158.10" r="0.55" fill="#3a60c4" fill-opacity="0.5"/><circle cx="194.60" cy="145.64" r="0.55" fill="#3a60c4" fill-opacity="0.5"/><circle cx="195.54" cy="153.97" r="0.55" fill="#3a60c4" fill-opacity="0.5"/><circle cx="195.96" cy="147.13" r="0.55" fill="#3a60c4" fill-opacity="0.5"/><circle cx="197.81" cy="152.00" r="0.55" fill="#3a60c4" fill-opacity="0.5"/><circle cx="198.49" cy="152.54" r="0.55" fill="#3a60c4" fill-opacity="0.5"/><circle cx="197.06" cy="154.60" r="0.55" fill="#3a60c4" fill-opacity="0.5"/><circle cx="195.76" cy="150.65" r="0.55" fill="#3a60c4" fill-opacity="0.5"/><circle cx="194.23" cy="151.70" r="0.55" fill="#3a60c4" fill-opacity="0.5"/><circle cx="196.94" cy="159.81" r="0.55" fill="#3a60c4" fill-opacity="0.5"/><circle cx="198.32" cy="156.48" r="0.55" fill="#3a60c4" fill-opacity="0.5"/><circle cx="197.43" cy="158.98" r="0.55" fill="#3a60c4" fill-opacity="0.5"/><circle cx="195.55" cy="151.98" r="0.55" fill="#3a60c4" fill-opacity="0.5"/><circle cx="197.12" cy="146.36" r="0.55" fill="#3a60c4" fill-opacity="0.5"/><circle cx="195.37" cy="150.96" r="0.55" fill="#3a60c4" fill-opacity="0.5"/><circle cx="195.49" cy="147.51" r="0.55" fill="#3a60c4" fill-opacity="0.5"/><circle cx="195.35" cy="146.06" r="0.55" fill="#3a60c4" fill-opacity="0.5"/><circle cx="195.95" cy="158.31" r="0.55" fill="#3a60c4" fill-opacity="0.5"/><circle cx="195.64" cy="151.29" r="0.55" fill="#3a60c4" fill-opacity="0.5"/><circle cx="197.78" cy="148.99" r="0.55" fill="#3a60c4" fill-opacity="0.5"/><circle cx="195.79" cy="150.75" r="0.55" fill="#3a60c4" fill-opacity="0.5"/><circle cx="195.60" cy="146.70" r="0.55" fill="#3a60c4" fill-opacity="0.5"/><circle cx="197.83" cy="147.28" r="0.55" fill="#3a60c4" fill-opacity="0.5"/><circle cx="197.13" cy="154.67" r="0.55" fill="#3a60c4" fill-opacity="0.5"/><circle cx="197.99" cy="154.27" r="0.55" fill="#3a60c4" fill-opacity="0.5"/><circle cx="194.28" cy="145.99" r="0.55" fill="#3a60c4" fill-opacity="0.5"/><circle cx="198.34" cy="145.68" r="0.55" fill="#3a60c4" fill-opacity="0.5"/><circle cx="195.75" cy="156.52" r="0.55" fill="#3a60c4" fill-opacity="0.5"/><circle cx="193.70" cy="151.81" r="0.55" fill="#3a60c4" fill-opacity="0.5"/><circle cx="195.45" cy="150.92" r="0.55" fill="#3a60c4" fill-opacity="0.5"/><circle cx="193.34" cy="146.06" r="0.55" fill="#3a60c4" fill-opacity="0.5"/><circle cx="193.79" cy="157.37" r="0.55" fill="#3a60c4" fill-opacity="0.5"/><circle cx="194.93" cy="151.97" r="0.55" fill="#3a60c4" fill-opacity="0.5"/><circle cx="197.60" cy="149.30" r="0.55" fill="#3a60c4" fill-opacity="0.5"/><circle cx="193.11" cy="145.22" r="0.55" fill="#3a60c4" fill-opacity="0.5"/><circle cx="196.28" cy="151.49" r="0.55" fill="#3a60c4" fill-opacity="0.5"/><circle cx="195.21" cy="157.14" r="0.55" fill="#3a60c4" fill-opacity="0.5"/><circle cx="198.76" cy="159.74" r="0.55" fill="#3a60c4" fill-opacity="0.5"/><circle cx="196.09" cy="149.54" r="0.55" fill="#3a60c4" fill-opacity="0.5"/><circle cx="196.89" cy="150.68" r="0.55" fill="#3a60c4" fill-opacity="0.5"/><circle cx="198.45" cy="145.68" r="0.55" fill="#3a60c4" fill-opacity="0.5"/><circle cx="193.57" cy="151.58" r="0.55" fill="#3a60c4" fill-opacity="0.5"/><circle cx="195.04" cy="146.83" r="0.55" fill="#3a60c4" fill-opacity="0.5"/><circle cx="192.79" cy="154.05" r="0.55" fill="#3a60c4" fill-opacity="0.5"/><circle cx="194.05" cy="151.85" r="0.55" fill="#3a60c4" fill-opacity="0.5"/><circle cx="196.32" cy="147.91" r="0.55" fill="#3a60c4" fill-opacity="0.5"/><circle cx="195.36" cy="149.93" r="0.55" fill="#3a60c4" fill-opacity="0.5"/><circle cx="196.47" cy="147.51" r="0.55" fill="#3a60c4" fill-opacity="0.5"/><circle cx="194.89" cy="153.37" r="0.55" fill="#3a60c4" fill-opacity="0.5"/><circle cx="194.32" cy="145.34" r="0.55" fill="#3a60c4" fill-opacity="0.5"/><circle cx="195.39" cy="147.37" r="0.55" fill="#3a60c4" fill-opacity="0.5"/><circle cx="193.94" cy="146.05" r="0.55" fill="#3a60c4" fill-opacity="0.5"/><circle cx="193.48" cy="158.81" r="0.55" fill="#3a60c4" fill-opacity="0.5"/><circle cx="192.54" cy="158.78" r="0.55" fill="#3a60c4" fill-opacity="0.5"/><circle cx="195.37" cy="153.61" r="0.55" fill="#3a60c4" fill-opacity="0.5"/><circle cx="196.46" cy="148.56" r="0.55" fill="#3a60c4" fill-opacity="0.5"/><circle cx="193.21" cy="153.34" r="0.55" fill="#3a60c4" fill-opacity="0.5"/><circle cx="194.67" cy="149.71" r="0.55" fill="#3a60c4" fill-opacity="0.5"/><circle cx="191.10" cy="149.53" r="0.55" fill="#3a60c4" fill-opacity="0.5"/><circle cx="193.23" cy="151.99" r="0.55" fill="#3a60c4" fill-opacity="0.5"/><circle cx="195.66" cy="158.33" r="0.55" fill="#3a60c4" fill-opacity="0.5"/><circle cx="193.00" cy="152.73" r="0.55" fill="#3a60c4" fill-opacity="0.5"/><circle cx="196.36" cy="159.14" r="0.55" fill="#3a60c4" fill-opacity="0.5"/><circle cx="194.73" cy="153.43" r="0.55" fill="#3a60c4" fill-opacity="0.5"/><circle cx="196.22" cy="145.69" r="0.55" fill="#3a60c4" fill-opacity="0.5"/><circle cx="194.42" cy="159.15" r="0.55" fill="#3a60c4" fill-opacity="0.5"/><circle cx="192.73" cy="152.92" r="0.55" fill="#3a60c4" fill-opacity="0.5"/><circle cx="195.45" cy="157.82" r="0.55" fill="#3a60c4" fill-opacity="0.5"/><circle cx="196.88" cy="159.95" r="0.55" fill="#3a60c4" fill-opacity="0.5"/><circle cx="194.47" cy="147.57" r="0.55" fill="#3a60c4" fill-opacity="0.5"/><circle cx="196.23" cy="154.92" r="0.55" fill="#3a60c4" fill-opacity="0.5"/><circle cx="194.11" cy="153.68" r="0.55" fill="#3a60c4" fill-opacity="0.5"/><circle cx="194.81" cy="145.55" r="0.55" fill="#3a60c4" fill-opacity="0.5"/><circle cx="197.89" cy="154.95" r="0.55" fill="#3a60c4" fill-opacity="0.5"/><circle cx="195.43" cy="155.93" r="0.55" fill="#3a60c4" fill-opacity="0.5"/><circle cx="193.66" cy="149.12" r="0.55" fill="#3a60c4" fill-opacity="0.5"/><circle cx="196.54" cy="150.96" r="0.55" fill="#3a60c4" fill-opacity="0.5"/><circle cx="195.57" cy="152.90" r="0.55" fill="#3a60c4" fill-opacity="0.5"/><circle cx="194.45" cy="146.06" r="0.55" fill="#3a60c4" fill-opacity="0.5"/><circle cx="196.82" cy="158.40" r="0.55" fill="#3a60c4" fill-opacity="0.5"/><circle cx="196.59" cy="150.11" r="0.55" fill="#3a60c4" fill-opacity="0.5"/><circle cx="199.16" cy="154.27" r="0.55" fill="#3a60c4" fill-opacity="0.5"/><circle cx="196.06" cy="154.25" r="0.55" fill="#3a60c4" fill-opacity="0.5"/><circle cx="191.83" cy="158.01" r="0.55" fill="#3a60c4" fill-opacity="0.5"/><circle cx="198.12" cy="148.13" r="0.55" fill="#3a60c4" fill-opacity="0.5"/><circle cx="200.36" cy="155.09" r="0.55" fill="#3a60c4" fill-opacity="0.5"/><circle cx="196.61" cy="147.11" r="0.55" fill="#3a60c4" fill-opacity="0.5"/><circle cx="193.44" cy="155.59" r="0.55" fill="#3a60c4" fill-opacity="0.5"/><circle cx="194.20" cy="153.62" r="0.55" fill="#3a60c4" fill-opacity="0.5"/><circle cx="195.25" cy="158.14" r="0.55" fill="#3a60c4" fill-opacity="0.5"/><circle cx="195.88" cy="157.91" r="0.55" fill="#3a60c4" fill-opacity="0.5"/><circle cx="197.79" cy="145.25" r="0.55" fill="#3a60c4" fill-opacity="0.5"/><circle cx="196.61" cy="148.78" r="0.55" fill="#3a60c4" fill-opacity="0.5"/><circle cx="191.16" cy="154.25" r="0.55" fill="#3a60c4" fill-opacity="0.5"/><circle cx="194.93" cy="150.29" r="0.55" fill="#3a60c4" fill-opacity="0.5"/><circle cx="195.24" cy="145.56" r="0.55" fill="#3a60c4" fill-opacity="0.5"/><circle cx="199.12" cy="157.67" r="0.55" fill="#3a60c4" fill-opacity="0.5"/><circle cx="194.40" cy="159.42" r="0.55" fill="#3a60c4" fill-opacity="0.5"/><circle cx="192.83" cy="148.09" r="0.55" fill="#3a60c4" fill-opacity="0.5"/><circle cx="194.93" cy="148.15" r="0.55" fill="#3a60c4" fill-opacity="0.5"/><circle cx="196.05" cy="156.24" r="0.55" fill="#3a60c4" fill-opacity="0.5"/><circle cx="191.96" cy="151.43" r="0.55" fill="#3a60c4" fill-opacity="0.5"/><circle cx="197.63" cy="159.56" r="0.55" fill="#3a60c4" fill-opacity="0.5"/><circle cx="195.26" cy="150.56" r="0.55" fill="#3a60c4" fill-opacity="0.5"/><circle cx="197.12" cy="153.32" r="0.55" fill="#3a60c4" fill-opacity="0.5"/><circle cx="196.86" cy="156.29" r="0.55" fill="#3a60c4" fill-opacity="0.5"/><circle cx="196.56" cy="151.78" r="0.55" fill="#3a60c4" fill-opacity="0.5"/><circle cx="198.24" cy="158.46" r="0.55" fill="#3a60c4" fill-opacity="0.5"/><circle cx="198.76" cy="150.75" r="0.55" fill="#3a60c4" fill-opacity="0.5"/><circle cx="194.74" cy="151.25" r="0.55" fill="#3a60c4" fill-opacity="0.5"/><circle cx="195.40" cy="158.70" r="0.55" fill="#3a60c4" fill-opacity="0.5"/><circle cx="197.55" cy="149.87" r="0.55" fill="#3a60c4" fill-opacity="0.5"/><circle cx="195.85" cy="159.82" r="0.55" fill="#3a60c4" fill-opacity="0.5"/><circle cx="194.38" cy="157.52" r="0.55" fill="#3a60c4" fill-opacity="0.5"/><circle cx="195.73" cy="145.68" r="0.55" fill="#3a60c4" fill-opacity="0.5"/><circle cx="193.89" cy="158.96" r="0.55" fill="#3a60c4" fill-opacity="0.5"/><circle cx="194.57" cy="147.31" r="0.55" fill="#3a60c4" fill-opacity="0.5"/><circle cx="195.81" cy="155.77" r="0.55" fill="#3a60c4" fill-opacity="0.5"/><circle cx="199.12" cy="153.57" r="0.55" fill="#3a60c4" fill-opacity="0.5"/><circle cx="196.97" cy="159.66" r="0.55" fill="#3a60c4" fill-opacity="0.5"/><circle cx="196.90" cy="154.99" r="0.55" fill="#3a60c4" fill-opacity="0.5"/><circle cx="195.91" cy="151.19" r="0.55" fill="#3a60c4" fill-opacity="0.5"/><circle cx="194.09" cy="151.55" r="0.55" fill="#3a60c4" fill-opacity="0.5"/><circle cx="196.53" cy="153.98" r="0.55" fill="#3a60c4" fill-opacity="0.5"/><circle cx="195.68" cy="152.25" r="0.55" fill="#3a60c4" fill-opacity="0.5"/><circle cx="195.31" cy="152.48" r="0.55" fill="#3a60c4" fill-opacity="0.5"/><circle cx="196.05" cy="159.34" r="0.55" fill="#3a60c4" fill-opacity="0.5"/><circle cx="194.47" cy="154.39" r="0.55" fill="#3a60c4" fill-opacity="0.5"/><circle cx="195.83" cy="153.08" r="0.55" fill="#3a60c4" fill-opacity="0.5"/><circle cx="196.84" cy="158.00" r="0.55" fill="#3a60c4" fill-opacity="0.5"/><circle cx="197.52" cy="153.01" r="0.55" fill="#3a60c4" fill-opacity="0.5"/><circle cx="195.86" cy="152.29" r="0.55" fill="#3a60c4" fill-opacity="0.5"/><circle cx="197.17" cy="145.84" r="0.55" fill="#3a60c4" fill-opacity="0.5"/><circle cx="195.93" cy="159.22" r="0.55" fill="#3a60c4" fill-opacity="0.5"/><circle cx="191.18" cy="147.20" r="0.55" fill="#3a60c4" fill-opacity="0.5"/><circle cx="191.82" cy="151.36" r="0.55" fill="#3a60c4" fill-opacity="0.5"/><circle cx="195.19" cy="145.96" r="0.55" fill="#3a60c4" fill-opacity="0.5"/><circle cx="193.41" cy="153.09" r="0.55" fill="#3a60c4" fill-opacity="0.5"/><circle cx="196.69" cy="147.76" r="0.55" fill="#3a60c4" fill-opacity="0.5"/><circle cx="193.02" cy="153.96" r="0.55" fill="#3a60c4" fill-opacity="0.5"/><circle cx="194.78" cy="158.49" r="0.55" fill="#3a60c4" fill-opacity="0.5"/><circle cx="194.51" cy="146.70" r="0.55" fill="#3a60c4" fill-opacity="0.5"/><circle cx="194.14" cy="151.09" r="0.55" fill="#3a60c4" fill-opacity="0.5"/><circle cx="194.45" cy="158.84" r="0.55" fill="#3a60c4" fill-opacity="0.5"/><circle cx="195.53" cy="145.92" r="0.55" fill="#3a60c4" fill-opacity="0.5"/><circle cx="195.76" cy="149.12" r="0.55" fill="#3a60c4" fill-opacity="0.5"/><circle cx="194.55" cy="149.08" r="0.55" fill="#3a60c4" fill-opacity="0.5"/><circle cx="195.92" cy="158.02" r="0.55" fill="#3a60c4" fill-opacity="0.5"/><circle cx="196.63" cy="152.83" r="0.55" fill="#3a60c4" fill-opacity="0.5"/><circle cx="195.21" cy="158.54" r="0.55" fill="#3a60c4" fill-opacity="0.5"/><circle cx="194.25" cy="158.50" r="0.55" fill="#3a60c4" fill-opacity="0.5"/><circle cx="194.27" cy="155.77" r="0.55" fill="#3a60c4" fill-opacity="0.5"/><circle cx="194.66" cy="149.31" r="0.55" fill="#3a60c4" fill-opacity="0.5"/><circle cx="194.55" cy="157.20" r="0.55" fill="#3a60c4" fill-opacity="0.5"/><circle cx="195.75" cy="147.64" r="0.55" fill="#3a60c4" fill-opacity="0.5"/><circle cx="197.79" cy="158.90" r="0.55" fill="#3a60c4" fill-opacity="0.5"/><circle cx="195.67" cy="159.09" r="0.55" fill="#3a60c4" fill-opacity="0.5"/><circle cx="196.76" cy="155.86" r="0.55" fill="#3a60c4" fill-opacity="0.5"/><circle cx="196.76" cy="145.21" r="0.55" fill="#3a60c4" fill-opacity="0.5"/><circle cx="198.08" cy="153.25" r="0.55" fill="#3a60c4" fill-opacity="0.5"/><circle cx="198.39" cy="159.23" r="0.55" fill="#3a60c4" fill-opacity="0.5"/><circle cx="193.75" cy="157.99" r="0.55" fill="#3a60c4" fill-opacity="0.5"/><circle cx="199.98" cy="145.67" r="0.55" fill="#3a60c4" fill-opacity="0.5"/><circle cx="193.96" cy="147.81" r="0.55" fill="#3a60c4" fill-opacity="0.5"/><circle cx="195.82" cy="149.45" r="0.55" fill="#3a60c4" fill-opacity="0.5"/><circle cx="194.02" cy="152.48" r="0.55" fill="#3a60c4" fill-opacity="0.5"/><circle cx="192.33" cy="157.52" r="0.55" fill="#3a60c4" fill-opacity="0.5"/><circle cx="192.16" cy="156.38" r="0.55" fill="#3a60c4" fill-opacity="0.5"/><circle cx="199.50" cy="155.61" r="0.55" fill="#3a60c4" fill-opacity="0.5"/><circle cx="198.55" cy="153.64" r="0.55" fill="#3a60c4" fill-opacity="0.5"/><circle cx="193.74" cy="158.95" r="0.55" fill="#3a60c4" fill-opacity="0.5"/><circle cx="193.48" cy="153.17" r="0.55" fill="#3a60c4" fill-opacity="0.5"/><circle cx="198.57" cy="150.01" r="0.55" fill="#3a60c4" fill-opacity="0.5"/><circle cx="193.79" cy="153.26" r="0.55" fill="#3a60c4" fill-opacity="0.5"/><circle cx="196.56" cy="147.95" r="0.55" fill="#3a60c4" fill-opacity="0.5"/><circle cx="199.65" cy="153.17" r="0.55" fill="#3a60c4" fill-opacity="0.5"/><circle cx="197.16" cy="159.25" r="0.55" fill="#3a60c4" fill-opacity="0.5"/><circle cx="198.58" cy="146.67" r="0.55" fill="#3a60c4" fill-opacity="0.5"/><circle cx="196.11" cy="145.85" r="0.55" fill="#3a60c4" fill-opacity="0.5"/><circle cx="192.35" cy="148.83" r="0.55" fill="#3a60c4" fill-opacity="0.5"/><circle cx="194.08" cy="152.13" r="0.55" fill="#3a60c4" fill-opacity="0.5"/><circle cx="192.18" cy="148.30" r="0.55" fill="#3a60c4" fill-opacity="0.5"/><circle cx="196.29" cy="145.30" r="0.55" fill="#3a60c4" fill-opacity="0.5"/><circle cx="193.09" cy="147.14" r="0.55" fill="#3a60c4" fill-opacity="0.5"/><circle cx="195.90" cy="153.44" r="0.55" fill="#3a60c4" fill-opacity="0.5"/><circle cx="194.67" cy="149.52" r="0.55" fill="#3a60c4" fill-opacity="0.5"/><circle cx="194.29" cy="158.76" r="0.55" fill="#3a60c4" fill-opacity="0.5"/><circle cx="196.65" cy="153.84" r="0.55" fill="#3a60c4" fill-opacity="0.5"/><circle cx="194.72" cy="159.91" r="0.55" fill="#3a60c4" fill-opacity="0.5"/><circle cx="194.01" cy="151.29" r="0.55" fill="#3a60c4" fill-opacity="0.5"/><circle cx="197.59" cy="148.35" r="0.55" fill="#3a60c4" fill-opacity="0.5"/><circle cx="195.56" cy="155.99" r="0.55" fill="#3a60c4" fill-opacity="0.5"/><circle cx="192.74" cy="154.83" r="0.55" fill="#3a60c4" fill-opacity="0.5"/><circle cx="197.95" cy="155.49" r="0.55" fill="#3a60c4" fill-opacity="0.5"/><circle cx="192.85" cy="153.07" r="0.55" fill="#3a60c4" fill-opacity="0.5"/><circle cx="196.07" cy="156.98" r="0.55" fill="#3a60c4" fill-opacity="0.5"/><circle cx="196.65" cy="148.06" r="0.55" fill="#3a60c4" fill-opacity="0.5"/><circle cx="195.10" cy="158.73" r="0.55" fill="#3a60c4" fill-opacity="0.5"/><circle cx="193.99" cy="152.25" r="0.55" fill="#3a60c4" fill-opacity="0.5"/><circle cx="194.97" cy="157.19" r="0.55" fill="#3a60c4" fill-opacity="0.5"/><circle cx="194.92" cy="156.66" r="0.55" fill="#3a60c4" fill-opacity="0.5"/><circle cx="193.44" cy="156.14" r="0.55" fill="#3a60c4" fill-opacity="0.5"/><circle cx="197.28" cy="159.26" r="0.55" fill="#3a60c4" fill-opacity="0.5"/><circle cx="194.42" cy="156.45" r="0.55" fill="#3a60c4" fill-opacity="0.5"/><circle cx="194.18" cy="154.90" r="0.55" fill="#3a60c4" fill-opacity="0.5"/><circle cx="198.30" cy="154.07" r="0.55" fill="#3a60c4" fill-opacity="0.5"/><circle cx="194.15" cy="150.54" r="0.55" fill="#3a60c4" fill-opacity="0.5"/><circle cx="192.59" cy="155.72" r="0.55" fill="#3a60c4" fill-opacity="0.5"/><circle cx="195.46" cy="158.66" r="0.55" fill="#3a60c4" fill-opacity="0.5"/><circle cx="195.61" cy="145.64" r="0.55" fill="#3a60c4" fill-opacity="0.5"/><circle cx="195.66" cy="153.33" r="0.55" fill="#3a60c4" fill-opacity="0.5"/><circle cx="199.69" cy="152.08" r="0.55" fill="#3a60c4" fill-opacity="0.5"/><circle cx="194.50" cy="156.58" r="0.55" fill="#3a60c4" fill-opacity="0.5"/><circle cx="198.25" cy="149.71" r="0.55" fill="#3a60c4" fill-opacity="0.5"/><circle cx="197.34" cy="148.71" r="0.55" fill="#3a60c4" fill-opacity="0.5"/><circle cx="198.47" cy="157.82" r="0.55" fill="#3a60c4" fill-opacity="0.5"/><circle cx="195.42" cy="157.29" r="0.55" fill="#3a60c4" fill-opacity="0.5"/><circle cx="194.99" cy="148.57" r="0.55" fill="#3a60c4" fill-opacity="0.5"/><circle cx="195.22" cy="159.62" r="0.55" fill="#3a60c4" fill-opacity="0.5"/><circle cx="196.24" cy="147.50" r="0.55" fill="#3a60c4" fill-opacity="0.5"/><circle cx="197.53" cy="155.80" r="0.55" fill="#3a60c4" fill-opacity="0.5"/><circle cx="198.89" cy="147.00" r="0.55" fill="#3a60c4" fill-opacity="0.5"/><circle cx="192.16" cy="146.20" r="0.55" fill="#3a60c4" fill-opacity="0.5"/><circle cx="197.75" cy="147.26" r="0.55" fill="#3a60c4" fill-opacity="0.5"/><circle cx="196.38" cy="146.45" r="0.55" fill="#3a60c4" fill-opacity="0.5"/><circle cx="195.75" cy="149.46" r="0.55" fill="#3a60c4" fill-opacity="0.5"/><circle cx="193.61" cy="149.76" r="0.55" fill="#3a60c4" fill-opacity="0.5"/><circle cx="196.33" cy="149.08" r="0.55" fill="#3a60c4" fill-opacity="0.5"/><circle cx="192.08" cy="150.12" r="0.55" fill="#3a60c4" fill-opacity="0.5"/><circle cx="198.11" cy="158.67" r="0.55" fill="#3a60c4" fill-opacity="0.5"/><circle cx="193.82" cy="157.91" r="0.55" fill="#3a60c4" fill-opacity="0.5"/><circle cx="195.42" cy="149.08" r="0.55" fill="#3a60c4" fill-opacity="0.5"/><circle cx="195.33" cy="145.58" r="0.55" fill="#3a60c4" fill-opacity="0.5"/><circle cx="196.80" cy="157.55" r="0.55" fill="#3a60c4" fill-opacity="0.5"/><circle cx="193.04" cy="147.28" r="0.55" fill="#3a60c4" fill-opacity="0.5"/><circle cx="197.30" cy="159.63" r="0.55" fill="#3a60c4" fill-opacity="0.5"/><circle cx="196.48" cy="158.05" r="0.55" fill="#3a60c4" fill-opacity="0.5"/><circle cx="198.72" cy="149.74" r="0.55" fill="#3a60c4" fill-opacity="0.5"/><circle cx="196.26" cy="151.59" r="0.55" fill="#3a60c4" fill-opacity="0.5"/><circle cx="195.41" cy="152.66" r="0.55" fill="#3a60c4" fill-opacity="0.5"/><circle cx="191.93" cy="158.07" r="0.55" fill="#3a60c4" fill-opacity="0.5"/><circle cx="194.93" cy="145.66" r="0.55" fill="#3a60c4" fill-opacity="0.5"/><circle cx="198.91" cy="151.38" r="0.55" fill="#3a60c4" fill-opacity="0.5"/><circle cx="194.76" cy="146.83" r="0.55" fill="#3a60c4" fill-opacity="0.5"/><circle cx="194.68" cy="156.65" r="0.55" fill="#3a60c4" fill-opacity="0.5"/><circle cx="195.38" cy="145.98" r="0.55" fill="#3a60c4" fill-opacity="0.5"/><circle cx="197.34" cy="155.89" r="0.55" fill="#3a60c4" fill-opacity="0.5"/><circle cx="192.18" cy="156.88" r="0.55" fill="#3a60c4" fill-opacity="0.5"/><circle cx="199.23" cy="148.81" r="0.55" fill="#3a60c4" fill-opacity="0.5"/><circle cx="196.82" cy="157.29" r="0.55" fill="#3a60c4" fill-opacity="0.5"/><circle cx="197.08" cy="149.69" r="0.55" fill="#3a60c4" fill-opacity="0.5"/><circle cx="195.64" cy="150.70" r="0.55" fill="#3a60c4" fill-opacity="0.5"/><circle cx="199.55" cy="149.96" r="0.55" fill="#3a60c4" fill-opacity="0.5"/><circle cx="194.80" cy="156.32" r="0.55" fill="#3a60c4" fill-opacity="0.5"/><circle cx="197.27" cy="157.53" r="0.55" fill="#3a60c4" fill-opacity="0.5"/><circle cx="195.87" cy="153.70" r="0.55" fill="#3a60c4" fill-opacity="0.5"/><circle cx="193.17" cy="153.10" r="0.55" fill="#3a60c4" fill-opacity="0.5"/><circle cx="195.39" cy="159.73" r="0.55" fill="#3a60c4" fill-opacity="0.5"/><circle cx="197.07" cy="149.81" r="0.55" fill="#3a60c4" fill-opacity="0.5"/><circle cx="195.11" cy="157.00" r="0.55" fill="#3a60c4" fill-opacity="0.5"/><circle cx="194.86" cy="148.65" r="0.55" fill="#3a60c4" fill-opacity="0.5"/><circle cx="195.63" cy="152.21" r="0.55" fill="#3a60c4" fill-opacity="0.5"/><circle cx="193.95" cy="150.93" r="0.55" fill="#3a60c4" fill-opacity="0.5"/><circle cx="193.47" cy="147.81" r="0.55" fill="#3a60c4" fill-opacity="0.5"/><circle cx="195.80" cy="147.26" r="0.55" fill="#3a60c4" fill-opacity="0.5"/><circle cx="193.81" cy="154.86" r="0.55" fill="#3a60c4" fill-opacity="0.5"/><circle cx="196.79" cy="155.98" r="0.55" fill="#3a60c4" fill-opacity="0.5"/><circle cx="197.07" cy="145.42" r="0.55" fill="#3a60c4" fill-opacity="0.5"/><circle cx="198.21" cy="152.36" r="0.55" fill="#3a60c4" fill-opacity="0.5"/><circle cx="197.59" cy="154.24" r="0.55" fill="#3a60c4" fill-opacity="0.5"/><circle cx="195.12" cy="152.59" r="0.55" fill="#3a60c4" fill-opacity="0.5"/><circle cx="196.49" cy="150.75" r="0.55" fill="#3a60c4" fill-opacity="0.5"/><circle cx="193.40" cy="146.98" r="0.55" fill="#3a60c4" fill-opacity="0.5"/><circle cx="196.51" cy="147.98" r="0.55" fill="#3a60c4" fill-opacity="0.5"/><circle cx="194.68" cy="145.97" r="0.55" fill="#3a60c4" fill-opacity="0.5"/><circle cx="198.34" cy="147.01" r="0.55" fill="#3a60c4" fill-opacity="0.5"/>
<path d="M190.7,143.1 L190.7,158.5 L213,158.5" fill="none" stroke="#5a6f9c" stroke-width="0.6"/>
<line x1="310.4" y1="140.2" x2="310.4" y2="195.8" stroke="#222" stroke-width="1.2"/>
<line x1="310.0" y1="195.4" x2="389.6" y2="195.4" stroke="#222" stroke-width="1.2"/>
<line x1="308.0" y1="195.4" x2="310.4" y2="195.4" stroke="#222" stroke-width="0.8"/>
<text x="304.6" y="197.6" font-size="6.3" text-anchor="end" fill="#333" font-weight="normal" stroke="#333" stroke-width="0.14">0</text>
<line x1="308.0" y1="178.06666666666666" x2="310.4" y2="178.06666666666666" stroke="#222" stroke-width="0.8"/>
<text x="304.6" y="180.26666666666665" font-size="6.3" text-anchor="end" fill="#333" font-weight="normal" stroke="#333" stroke-width="0.14">400</text>
<line x1="308.0" y1="160.73333333333335" x2="310.4" y2="160.73333333333335" stroke="#222" stroke-width="0.8"/>
<text x="304.6" y="162.93333333333334" font-size="6.3" text-anchor="end" fill="#333" font-weight="normal" stroke="#333" stroke-width="0.14">800</text>
<line x1="308.0" y1="143.4" x2="310.4" y2="143.4" stroke="#222" stroke-width="0.8"/>
<text x="304.6" y="145.6" font-size="6.3" text-anchor="end" fill="#333" font-weight="normal" stroke="#333" stroke-width="0.14">1200</text>
<rect x="313.5" y="192.7" width="14.399999999999977" height="2.700000000000017" fill="#d6cccc"/>
<rect x="333" y="190" width="14.699999999999989" height="5.400000000000006" fill="#1a4e8c"/>
<rect x="353" y="190.8" width="14.699999999999989" height="4.599999999999994" fill="#1a4e8c"/>
<rect x="373" y="143.8" width="14.899999999999977" height="51.599999999999994" fill="#f39200"/>
<line x1="320.8" y1="195.4" x2="320.8" y2="197.70000000000002" stroke="#222" stroke-width="0.8"/>
<line x1="340.6" y1="195.4" x2="340.6" y2="197.70000000000002" stroke="#222" stroke-width="0.8"/>
<line x1="360.6" y1="195.4" x2="360.6" y2="197.70000000000002" stroke="#222" stroke-width="0.8"/>
<line x1="380.4" y1="195.4" x2="380.4" y2="197.70000000000002" stroke="#222" stroke-width="0.8"/>
<text x="285.6" y="169.4" font-size="7.0" text-anchor="middle" fill="#333" font-weight="normal" textLength="43" lengthAdjust="spacingAndGlyphs" transform="rotate(-90 285.6 169.4)" stroke="#333" stroke-width="0.14">IFN-γ (pg/ml)</text>
<text x="321.3" y="204.4" font-size="6.3" text-anchor="end" fill="#222" font-weight="normal" transform="rotate(-45 321.3 204.4)" stroke="#222" stroke-width="0.14">Medium</text>
<text x="338.0" y="203.8" font-size="6.3" text-anchor="end" fill="#222" font-weight="normal" transform="rotate(-45 338.0 203.8)" stroke="#222" stroke-width="0.14">Donor EBV-LCL</text>
<text x="341.96" y="207.76" font-size="6.3" text-anchor="end" fill="#222" font-weight="normal" transform="rotate(-45 341.96 207.76)" stroke="#222" stroke-width="0.14">+ peptide mix 1</text>
<text x="358.0" y="203.8" font-size="6.3" text-anchor="end" fill="#222" font-weight="normal" transform="rotate(-45 358.0 203.8)" stroke="#222" stroke-width="0.14">Donor EBV-LCL</text>
<text x="361.96" y="207.76" font-size="6.3" text-anchor="end" fill="#222" font-weight="normal" transform="rotate(-45 361.96 207.76)" stroke="#222" stroke-width="0.14">+ peptide mix 2</text>
<text x="383.6" y="203.6" font-size="6.3" text-anchor="end" fill="#222" font-weight="normal" transform="rotate(-45 383.6 203.6)" stroke="#222" stroke-width="0.14">Patient EBV-LCL</text>
<line x1="431.3" y1="144.3" x2="431.3" y2="195.9" stroke="#222" stroke-width="1.2"/>
<line x1="430.90000000000003" y1="195.5" x2="510" y2="195.5" stroke="#222" stroke-width="1.2"/>
<line x1="428.3" y1="195.5" x2="431.3" y2="195.5" stroke="#222" stroke-width="0.8"/>
<text x="425.6" y="197.7" font-size="6.3" text-anchor="end" fill="#333" font-weight="normal" stroke="#333" stroke-width="0.14">0</text>
<line x1="428.3" y1="183.4" x2="431.3" y2="183.4" stroke="#222" stroke-width="0.8"/>
<text x="425.6" y="185.6" font-size="6.3" text-anchor="end" fill="#333" font-weight="normal" stroke="#333" stroke-width="0.14">400</text>
<line x1="428.3" y1="171.3" x2="431.3" y2="171.3" stroke="#222" stroke-width="0.8"/>
<text x="425.6" y="173.5" font-size="6.3" text-anchor="end" fill="#333" font-weight="normal" stroke="#333" stroke-width="0.14">800</text>
<line x1="428.3" y1="159.2" x2="431.3" y2="159.2" stroke="#222" stroke-width="0.8"/>
<text x="425.6" y="161.39999999999998" font-size="6.3" text-anchor="end" fill="#333" font-weight="normal" stroke="#333" stroke-width="0.14">1200</text>
<line x1="428.3" y1="147.1" x2="431.3" y2="147.1" stroke="#222" stroke-width="0.8"/>
<text x="425.6" y="149.29999999999998" font-size="6.3" text-anchor="end" fill="#333" font-weight="normal" stroke="#333" stroke-width="0.14">1600</text>
<rect x="433.7" y="190.8" width="14.300000000000011" height="4.699999999999989" fill="#c9c9c9"/>
<rect x="453.8" y="187" width="13.899999999999977" height="8.5" fill="#1a4e8c"/>
<rect x="473.7" y="148" width="14.199999999999989" height="47.5" fill="#1a4e8c"/>
<rect x="493.7" y="143.8" width="14.300000000000011" height="51.69999999999999" fill="#f39200"/>
<line x1="440.8" y1="195.5" x2="440.8" y2="197.8" stroke="#222" stroke-width="0.8"/>
<line x1="460.6" y1="195.5" x2="460.6" y2="197.8" stroke="#222" stroke-width="0.8"/>
<line x1="480.8" y1="195.5" x2="480.8" y2="197.8" stroke="#222" stroke-width="0.8"/>
<line x1="500.8" y1="195.5" x2="500.8" y2="197.8" stroke="#222" stroke-width="0.8"/>
<text x="406.6" y="169.8" font-size="7.0" text-anchor="middle" fill="#333" font-weight="normal" textLength="41.5" lengthAdjust="spacingAndGlyphs" transform="rotate(-90 406.6 169.8)" stroke="#333" stroke-width="0.14">IFN-γ (pg/ml)</text>
<text x="441.6" y="202.9" font-size="6.3" text-anchor="end" fill="#222" font-weight="normal" transform="rotate(-45 441.6 202.9)" stroke="#222" stroke-width="0.14">Medium</text>
<text x="458.1" y="202.3" font-size="6.3" text-anchor="end" fill="#222" font-weight="normal" transform="rotate(-45 458.1 202.3)" stroke="#222" stroke-width="0.14">Donor EBV-LCL</text>
<text x="462.06" y="206.26" font-size="6.3" text-anchor="end" fill="#222" font-weight="normal" transform="rotate(-45 462.06 206.26)" stroke="#222" stroke-width="0.14">+ peptide mix 1</text>
<text x="478.3" y="202.3" font-size="6.3" text-anchor="end" fill="#222" font-weight="normal" transform="rotate(-45 478.3 202.3)" stroke="#222" stroke-width="0.14">Donor EBV-LCL</text>
<text x="482.26" y="206.26" font-size="6.3" text-anchor="end" fill="#222" font-weight="normal" transform="rotate(-45 482.26 206.26)" stroke="#222" stroke-width="0.14">+ peptide mix 2</text>
<text x="504.2" y="202.1" font-size="6.3" text-anchor="end" fill="#222" font-weight="normal" transform="rotate(-45 504.2 202.1)" stroke="#222" stroke-width="0.14">Patient EBV-LCL</text>
<line x1="344.6" y1="250" x2="344.60" y2="275.00" stroke="#4a4a4a" stroke-width="1.25"/>
<path d="M341.50,273.20 L344.60,280.00 L347.70,273.20 L344.60,275.00 Z" fill="#4a4a4a"/>
<line x1="460" y1="250.5" x2="460.00" y2="275.00" stroke="#4a4a4a" stroke-width="1.25"/>
<path d="M456.90,273.20 L460.00,280.00 L463.10,273.20 L460.00,275.00 Z" fill="#4a4a4a"/>
<text x="286.0" y="299.6" font-size="11" text-anchor="start" fill="#111" font-weight="bold" stroke="#111" stroke-width="0.45">D</text>
<text x="406.8" y="299.6" font-size="11" text-anchor="start" fill="#111" font-weight="bold" stroke="#111" stroke-width="0.45">C</text>
<text x="412.5" y="289.5" font-size="1" text-anchor="start" fill="#3a3a3a" font-weight="normal"></text>
<text x="330.8" y="311.6" font-size="6.3" text-anchor="start" fill="#3a3a3a" font-weight="normal" textLength="15.8" lengthAdjust="spacingAndGlyphs" stroke="#3a3a3a" stroke-width="0.14">1,670</text>
<circle cx="338.6" cy="321.8" r="6" fill="url(#cellg)"/>
<text x="338.6" y="324.14" font-size="6.5" text-anchor="middle" fill="#d0d6f6" font-weight="normal" stroke="#d0d6f6" stroke-width="0.14">T</text>
<line x1="327" y1="329" x2="301.28" y2="344.08" stroke="#454545" stroke-width="1.0"/>
<path d="M301.20,341.57 L298.00,346.00 L303.43,345.37 L301.28,344.08 Z" fill="#454545"/>
<line x1="331.8" y1="331.7" x2="325.23" y2="343.67" stroke="#454545" stroke-width="1.0"/>
<path d="M323.88,341.56 L323.40,347.00 L327.73,343.68 L325.23,343.67 Z" fill="#454545"/>
<line x1="344" y1="331.7" x2="351.07" y2="343.72" stroke="#454545" stroke-width="1.0"/>
<path d="M348.57,343.81 L353.00,347.00 L352.36,341.57 L351.07,343.72 Z" fill="#454545"/>
<text x="286.3" y="355.6" font-size="8.2" text-anchor="start" fill="#222" font-weight="normal" textLength="11.7" lengthAdjust="spacingAndGlyphs" stroke="#222" stroke-width="0.14">10x</text>
<line x1="338.6" y1="352" x2="338.6" y2="393" stroke="#e2e2e2" stroke-width="0.7"/>
<circle cx="322.6" cy="356.2" r="7.7" fill="#dadada"/>
<circle cx="322.6" cy="356.2" r="4.235" fill="#a9a9a9"/>
<text x="322.6" y="358.4" font-size="6.4" text-anchor="middle" fill="#f2f2f6" font-weight="bold" stroke="#f2f2f6" stroke-width="0.14">B</text>
<circle cx="308.1" cy="364" r="7.7" fill="#a9dbe2"/>
<circle cx="308.1" cy="364" r="4.235" fill="#6d9dac"/>
<text x="308.1" y="366.2" font-size="6.4" text-anchor="middle" fill="#f2f2f6" font-weight="bold" stroke="#f2f2f6" stroke-width="0.14">B</text>
<circle cx="328.1" cy="372.3" r="7.7" fill="#3b3ba0"/>
<circle cx="328.1" cy="372.3" r="4.235" fill="#34309a"/>
<text x="328.1" y="374.5" font-size="6.4" text-anchor="middle" fill="#f2f2f6" font-weight="bold" stroke="#f2f2f6" stroke-width="0.14">B</text>
<circle cx="306.8" cy="381.1" r="7.7" fill="#8c89c8"/>
<circle cx="306.8" cy="381.1" r="4.235" fill="#5c5c9c"/>
<text x="306.8" y="383.3" font-size="6.4" text-anchor="middle" fill="#f2f2f6" font-weight="bold" stroke="#f2f2f6" stroke-width="0.14">B</text>
<circle cx="323.4" cy="389" r="7.7" fill="#1d9fdf"/>
<circle cx="323.4" cy="389" r="4.235" fill="#1582c2"/>
<text x="323.4" y="391.2" font-size="6.4" text-anchor="middle" fill="#f2f2f6" font-weight="bold" stroke="#f2f2f6" stroke-width="0.14">B</text>
<circle cx="366.8" cy="355.6" r="7.7" fill="#7488c2"/>
<circle cx="366.8" cy="355.6" r="4.235" fill="#4a4fb2"/>
<text x="366.8" y="357.8" font-size="6.4" text-anchor="middle" fill="#f2f2f6" font-weight="bold" stroke="#f2f2f6" stroke-width="0.14">B</text>
<circle cx="352.3" cy="362.6" r="7.7" fill="#1a83a6"/>
<circle cx="352.3" cy="362.6" r="4.235" fill="#136a8a"/>
<text x="352.3" y="364.8" font-size="6.4" text-anchor="middle" fill="#f2f2f6" font-weight="bold" stroke="#f2f2f6" stroke-width="0.14">B</text>
<circle cx="372.5" cy="371.6" r="7.7" fill="#9a9a9a"/>
<circle cx="372.5" cy="371.6" r="4.235" fill="#858585"/>
<text x="372.5" y="373.8" font-size="6.4" text-anchor="middle" fill="#f2f2f6" font-weight="bold" stroke="#f2f2f6" stroke-width="0.14">B</text>
<circle cx="352" cy="379.5" r="7.7" fill="#a6d6f0"/>
<circle cx="352" cy="379.5" r="4.235" fill="#7fb0cc"/>
<text x="352" y="381.7" font-size="6.4" text-anchor="middle" fill="#f2f2f6" font-weight="bold" stroke="#f2f2f6" stroke-width="0.14">B</text>
<circle cx="367.7" cy="388" r="7.7" fill="#6a6a6a"/>
<circle cx="367.7" cy="388" r="4.235" fill="#151515"/>
<text x="367.7" y="390.2" font-size="6.4" text-anchor="middle" fill="#f2f2f6" font-weight="bold" stroke="#f2f2f6" stroke-width="0.14">B</text>
<text x="289.7" y="407.2" font-size="6.3" text-anchor="start" fill="#3a3a3a" font-weight="normal" textLength="41.1" lengthAdjust="spacingAndGlyphs" stroke="#3a3a3a" stroke-width="0.14">EBV-LCL mix 1</text>
<text x="347.6" y="407.2" font-size="6.3" text-anchor="start" fill="#3a3a3a" font-weight="normal" textLength="42" lengthAdjust="spacingAndGlyphs" stroke="#3a3a3a" stroke-width="0.14">EBV-LCL mix 2</text>
<text x="452" y="308" font-size="6.3" text-anchor="start" fill="#3a3a3a" font-weight="normal" textLength="16" lengthAdjust="spacingAndGlyphs" stroke="#3a3a3a" stroke-width="0.14">2,736</text>
<circle cx="460.3" cy="320" r="6.4" fill="url(#cellg)"/>
<text x="460.3" y="322.448" font-size="6.8" text-anchor="middle" fill="#d0d6f6" font-weight="normal" stroke="#d0d6f6" stroke-width="0.14">T</text>
<line x1="454.8" y1="330" x2="422.22" y2="343.27" stroke="#454545" stroke-width="1.0"/>
<path d="M422.50,340.78 L418.70,344.70 L424.16,344.85 L422.22,343.27 Z" fill="#454545"/>
<line x1="456.3" y1="330.4" x2="447.11" y2="342.38" stroke="#454545" stroke-width="1.0"/>
<path d="M446.10,340.09 L444.80,345.40 L449.59,342.77 L447.11,342.38 Z" fill="#454545"/>
<line x1="465.2" y1="330.4" x2="473.26" y2="342.26" stroke="#454545" stroke-width="1.0"/>
<path d="M470.77,342.50 L475.40,345.40 L474.41,340.03 L473.26,342.26 Z" fill="#454545"/>
<text x="407.7" y="354.0" font-size="8.2" text-anchor="start" fill="#222" font-weight="normal" textLength="11.7" lengthAdjust="spacingAndGlyphs" stroke="#222" stroke-width="0.14">12x</text>
<line x1="460.3" y1="348.7" x2="460.3" y2="383" stroke="#e2e2e2" stroke-width="0.7"/>
<circle cx="439.1" cy="363.6" r="9.0" fill="url(#cellg)"/>
<text x="439.1" y="366.03200000000004" font-size="7.6" text-anchor="middle" fill="#d0d6f6" font-weight="bold" stroke="#d0d6f6" stroke-width="0.14">B</text>
<circle cx="479.3" cy="364.0" r="9.0" fill="url(#cellg)"/>
<text x="479.3" y="366.432" font-size="7.6" text-anchor="middle" fill="#d0d6f6" font-weight="bold" stroke="#d0d6f6" stroke-width="0.14">B</text>
<text x="452.6" y="391.4" font-size="6.3" text-anchor="end" fill="#3a3a3a" font-weight="normal" textLength="44.9" lengthAdjust="spacingAndGlyphs" stroke="#3a3a3a" stroke-width="0.14">Donor EBV-LCL</text>
<text x="452.6" y="399.2" font-size="6.3" text-anchor="end" fill="#3a3a3a" font-weight="normal" textLength="44.5" lengthAdjust="spacingAndGlyphs" stroke="#3a3a3a" stroke-width="0.14">+ combinatorial</text>
<text x="452.6" y="406.9" font-size="6.3" text-anchor="end" fill="#3a3a3a" font-weight="normal" textLength="38.8" lengthAdjust="spacingAndGlyphs" stroke="#3a3a3a" stroke-width="0.14">peptide mix 1</text>
<text x="512.3" y="391.4" font-size="6.3" text-anchor="end" fill="#3a3a3a" font-weight="normal" textLength="44.9" lengthAdjust="spacingAndGlyphs" stroke="#3a3a3a" stroke-width="0.14">Donor EBV-LCL</text>
<text x="512.3" y="399.2" font-size="6.3" text-anchor="end" fill="#3a3a3a" font-weight="normal" textLength="44.5" lengthAdjust="spacingAndGlyphs" stroke="#3a3a3a" stroke-width="0.14">+ combinatorial</text>
<text x="512.3" y="406.9" font-size="6.3" text-anchor="end" fill="#3a3a3a" font-weight="normal" textLength="38.8" lengthAdjust="spacingAndGlyphs" stroke="#3a3a3a" stroke-width="0.14">peptide mix 2</text>
<path d="M315.40,77.10 C316.12,76.28 318.27,73.33 319.70,72.20 M319.70,72.20 C321.13,71.07 322.67,70.50 324.00,70.30" fill="none" stroke="#3f8fd0" stroke-width="0.95" stroke-linecap="round"/>
<path d="M324.00,70.30 C325.33,70.10 326.63,72.02 327.70,71.00 M327.70,71.00 C328.77,69.98 329.95,65.33 330.40,64.20" fill="none" stroke="#5a8fc0" stroke-width="0.95" stroke-linecap="round"/>
<ellipse cx="319.7" cy="72.2" rx="1.1" ry="0.8" fill="#111"/>
<path d="M347.40,66.40 C347.92,66.63 349.07,67.97 350.50,67.80 M350.50,67.80 C351.93,67.63 354.05,65.90 356.00,65.40" fill="none" stroke="#8fb8dc" stroke-width="0.9" stroke-linecap="round"/>
<path d="M356.00,65.40 C357.95,64.90 360.57,64.60 362.20,64.80 M362.20,64.80 C363.83,65.00 365.20,66.30 365.80,66.60" fill="none" stroke="#6aa8dc" stroke-width="0.9" stroke-linecap="round"/>
<ellipse cx="347.4" cy="66.4" rx="1.1" ry="0.8" fill="#111"/>
<path d="M312.30,101.70 C313.22,102.00 316.05,103.70 317.80,103.50 M317.80,103.50 C319.55,103.30 321.15,101.48 322.80,100.50" fill="none" stroke="#2f6aa6" stroke-width="1.0" stroke-linecap="round"/>
<path d="M322.80,100.50 C324.45,99.52 325.87,97.92 327.70,97.60 M327.70,97.60 C329.53,97.28 332.78,98.43 333.80,98.60" fill="none" stroke="#4a9ad8" stroke-width="1.0" stroke-linecap="round"/>
<path d="M341.20,100.50 C342.23,100.58 345.65,101.52 347.40,101.00 M347.40,101.00 C349.15,100.48 350.68,98.93 351.70,97.40" fill="none" stroke="#4a9ad8" stroke-width="1.0" stroke-linecap="round"/>
<path d="M351.70,97.40 C352.72,95.87 352.58,93.00 353.50,91.80 M353.50,91.80 C354.42,90.60 355.97,90.53 357.20,90.20 M357.20,90.20 C358.43,89.87 360.28,89.87 360.90,89.80" fill="none" stroke="#5a8ab8" stroke-width="1.0" stroke-linecap="round"/>
<path d="M384.00,73.80 C384.62,72.98 386.37,69.82 387.70,68.90 M387.70,68.90 C389.03,67.98 390.57,68.50 392.00,68.30" fill="none" stroke="#a39a88" stroke-width="0.75" stroke-linecap="round"/>
<path d="M392.00,68.30 C393.43,68.10 395.17,68.83 396.30,67.70 M396.30,67.70 C397.43,66.57 398.38,62.53 398.80,61.50" fill="none" stroke="#8a8a8a" stroke-width="0.75" stroke-linecap="round"/>
<path d="M413.50,60.30 C413.92,60.92 414.87,63.48 416.00,64.00 M416.00,64.00 C417.13,64.52 418.97,63.82 420.30,63.40" fill="none" stroke="#8a8a8a" stroke-width="0.75" stroke-linecap="round"/>
<path d="M420.30,63.40 C421.63,62.98 422.55,61.82 424.00,61.50 M424.00,61.50 C425.45,61.18 427.37,60.88 429.00,61.50 M429.00,61.50 C430.63,62.12 433.00,64.58 433.80,65.20" fill="none" stroke="#999" stroke-width="0.75" stroke-linecap="round"/>
<path d="M381.00,99.70 C381.70,100.00 383.78,101.50 385.20,101.50 M385.20,101.50 C386.62,101.50 387.95,100.72 389.50,99.70" fill="none" stroke="#777" stroke-width="0.75" stroke-linecap="round"/>
<path d="M389.50,99.70 C391.05,98.68 392.45,96.02 394.50,95.40 M394.50,95.40 C396.55,94.78 400.58,95.90 401.80,96.00" fill="none" stroke="#a39a88" stroke-width="0.75" stroke-linecap="round"/>
<ellipse cx="385.2" cy="101.5" rx="1.1" ry="0.8" fill="#111"/>
<path d="M409.80,97.80 C410.73,98.00 413.87,99.20 415.40,99.00 M415.40,99.00 C416.93,98.80 417.98,98.02 419.00,96.60" fill="none" stroke="#555555" stroke-width="1.0" stroke-linecap="round"/>
<path d="M419.00,96.60 C420.02,95.18 420.47,92.03 421.50,90.50 M421.50,90.50 C422.53,88.97 423.95,88.02 425.20,87.40 M425.20,87.40 C426.45,86.78 428.37,86.90 429.00,86.80" fill="none" stroke="#777" stroke-width="1.0" stroke-linecap="round"/>
<path d="M428.50,355.00 C428.12,355.90 426.85,358.10 426.20,360.40 M426.20,360.40 C425.55,362.70 424.47,366.75 424.60,368.80 M424.60,368.80 C424.73,370.85 425.85,371.67 427.00,372.70 M427.00,372.70 C428.15,373.73 430.50,373.85 431.50,375.00 M431.50,375.00 C432.50,376.15 432.75,378.83 433.00,379.60" fill="none" stroke="#7aaed6" stroke-width="0.75" stroke-linecap="round"/>
<ellipse cx="424.6" cy="368.8" rx="1.1" ry="0.8" fill="#111"/>
<path d="M445.40,354.20 C446.17,354.58 448.98,355.47 450.00,356.50" fill="none" stroke="#8a8a8a" stroke-width="0.75" stroke-linecap="round"/>
<path d="M450.00,356.50 C451.02,357.53 450.60,359.62 451.50,360.40 M451.50,360.40 C452.40,361.18 454.75,361.07 455.40,361.20" fill="none" stroke="#555555" stroke-width="0.75" stroke-linecap="round"/>
<path d="M440.00,378.00 C440.77,378.13 443.32,379.30 444.60,378.80 M444.60,378.80 C445.88,378.30 446.67,376.27 447.70,375.00" fill="none" stroke="#7aaed6" stroke-width="0.75" stroke-linecap="round"/>
<path d="M447.70,375.00 C448.73,373.73 449.78,371.97 450.80,371.20 M450.80,371.20 C451.82,370.43 453.30,370.53 453.80,370.40" fill="none" stroke="#7a8a9a" stroke-width="0.75" stroke-linecap="round"/>
<path d="M463.00,360.40 C463.40,359.75 464.37,357.27 465.40,356.50" fill="none" stroke="#a39a88" stroke-width="0.75" stroke-linecap="round"/>
<path d="M465.40,356.50 C466.43,355.73 467.93,356.55 469.20,355.80 M469.20,355.80 C470.47,355.05 472.37,352.63 473.00,352.00" fill="none" stroke="#8a8a8a" stroke-width="0.75" stroke-linecap="round"/>
<path d="M481.50,353.50 C482.02,353.37 483.32,352.95 484.60,352.70 M484.60,352.70 C485.88,352.45 487.53,351.75 489.20,352.00 M489.20,352.00 C490.87,352.25 493.70,353.83 494.60,354.20" fill="none" stroke="#7aaed6" stroke-width="0.75" stroke-linecap="round"/>
<ellipse cx="481.5" cy="353.5" rx="1.1" ry="0.8" fill="#111"/>
<path d="M466.20,369.60 C466.45,370.12 466.93,371.80 467.70,372.70 M467.70,372.70 C468.47,373.60 469.92,374.12 470.80,375.00 M470.80,375.00 C471.68,375.88 472.50,376.83 473.00,378.00 M473.00,378.00 C473.50,379.17 473.67,381.33 473.80,382.00" fill="none" stroke="#7aaed6" stroke-width="0.75" stroke-linecap="round"/>
<ellipse cx="466.2" cy="369.6" rx="1.1" ry="0.8" fill="#111"/>
<path d="M484.60,374.20 C485.25,374.33 487.35,375.37 488.50,375.00" fill="none" stroke="#8a8a8a" stroke-width="0.75" stroke-linecap="round"/>
<path d="M488.50,375.00 C489.65,374.63 490.35,373.17 491.50,372.00 M491.50,372.00 C492.65,370.83 494.75,368.67 495.40,368.00" fill="none" stroke="#555555" stroke-width="0.75" stroke-linecap="round"/>
<text x="146.2" y="299.8" font-size="11" text-anchor="start" fill="#111" font-weight="bold" stroke="#111" stroke-width="0.45">E</text>
<text x="187" y="310.1" font-size="6.3" text-anchor="start" fill="#3a3a3a" font-weight="normal" textLength="31.7" lengthAdjust="spacingAndGlyphs" stroke="#3a3a3a" stroke-width="0.14">189 (1,670)</text>
<circle cx="202.8" cy="320.5" r="6" fill="url(#cellg)"/>
<text x="202.8" y="322.84" font-size="6.5" text-anchor="middle" fill="#d0d6f6" font-weight="normal" stroke="#d0d6f6" stroke-width="0.14">T</text>
<line x1="191.4" y1="327.3" x2="163.32" y2="342.86" stroke="#454545" stroke-width="1.0"/>
<path d="M163.31,340.35 L160.00,344.70 L165.44,344.20 L163.32,342.86 Z" fill="#454545"/>
<line x1="196.7" y1="329.8" x2="189.46" y2="342.69" stroke="#454545" stroke-width="1.0"/>
<path d="M188.13,340.56 L187.60,346.00 L191.97,342.72 L189.46,342.69 Z" fill="#454545"/>
<line x1="202.8" y1="331" x2="202.80" y2="342.20" stroke="#454545" stroke-width="1.0"/>
<path d="M200.60,341.00 L202.80,346.00 L205.00,341.00 L202.80,342.20 Z" fill="#454545"/>
<line x1="208.75" y1="329.8" x2="215.95" y2="342.68" stroke="#454545" stroke-width="1.0"/>
<path d="M213.44,342.71 L217.80,346.00 L217.28,340.56 L215.95,342.68 Z" fill="#454545"/>
<text x="146" y="355.6" font-size="8.2" text-anchor="start" fill="#222" font-weight="normal" textLength="16.2" lengthAdjust="spacingAndGlyphs" stroke="#222" stroke-width="0.14">191x</text>
<line x1="180" y1="355" x2="180" y2="394" stroke="#f1e6da" stroke-width="0.6"/>
<line x1="202.4" y1="355" x2="202.4" y2="394" stroke="#f1e6da" stroke-width="0.6"/>
<line x1="224.6" y1="355" x2="224.6" y2="394" stroke="#f1e6da" stroke-width="0.6"/>
<line x1="158" y1="374.4" x2="247" y2="374.4" stroke="#f1e6da" stroke-width="0.6"/>
<circle cx="168.6" cy="364.3" r="8" fill="#dadada"/>
<circle cx="168.6" cy="364.3" r="4.4" fill="#a9a9a9"/>
<text x="168.6" y="366.5" font-size="6.4" text-anchor="middle" fill="#f2f2f6" font-weight="bold" stroke="#f2f2f6" stroke-width="0.14">B</text>
<circle cx="191.2" cy="364.3" r="8" fill="#3b3ba0"/>
<circle cx="191.2" cy="364.3" r="4.4" fill="#34309a"/>
<text x="191.2" y="366.5" font-size="6.4" text-anchor="middle" fill="#f2f2f6" font-weight="bold" stroke="#f2f2f6" stroke-width="0.14">B</text>
<circle cx="213.6" cy="364.3" r="8" fill="#1a83a6"/>
<circle cx="213.6" cy="364.3" r="4.4" fill="#136a8a"/>
<text x="213.6" y="366.5" font-size="6.4" text-anchor="middle" fill="#f2f2f6" font-weight="bold" stroke="#f2f2f6" stroke-width="0.14">B</text>
<circle cx="236.3" cy="364.3" r="8" fill="#7488c2"/>
<circle cx="236.3" cy="364.3" r="4.4" fill="#4a4fb2"/>
<text x="236.3" y="366.5" font-size="6.4" text-anchor="middle" fill="#f2f2f6" font-weight="bold" stroke="#f2f2f6" stroke-width="0.14">B</text>
<circle cx="168.6" cy="384.4" r="8" fill="#8c89c8"/>
<circle cx="168.6" cy="384.4" r="4.4" fill="#5c5c9c"/>
<text x="168.6" y="386.59999999999997" font-size="6.4" text-anchor="middle" fill="#f2f2f6" font-weight="bold" stroke="#f2f2f6" stroke-width="0.14">B</text>
<circle cx="191.2" cy="384.4" r="8" fill="#1d9fdf"/>
<circle cx="191.2" cy="384.4" r="4.4" fill="#1582c2"/>
<text x="191.2" y="386.59999999999997" font-size="6.4" text-anchor="middle" fill="#f2f2f6" font-weight="bold" stroke="#f2f2f6" stroke-width="0.14">B</text>
<circle cx="213.6" cy="384.4" r="8" fill="#a6d6f0"/>
<circle cx="213.6" cy="384.4" r="4.4" fill="#7fb0cc"/>
<text x="213.6" y="386.59999999999997" font-size="6.4" text-anchor="middle" fill="#f2f2f6" font-weight="bold" stroke="#f2f2f6" stroke-width="0.14">B</text>
<circle cx="236.3" cy="384.4" r="8" fill="#9a9a9a"/>
<circle cx="236.3" cy="384.4" r="4.4" fill="#858585"/>
<text x="236.3" y="386.59999999999997" font-size="6.4" text-anchor="middle" fill="#f2f2f6" font-weight="bold" stroke="#f2f2f6" stroke-width="0.14">B</text>
<text x="178.6" y="402.1" font-size="6.3" text-anchor="start" fill="#3a3a3a" font-weight="normal" textLength="47.1" lengthAdjust="spacingAndGlyphs" stroke="#3a3a3a" stroke-width="0.14">Single EBV-LCLs</text>
<text x="7.3" y="299.4" font-size="11" text-anchor="start" fill="#111" font-weight="bold" stroke="#111" stroke-width="0.45">F</text>
<text x="33.8" y="310.1" font-size="6.3" text-anchor="start" fill="#3a3a3a" font-weight="normal" textLength="29.2" lengthAdjust="spacingAndGlyphs" stroke="#3a3a3a" stroke-width="0.14">81 (1,129)</text>
<circle cx="49" cy="320.5" r="6" fill="url(#cellg)"/>
<text x="49" y="322.84" font-size="6.5" text-anchor="middle" fill="#d0d6f6" font-weight="normal" stroke="#d0d6f6" stroke-width="0.14">T</text>
<line x1="39" y1="329.8" x2="31.48" y2="343.00" stroke="#454545" stroke-width="1.0"/>
<path d="M30.16,340.87 L29.60,346.30 L33.99,343.04 L31.48,343.00 Z" fill="#454545"/>
<line x1="49" y1="330.5" x2="49.00" y2="341.50" stroke="#454545" stroke-width="1.0"/>
<path d="M46.80,340.30 L49.00,345.30 L51.20,340.30 L49.00,341.50 Z" fill="#454545"/>
<line x1="58.6" y1="329.8" x2="66.20" y2="343.01" stroke="#454545" stroke-width="1.0"/>
<path d="M63.70,343.06 L68.10,346.30 L67.51,340.87 L66.20,343.01 Z" fill="#454545"/>
<line x1="32.9" y1="350" x2="32.9" y2="392" stroke="#eeeeee" stroke-width="0.6"/>
<line x1="62.7" y1="350" x2="62.7" y2="392" stroke="#eeeeee" stroke-width="0.6"/>
<circle cx="21.3" cy="369" r="9.2" fill="url(#cellg)"/>
<text x="21.3" y="371.752" font-size="8.6" text-anchor="middle" fill="#d0d6f6" font-weight="bold" stroke="#d0d6f6" stroke-width="0.14">B</text>
<circle cx="47.7" cy="369" r="9.2" fill="url(#cellg)"/>
<text x="47.7" y="371.752" font-size="8.6" text-anchor="middle" fill="#d0d6f6" font-weight="bold" stroke="#d0d6f6" stroke-width="0.14">B</text>
<circle cx="80.4" cy="369.3" r="9.4" fill="url(#cellg)"/>
<text x="80.4" y="372.052" font-size="8.6" text-anchor="middle" fill="#d0d6f6" font-weight="bold" stroke="#d0d6f6" stroke-width="0.14">B</text>
<path d="M9.00,361.00 L8.73,361.66 L8.48,362.31 L8.27,362.97 L8.13,363.61 L8.06,364.25 L8.08,364.88 L8.19,365.50 L8.38,366.11 L8.65,366.72 L8.98,367.31 L9.35,367.91 L9.75,368.50" fill="none" stroke="#f0a24e" stroke-width="0.95" stroke-linecap="round"/>
<path d="M9.75,368.50 L10.15,369.09 L10.52,369.69 L10.85,370.28 L11.12,370.89 L11.31,371.50 L11.42,372.12 L11.44,372.75 L11.37,373.39 L11.23,374.03 L11.02,374.69 L10.77,375.34 L10.50,376.00" fill="none" stroke="#4f7fc2" stroke-width="0.95" stroke-linecap="round"/>
<path d="M46.00,354.00 L46.20,354.64 L46.41,355.26 L46.65,355.85 L46.93,356.40 L47.26,356.90 L47.65,357.35 L48.10,357.74 L48.60,358.07 L49.15,358.35 L49.74,358.59 L50.36,358.80 L51.00,359.00" fill="none" stroke="#f0a24e" stroke-width="0.95" stroke-linecap="round"/>
<path d="M51.00,359.00 L51.64,359.20 L52.26,359.41 L52.85,359.65 L53.40,359.93 L53.90,360.26 L54.35,360.65 L54.74,361.10 L55.07,361.60 L55.35,362.15 L55.59,362.74 L55.80,363.36 L56.00,364.00" fill="none" stroke="#4f7fc2" stroke-width="0.95" stroke-linecap="round"/>
<path d="M36.50,362.00 L36.33,362.54 L36.17,363.07 L36.06,363.60 L36.00,364.11 L36.01,364.60 L36.09,365.07 L36.26,365.51 L36.50,365.94 L36.81,366.35 L37.17,366.74 L37.58,367.12 L38.00,367.50" fill="none" stroke="#4f7fc2" stroke-width="0.95" stroke-linecap="round"/>
<path d="M38.00,367.50 L38.42,367.88 L38.83,368.26 L39.19,368.65 L39.50,369.06 L39.74,369.49 L39.91,369.93 L39.99,370.40 L40.00,370.89 L39.94,371.40 L39.83,371.93 L39.67,372.46 L39.50,373.00" fill="none" stroke="#f0a24e" stroke-width="0.95" stroke-linecap="round"/>
<path d="M45.00,380.50 L45.65,380.84 L46.29,381.15 L46.94,381.42 L47.58,381.63 L48.23,381.76 L48.88,381.80 L49.52,381.76 L50.17,381.63 L50.81,381.42 L51.46,381.15 L52.10,380.84 L52.75,380.50" fill="none" stroke="#f0a24e" stroke-width="0.95" stroke-linecap="round"/>
<path d="M52.75,380.50 L53.40,380.16 L54.04,379.85 L54.69,379.58 L55.33,379.37 L55.98,379.24 L56.62,379.20 L57.27,379.24 L57.92,379.37 L58.56,379.58 L59.21,379.85 L59.85,380.16 L60.50,380.50" fill="none" stroke="#4f7fc2" stroke-width="0.95" stroke-linecap="round"/>
<path d="M67.00,357.00 L67.47,356.89 L67.92,356.77 L68.34,356.63 L68.72,356.45 L69.06,356.23 L69.34,355.97 L69.56,355.65 L69.72,355.29 L69.84,354.88 L69.92,354.44 L69.97,353.98 L70.00,353.50" fill="none" stroke="#f0a24e" stroke-width="0.95" stroke-linecap="round"/>
<path d="M70.00,353.50 L70.03,353.02 L70.08,352.56 L70.16,352.12 L70.28,351.71 L70.44,351.35 L70.66,351.03 L70.94,350.77 L71.28,350.55 L71.66,350.37 L72.08,350.23 L72.53,350.11 L73.00,350.00" fill="none" stroke="#4f7fc2" stroke-width="0.95" stroke-linecap="round"/>
<path d="M75.00,355.00 L75.51,355.20 L76.02,355.37 L76.51,355.52 L77.00,355.60 L77.48,355.63 L77.95,355.58 L78.40,355.46 L78.84,355.27 L79.26,355.02 L79.68,354.71 L80.09,354.36 L80.50,354.00" fill="none" stroke="#4f7fc2" stroke-width="0.95" stroke-linecap="round"/>
<path d="M80.50,354.00 L80.91,353.64 L81.32,353.29 L81.74,352.98 L82.16,352.73 L82.60,352.54 L83.05,352.42 L83.52,352.37 L84.00,352.40 L84.49,352.48 L84.98,352.63 L85.49,352.80 L86.00,353.00" fill="none" stroke="#f0a24e" stroke-width="0.95" stroke-linecap="round"/>
<path d="M84.00,351.00 L84.32,351.50 L84.65,351.98 L85.00,352.43 L85.38,352.84 L85.78,353.18 L86.22,353.47 L86.70,353.68 L87.21,353.84 L87.75,353.93 L88.32,353.98 L88.91,354.00 L89.50,354.00" fill="none" stroke="#f0a24e" stroke-width="0.95" stroke-linecap="round"/>
<path d="M89.50,354.00 L90.09,354.00 L90.68,354.02 L91.25,354.07 L91.79,354.16 L92.30,354.32 L92.78,354.53 L93.22,354.82 L93.62,355.16 L94.00,355.57 L94.35,356.02 L94.68,356.50 L95.00,357.00" fill="none" stroke="#4f7fc2" stroke-width="0.95" stroke-linecap="round"/>
<path d="M90.00,357.00 L89.96,357.51 L89.94,358.02 L89.95,358.50 L90.00,358.96 L90.11,359.39 L90.29,359.78 L90.53,360.14 L90.83,360.46 L91.20,360.75 L91.60,361.02 L92.04,361.26 L92.50,361.50" fill="none" stroke="#4f7fc2" stroke-width="0.95" stroke-linecap="round"/>
<path d="M92.50,361.50 L92.96,361.74 L93.40,361.98 L93.80,362.25 L94.17,362.54 L94.47,362.86 L94.71,363.22 L94.89,363.61 L95.00,364.04 L95.05,364.50 L95.06,364.98 L95.04,365.49 L95.00,366.00" fill="none" stroke="#f0a24e" stroke-width="0.95" stroke-linecap="round"/>
<path d="M93.00,368.00 L93.26,368.36 L93.53,368.70 L93.81,369.00 L94.10,369.26 L94.41,369.45 L94.73,369.57 L95.08,369.61 L95.44,369.59 L95.81,369.50 L96.20,369.37 L96.60,369.19 L97.00,369.00" fill="none" stroke="#f0a24e" stroke-width="0.95" stroke-linecap="round"/>
<path d="M97.00,369.00 L97.40,368.81 L97.80,368.63 L98.19,368.50 L98.56,368.41 L98.92,368.39 L99.27,368.43 L99.59,368.55 L99.90,368.74 L100.19,369.00 L100.47,369.30 L100.74,369.64 L101.00,370.00" fill="none" stroke="#4f7fc2" stroke-width="0.95" stroke-linecap="round"/>
<path d="M89.00,379.00 L89.18,379.45 L89.38,379.88 L89.59,380.28 L89.83,380.64 L90.10,380.94 L90.42,381.18 L90.77,381.36 L91.16,381.47 L91.59,381.53 L92.04,381.55 L92.52,381.53 L93.00,381.50" fill="none" stroke="#4f7fc2" stroke-width="0.95" stroke-linecap="round"/>
<path d="M93.00,381.50 L93.48,381.47 L93.96,381.45 L94.41,381.47 L94.84,381.53 L95.23,381.64 L95.58,381.82 L95.90,382.06 L96.17,382.36 L96.41,382.72 L96.62,383.12 L96.82,383.55 L97.00,384.00" fill="none" stroke="#f0a24e" stroke-width="0.95" stroke-linecap="round"/>
<path d="M78.00,381.00 L78.33,381.40 L78.68,381.78 L79.03,382.12 L79.39,382.41 L79.78,382.64 L80.18,382.80 L80.61,382.89 L81.06,382.91 L81.53,382.87 L82.01,382.78 L82.50,382.65 L83.00,382.50" fill="none" stroke="#f0a24e" stroke-width="0.95" stroke-linecap="round"/>
<path d="M83.00,382.50 L83.50,382.35 L83.99,382.22 L84.47,382.13 L84.94,382.09 L85.39,382.11 L85.82,382.20 L86.22,382.36 L86.61,382.59 L86.97,382.88 L87.32,383.22 L87.67,383.60 L88.00,384.00" fill="none" stroke="#4f7fc2" stroke-width="0.95" stroke-linecap="round"/>
<path d="M68.00,378.00 L68.20,378.52 L68.41,379.02 L68.65,379.49 L68.92,379.92 L69.22,380.30 L69.57,380.62 L69.97,380.88 L70.42,381.09 L70.90,381.24 L71.41,381.35 L71.95,381.43 L72.50,381.50" fill="none" stroke="#4f7fc2" stroke-width="0.95" stroke-linecap="round"/>
<path d="M72.50,381.50 L73.05,381.57 L73.59,381.65 L74.10,381.76 L74.58,381.91 L75.03,382.12 L75.43,382.38 L75.78,382.70 L76.08,383.08 L76.35,383.51 L76.59,383.98 L76.80,384.48 L77.00,385.00" fill="none" stroke="#f0a24e" stroke-width="0.95" stroke-linecap="round"/>
<path d="M63.00,367.00 L62.85,367.53 L62.72,368.06 L62.62,368.58 L62.58,369.08 L62.60,369.57 L62.69,370.04 L62.85,370.49 L63.08,370.92 L63.37,371.33 L63.72,371.73 L64.10,372.12 L64.50,372.50" fill="none" stroke="#f0a24e" stroke-width="0.95" stroke-linecap="round"/>
<path d="M64.50,372.50 L64.90,372.88 L65.28,373.27 L65.63,373.67 L65.92,374.08 L66.15,374.51 L66.31,374.96 L66.40,375.43 L66.42,375.92 L66.38,376.42 L66.28,376.94 L66.15,377.47 L66.00,378.00" fill="none" stroke="#4f7fc2" stroke-width="0.95" stroke-linecap="round"/>
<path d="M66.00,360.00 L65.64,360.26 L65.30,360.53 L65.00,360.81 L64.74,361.10 L64.55,361.41 L64.43,361.73 L64.39,362.08 L64.41,362.44 L64.50,362.81 L64.63,363.20 L64.81,363.60 L65.00,364.00" fill="none" stroke="#4f7fc2" stroke-width="0.95" stroke-linecap="round"/>
<path d="M65.00,364.00 L65.19,364.40 L65.37,364.80 L65.50,365.19 L65.59,365.56 L65.61,365.92 L65.57,366.27 L65.45,366.59 L65.26,366.90 L65.00,367.19 L64.70,367.47 L64.36,367.74 L64.00,368.00" fill="none" stroke="#f0a24e" stroke-width="0.95" stroke-linecap="round"/>
<text x="32.2" y="396.3" font-size="6.3" text-anchor="start" fill="#3a3a3a" font-weight="normal" textLength="43.6" lengthAdjust="spacingAndGlyphs" stroke="#3a3a3a" stroke-width="0.14">Donor EBV-LCL</text>
<text x="28.2" y="404.1" font-size="6.3" text-anchor="start" fill="#3a3a3a" font-weight="normal" textLength="51" lengthAdjust="spacingAndGlyphs" stroke="#3a3a3a" stroke-width="0.14">+ MiHA candidate</text>
<line x1="132.3" y1="470.1" x2="124.60" y2="470.10" stroke="#444" stroke-width="1.3"/>
<path d="M126.10,467.30 L119.80,470.10 L126.10,472.90 L124.60,470.10 Z" fill="#444"/>
<line x1="258" y1="470.1" x2="248.60" y2="470.10" stroke="#444" stroke-width="1.3"/>
<path d="M250.10,467.30 L243.80,470.10 L250.10,472.90 L248.60,470.10 Z" fill="#444"/>
<line x1="36.2" y1="444.3" x2="36.2" y2="496.3" stroke="#222" stroke-width="1.2"/>
<line x1="35.800000000000004" y1="495.8" x2="108.6" y2="495.8" stroke="#222" stroke-width="1.2"/>
<line x1="33.3" y1="495.8" x2="36.2" y2="495.8" stroke="#222" stroke-width="0.8"/>
<text x="30.4" y="497.90000000000003" font-size="6.0" text-anchor="end" fill="#333" font-weight="normal" stroke="#333" stroke-width="0.14">0</text>
<line x1="33.3" y1="483.675" x2="36.2" y2="483.675" stroke="#222" stroke-width="0.8"/>
<text x="30.4" y="485.77500000000003" font-size="6.0" text-anchor="end" fill="#333" font-weight="normal" textLength="10" lengthAdjust="spacingAndGlyphs" stroke="#333" stroke-width="0.14">200</text>
<line x1="33.3" y1="471.55" x2="36.2" y2="471.55" stroke="#222" stroke-width="0.8"/>
<text x="30.4" y="473.65000000000003" font-size="6.0" text-anchor="end" fill="#333" font-weight="normal" textLength="10" lengthAdjust="spacingAndGlyphs" stroke="#333" stroke-width="0.14">400</text>
<line x1="33.3" y1="459.425" x2="36.2" y2="459.425" stroke="#222" stroke-width="0.8"/>
<text x="30.4" y="461.52500000000003" font-size="6.0" text-anchor="end" fill="#333" font-weight="normal" textLength="10" lengthAdjust="spacingAndGlyphs" stroke="#333" stroke-width="0.14">600</text>
<line x1="33.3" y1="447.3" x2="36.2" y2="447.3" stroke="#222" stroke-width="0.8"/>
<text x="30.4" y="449.40000000000003" font-size="6.0" text-anchor="end" fill="#333" font-weight="normal" textLength="10" lengthAdjust="spacingAndGlyphs" stroke="#333" stroke-width="0.14">800</text>
<line x1="36.2" y1="495.8" x2="36.2" y2="498.0" stroke="#222" stroke-width="0.8"/>
<line x1="46.2" y1="495.8" x2="46.2" y2="498.0" stroke="#222" stroke-width="0.8"/>
<line x1="56.2" y1="495.8" x2="56.2" y2="498.0" stroke="#222" stroke-width="0.8"/>
<line x1="66.2" y1="495.8" x2="66.2" y2="498.0" stroke="#222" stroke-width="0.8"/>
<line x1="76.2" y1="495.8" x2="76.2" y2="498.0" stroke="#222" stroke-width="0.8"/>
<line x1="86.2" y1="495.8" x2="86.2" y2="498.0" stroke="#222" stroke-width="0.8"/>
<line x1="96.2" y1="495.8" x2="96.2" y2="498.0" stroke="#222" stroke-width="0.8"/>
<line x1="106.2" y1="495.8" x2="106.2" y2="498.0" stroke="#222" stroke-width="0.8"/>
<text x="41.800000000000004" y="504.8" font-size="6.2" fill="#333" text-anchor="end" transform="rotate(-45 41.800000000000004 504.8)">10<tspan dy="-2.3" font-size="3.8">-3</tspan></text>
<text x="51.800000000000004" y="504.8" font-size="6.2" fill="#333" text-anchor="end" transform="rotate(-45 51.800000000000004 504.8)">10<tspan dy="-2.3" font-size="3.8">-2</tspan></text>
<text x="61.800000000000004" y="504.8" font-size="6.2" fill="#333" text-anchor="end" transform="rotate(-45 61.800000000000004 504.8)">10<tspan dy="-2.3" font-size="3.8">-1</tspan></text>
<text x="71.8" y="504.8" font-size="6.2" fill="#333" text-anchor="end" transform="rotate(-45 71.8 504.8)">10<tspan dy="-2.3" font-size="3.8">0</tspan></text>
<text x="81.8" y="504.8" font-size="6.2" fill="#333" text-anchor="end" transform="rotate(-45 81.8 504.8)">10<tspan dy="-2.3" font-size="3.8">1</tspan></text>
<text x="91.8" y="504.8" font-size="6.2" fill="#333" text-anchor="end" transform="rotate(-45 91.8 504.8)">10<tspan dy="-2.3" font-size="3.8">2</tspan></text>
<text x="101.8" y="504.8" font-size="6.2" fill="#333" text-anchor="end" transform="rotate(-45 101.8 504.8)">10<tspan dy="-2.3" font-size="3.8">3</tspan></text>
<text x="111.8" y="504.8" font-size="6.2" fill="#333" text-anchor="end" transform="rotate(-45 111.8 504.8)">10<tspan dy="-2.3" font-size="3.8">4</tspan></text>
<circle cx="66.6" cy="495.6" r="1.05" fill="#1d3f72"/>
<circle cx="76.6" cy="495.6" r="1.05" fill="#1d3f72"/>
<circle cx="86.6" cy="495.6" r="1.05" fill="#1d3f72"/>
<circle cx="96.6" cy="495.6" r="1.05" fill="#1d3f72"/>
<circle cx="106.6" cy="495.6" r="1.05" fill="#1d3f72"/>
<polyline points="36.20,495.80 46.20,495.80 56.20,494.89 66.20,488.22 76.20,462.76 86.20,449.73 96.20,444.57 106.20,446.39" fill="none" stroke="#f39a2e" stroke-width="0.9" stroke-linejoin="round"/>
<circle cx="35.9" cy="495.8" r="1.3" fill="#f39a2e" fill-opacity="0.6"/>
<circle cx="45.9" cy="495.8" r="1.3" fill="#f39a2e" fill-opacity="0.6"/>
<circle cx="55.9" cy="494.89" r="1.3" fill="#f39a2e" fill-opacity="0.6"/>
<circle cx="66.2" cy="488.22" r="1.45" fill="#f39a2e"/>
<circle cx="76.2" cy="462.76" r="1.45" fill="#f39a2e"/>
<circle cx="86.2" cy="449.73" r="1.45" fill="#f39a2e"/>
<circle cx="96.2" cy="444.57" r="1.45" fill="#f39a2e"/>
<circle cx="106.2" cy="446.39" r="1.45" fill="#f39a2e"/>
<text x="12.6" y="473.2" font-size="7.2" text-anchor="middle" fill="#333" font-weight="normal" textLength="40.5" lengthAdjust="spacingAndGlyphs" transform="rotate(-90 12.6 473.2)" stroke="#333" stroke-width="0.14">IFN-γ (pg/ml)</text>
<text x="52.8" y="519.4" font-size="8.8" text-anchor="start" fill="#333" font-weight="normal" textLength="39.4" lengthAdjust="spacingAndGlyphs" stroke="#333" stroke-width="0.14">Peptide (nM)</text>
<circle cx="38.2" cy="531.9" r="1.9" fill="#f39a2e"/>
<text x="43.9" y="534.0" font-size="6.0" text-anchor="start" fill="#333" font-weight="normal" textLength="13.1" lengthAdjust="spacingAndGlyphs" stroke="#333" stroke-width="0.14">MiHA</text>
<circle cx="71.8" cy="531.9" r="1.9" fill="#1d3f72"/>
<text x="76.6" y="534.0" font-size="6.0" text-anchor="start" fill="#333" font-weight="normal" textLength="32.7" lengthAdjust="spacingAndGlyphs" stroke="#333" stroke-width="0.14">Allelic variant</text>
<line x1="180" y1="444.3" x2="180" y2="496.0" stroke="#222" stroke-width="1.2"/>
<line x1="179.6" y1="495.5" x2="236.6" y2="495.5" stroke="#222" stroke-width="1.2"/>
<line x1="176.7" y1="458.5" x2="180" y2="458.5" stroke="#222" stroke-width="0.8"/>
<line x1="176.7" y1="481.7" x2="180" y2="481.7" stroke="#222" stroke-width="0.8"/>
<line x1="182.1" y1="495.5" x2="182.1" y2="497.5" stroke="#222" stroke-width="0.8"/>
<line x1="189.5" y1="495.5" x2="189.5" y2="497.5" stroke="#222" stroke-width="0.8"/>
<line x1="196.9" y1="495.5" x2="196.9" y2="497.5" stroke="#222" stroke-width="0.8"/>
<line x1="204.3" y1="495.5" x2="204.3" y2="497.5" stroke="#222" stroke-width="0.8"/>
<line x1="211.7" y1="495.5" x2="211.7" y2="497.5" stroke="#222" stroke-width="0.8"/>
<line x1="219.1" y1="495.5" x2="219.1" y2="497.5" stroke="#222" stroke-width="0.8"/>
<line x1="226.5" y1="495.5" x2="226.5" y2="497.5" stroke="#222" stroke-width="0.8"/>
<line x1="233.9" y1="495.5" x2="233.9" y2="497.5" stroke="#222" stroke-width="0.8"/>
<text x="182.1" y="507" font-size="6.4" text-anchor="middle" fill="#333" font-weight="normal" stroke="#333" stroke-width="0.14">0</text>
<text x="196.9" y="507" font-size="6.4" text-anchor="middle" fill="#333" font-weight="normal" stroke="#333" stroke-width="0.14">200</text>
<text x="211.7" y="507" font-size="6.4" text-anchor="middle" fill="#333" font-weight="normal" stroke="#333" stroke-width="0.14">400</text>
<text x="226.5" y="507" font-size="6.4" text-anchor="middle" fill="#333" font-weight="normal" stroke="#333" stroke-width="0.14">600</text>
<text x="173.4" y="457.1" font-size="6.3" text-anchor="end" fill="#333" font-weight="normal" textLength="34.9" lengthAdjust="spacingAndGlyphs" stroke="#333" stroke-width="0.14">Negative for</text>
<text x="173.4" y="464.5" font-size="6.3" text-anchor="end" fill="#333" font-weight="normal" textLength="22.4" lengthAdjust="spacingAndGlyphs" stroke="#333" stroke-width="0.14">B*07:02</text>
<text x="173.4" y="481" font-size="6.3" text-anchor="end" fill="#333" font-weight="normal" textLength="31.8" lengthAdjust="spacingAndGlyphs" stroke="#333" stroke-width="0.14">Positive for</text>
<text x="173.4" y="488.4" font-size="6.3" text-anchor="end" fill="#333" font-weight="normal" textLength="22.4" lengthAdjust="spacingAndGlyphs" stroke="#333" stroke-width="0.14">B*07:02</text>
<text x="189.2" y="516.8" font-size="8.6" text-anchor="start" fill="#333" font-weight="normal" textLength="40.6" lengthAdjust="spacingAndGlyphs" stroke="#333" stroke-width="0.14">IFN-γ (pg/ml)</text>
<circle cx="182.91" cy="449.50" r="0.6" fill="#5a7cba" fill-opacity="0.7"/><circle cx="183.16" cy="449.98" r="0.6" fill="#5a7cba" fill-opacity="0.7"/><circle cx="183.05" cy="450.47" r="0.6" fill="#5a7cba" fill-opacity="0.7"/><circle cx="182.55" cy="450.95" r="0.6" fill="#5a7cba" fill-opacity="0.7"/><circle cx="182.62" cy="451.44" r="0.6" fill="#5a7cba" fill-opacity="0.7"/><circle cx="183.14" cy="451.92" r="0.6" fill="#5a7cba" fill-opacity="0.7"/><circle cx="182.35" cy="452.41" r="0.6" fill="#5a7cba" fill-opacity="0.7"/><circle cx="183.09" cy="452.89" r="0.6" fill="#5a7cba" fill-opacity="0.7"/><circle cx="183.07" cy="453.38" r="0.6" fill="#5a7cba" fill-opacity="0.7"/><circle cx="182.77" cy="453.86" r="0.6" fill="#5a7cba" fill-opacity="0.7"/><circle cx="182.62" cy="454.35" r="0.6" fill="#5a7cba" fill-opacity="0.7"/><circle cx="182.60" cy="454.83" r="0.6" fill="#5a7cba" fill-opacity="0.7"/><circle cx="182.58" cy="455.32" r="0.6" fill="#5a7cba" fill-opacity="0.7"/><circle cx="182.75" cy="455.80" r="0.6" fill="#5a7cba" fill-opacity="0.7"/><circle cx="182.80" cy="456.29" r="0.6" fill="#5a7cba" fill-opacity="0.7"/><circle cx="182.85" cy="456.77" r="0.6" fill="#5a7cba" fill-opacity="0.7"/><circle cx="183.25" cy="457.26" r="0.6" fill="#5a7cba" fill-opacity="0.7"/><circle cx="183.06" cy="457.74" r="0.6" fill="#5a7cba" fill-opacity="0.7"/><circle cx="182.91" cy="458.23" r="0.6" fill="#5a7cba" fill-opacity="0.7"/><circle cx="183.24" cy="458.71" r="0.6" fill="#5a7cba" fill-opacity="0.7"/><circle cx="182.54" cy="459.20" r="0.6" fill="#5a7cba" fill-opacity="0.7"/><circle cx="182.49" cy="459.68" r="0.6" fill="#5a7cba" fill-opacity="0.7"/><circle cx="182.90" cy="460.17" r="0.6" fill="#5a7cba" fill-opacity="0.7"/><circle cx="182.39" cy="460.65" r="0.6" fill="#5a7cba" fill-opacity="0.7"/><circle cx="182.38" cy="461.14" r="0.6" fill="#5a7cba" fill-opacity="0.7"/><circle cx="182.81" cy="461.62" r="0.6" fill="#5a7cba" fill-opacity="0.7"/><circle cx="182.77" cy="462.11" r="0.6" fill="#5a7cba" fill-opacity="0.7"/><circle cx="183.18" cy="462.59" r="0.6" fill="#5a7cba" fill-opacity="0.7"/><circle cx="182.92" cy="463.08" r="0.6" fill="#5a7cba" fill-opacity="0.7"/><circle cx="182.81" cy="463.56" r="0.6" fill="#5a7cba" fill-opacity="0.7"/><circle cx="182.80" cy="464.05" r="0.6" fill="#5a7cba" fill-opacity="0.7"/><circle cx="182.57" cy="464.53" r="0.6" fill="#5a7cba" fill-opacity="0.7"/><circle cx="182.36" cy="465.02" r="0.6" fill="#5a7cba" fill-opacity="0.7"/><circle cx="182.52" cy="465.50" r="0.6" fill="#5a7cba" fill-opacity="0.7"/><circle cx="182.95" cy="462.50" r="0.6" fill="#f0b060" fill-opacity="0.6"/><circle cx="182.56" cy="463.26" r="0.6" fill="#f0b060" fill-opacity="0.6"/><circle cx="182.70" cy="464.01" r="0.6" fill="#f0b060" fill-opacity="0.6"/><circle cx="182.40" cy="464.77" r="0.6" fill="#f0b060" fill-opacity="0.6"/><circle cx="183.06" cy="465.53" r="0.6" fill="#f0b060" fill-opacity="0.6"/><circle cx="182.52" cy="466.29" r="0.6" fill="#f0b060" fill-opacity="0.6"/><circle cx="182.61" cy="467.04" r="0.6" fill="#f0b060" fill-opacity="0.6"/><circle cx="183.10" cy="467.80" r="0.6" fill="#f0b060" fill-opacity="0.6"/><circle cx="182.81" cy="472.00" r="0.6" fill="#5a7cba" fill-opacity="0.7"/><circle cx="183.11" cy="472.53" r="0.6" fill="#5a7cba" fill-opacity="0.7"/><circle cx="182.93" cy="473.05" r="0.6" fill="#5a7cba" fill-opacity="0.7"/><circle cx="183.02" cy="473.58" r="0.6" fill="#5a7cba" fill-opacity="0.7"/><circle cx="182.43" cy="474.10" r="0.6" fill="#5a7cba" fill-opacity="0.7"/><circle cx="182.84" cy="474.63" r="0.6" fill="#5a7cba" fill-opacity="0.7"/><circle cx="182.81" cy="475.16" r="0.6" fill="#5a7cba" fill-opacity="0.7"/><circle cx="183.13" cy="475.68" r="0.6" fill="#5a7cba" fill-opacity="0.7"/><circle cx="182.68" cy="476.21" r="0.6" fill="#5a7cba" fill-opacity="0.7"/><circle cx="182.89" cy="476.73" r="0.6" fill="#5a7cba" fill-opacity="0.7"/><circle cx="182.40" cy="477.26" r="0.6" fill="#5a7cba" fill-opacity="0.7"/><circle cx="182.70" cy="477.79" r="0.6" fill="#5a7cba" fill-opacity="0.7"/><circle cx="182.64" cy="478.31" r="0.6" fill="#5a7cba" fill-opacity="0.7"/><circle cx="182.49" cy="478.84" r="0.6" fill="#5a7cba" fill-opacity="0.7"/><circle cx="183.08" cy="479.36" r="0.6" fill="#5a7cba" fill-opacity="0.7"/><circle cx="182.69" cy="479.89" r="0.6" fill="#5a7cba" fill-opacity="0.7"/><circle cx="183.23" cy="480.41" r="0.6" fill="#5a7cba" fill-opacity="0.7"/><circle cx="182.88" cy="480.94" r="0.6" fill="#5a7cba" fill-opacity="0.7"/><circle cx="182.89" cy="481.47" r="0.6" fill="#5a7cba" fill-opacity="0.7"/><circle cx="182.92" cy="481.99" r="0.6" fill="#5a7cba" fill-opacity="0.7"/><circle cx="182.96" cy="482.52" r="0.6" fill="#5a7cba" fill-opacity="0.7"/><circle cx="182.49" cy="483.04" r="0.6" fill="#5a7cba" fill-opacity="0.7"/><circle cx="182.75" cy="483.57" r="0.6" fill="#5a7cba" fill-opacity="0.7"/><circle cx="182.57" cy="484.10" r="0.6" fill="#5a7cba" fill-opacity="0.7"/><circle cx="182.71" cy="484.62" r="0.6" fill="#5a7cba" fill-opacity="0.7"/><circle cx="182.44" cy="485.15" r="0.6" fill="#5a7cba" fill-opacity="0.7"/><circle cx="183.22" cy="485.67" r="0.6" fill="#5a7cba" fill-opacity="0.7"/><circle cx="182.54" cy="486.20" r="0.6" fill="#5a7cba" fill-opacity="0.7"/><circle cx="192" cy="486.2" r="0.95" fill="#f2ac58" fill-opacity="0.7"/><circle cx="203" cy="486" r="0.95" fill="#f2ac58" fill-opacity="0.7"/><circle cx="205" cy="488" r="0.95" fill="#f2ac58" fill-opacity="0.7"/><circle cx="206.5" cy="486.8" r="0.95" fill="#f2ac58" fill-opacity="0.7"/><circle cx="208" cy="489.5" r="0.95" fill="#f2ac58" fill-opacity="0.7"/><circle cx="209.5" cy="487.5" r="0.95" fill="#f2ac58" fill-opacity="0.7"/><circle cx="210.5" cy="490.3" r="0.95" fill="#f2ac58" fill-opacity="0.7"/><circle cx="204" cy="490" r="0.95" fill="#f2ac58" fill-opacity="0.7"/><circle cx="207" cy="491" r="0.95" fill="#f2ac58" fill-opacity="0.7"/><circle cx="212.8" cy="488.5" r="0.95" fill="#f2ac58" fill-opacity="0.7"/><circle cx="214.5" cy="490" r="0.95" fill="#f2ac58" fill-opacity="0.7"/><circle cx="216.3" cy="489.2" r="0.95" fill="#f2ac58" fill-opacity="0.7"/><circle cx="223.4" cy="489.3" r="0.95" fill="#f2ac58" fill-opacity="0.7"/><circle cx="224.8" cy="488.5" r="0.95" fill="#f2ac58" fill-opacity="0.7"/><circle cx="228.3" cy="489" r="0.95" fill="#f2ac58" fill-opacity="0.7"/><circle cx="229.8" cy="490.3" r="0.95" fill="#f2ac58" fill-opacity="0.7"/><circle cx="234.7" cy="487.7" r="0.95" fill="#f2ac58" fill-opacity="0.7"/><circle cx="202.7" cy="489.5" r="0.95" fill="#f2ac58" fill-opacity="0.7"/><circle cx="211" cy="486.5" r="0.95" fill="#f2ac58" fill-opacity="0.7"/><circle cx="226" cy="490.5" r="0.95" fill="#f2ac58" fill-opacity="0.7"/>
<circle cx="170.1" cy="531.8" r="2.0" fill="#b3123a"/>
<text x="175.5" y="533.9" font-size="6.0" text-anchor="start" fill="#333" font-weight="normal" textLength="7.4" lengthAdjust="spacingAndGlyphs" stroke="#333" stroke-width="0.14">CC</text>
<circle cx="196.3" cy="531.8" r="2.0" fill="#f39a2e"/>
<text x="201.7" y="533.9" font-size="6.0" text-anchor="start" fill="#333" font-weight="normal" textLength="7.3" lengthAdjust="spacingAndGlyphs" stroke="#333" stroke-width="0.14">CG</text>
<circle cx="222.1" cy="531.8" r="2.0" fill="#1d3f72"/>
<text x="227.8" y="533.9" font-size="6.0" text-anchor="start" fill="#333" font-weight="normal" textLength="7.7" lengthAdjust="spacingAndGlyphs" stroke="#333" stroke-width="0.14">GG</text>
<line x1="295.2" y1="443.2" x2="295.2" y2="496.3" stroke="#222" stroke-width="1.2"/>
<line x1="294.8" y1="495.8" x2="380.4" y2="495.8" stroke="#222" stroke-width="1.2"/>
<line x1="292.6" y1="495.8" x2="295.2" y2="495.8" stroke="#222" stroke-width="0.8"/>
<text x="289.0" y="498.2" font-size="6.8" text-anchor="end" fill="#333" font-weight="normal" stroke="#333" stroke-width="0.14">0</text>
<line x1="292.6" y1="483.05" x2="295.2" y2="483.05" stroke="#222" stroke-width="0.8"/>
<text x="289.0" y="485.45" font-size="6.8" text-anchor="end" fill="#333" font-weight="normal" textLength="9.99" lengthAdjust="spacingAndGlyphs" stroke="#333" stroke-width="0.14">250</text>
<line x1="292.6" y1="470.3" x2="295.2" y2="470.3" stroke="#222" stroke-width="0.8"/>
<text x="289.0" y="472.7" font-size="6.8" text-anchor="end" fill="#333" font-weight="normal" textLength="9.99" lengthAdjust="spacingAndGlyphs" stroke="#333" stroke-width="0.14">500</text>
<line x1="292.6" y1="457.55" x2="295.2" y2="457.55" stroke="#222" stroke-width="0.8"/>
<text x="289.0" y="459.95" font-size="6.8" text-anchor="end" fill="#333" font-weight="normal" textLength="9.99" lengthAdjust="spacingAndGlyphs" stroke="#333" stroke-width="0.14">750</text>
<line x1="292.6" y1="444.8" x2="295.2" y2="444.8" stroke="#222" stroke-width="0.8"/>
<text x="289.0" y="447.2" font-size="6.8" text-anchor="end" fill="#333" font-weight="normal" textLength="13.32" lengthAdjust="spacingAndGlyphs" stroke="#333" stroke-width="0.14">1000</text>
<rect x="296.10" y="470.30" width="1.7" height="25.50" fill="#fbe0b0"/>
<rect x="295.50" y="480.50" width="1.7" height="15.30" fill="#eba04a"/>
<rect x="297.40" y="494.78" width="1.7" height="1.02" fill="#6a4878"/>
<rect x="298.60" y="493.50" width="1.7" height="2.29" fill="#23508c"/>
<rect x="299.80" y="493.76" width="1.7" height="2.04" fill="#3aa2e4"/>
<rect x="306.30" y="495.29" width="1.7" height="0.51" fill="#6a4878"/>
<rect x="307.50" y="494.53" width="1.7" height="1.27" fill="#23508c"/>
<rect x="308.70" y="493.25" width="1.7" height="2.55" fill="#3aa2e4"/>
<rect x="315.10" y="494.78" width="1.7" height="1.02" fill="#6a4878"/>
<rect x="316.30" y="493.50" width="1.7" height="2.29" fill="#23508c"/>
<rect x="317.50" y="494.01" width="1.7" height="1.78" fill="#3aa2e4"/>
<rect x="323.90" y="495.29" width="1.7" height="0.51" fill="#6a4878"/>
<rect x="325.10" y="494.78" width="1.7" height="1.02" fill="#23508c"/>
<rect x="326.30" y="495.04" width="1.7" height="0.76" fill="#3aa2e4"/>
<rect x="331.20" y="467.24" width="1.7" height="28.56" fill="#fbe0b0"/>
<rect x="330.60" y="479.74" width="1.7" height="16.06" fill="#eba04a"/>
<rect x="332.50" y="494.27" width="1.7" height="1.53" fill="#6a4878"/>
<rect x="333.70" y="492.23" width="1.7" height="3.57" fill="#23508c"/>
<rect x="334.90" y="490.70" width="1.7" height="5.10" fill="#3aa2e4"/>
<rect x="339.80" y="445.31" width="1.7" height="50.49" fill="#fbe0b0"/>
<rect x="339.20" y="460.61" width="1.7" height="35.19" fill="#eba04a"/>
<rect x="341.10" y="495.29" width="1.7" height="0.51" fill="#6a4878"/>
<rect x="342.30" y="494.01" width="1.7" height="1.78" fill="#23508c"/>
<rect x="343.50" y="494.27" width="1.7" height="1.53" fill="#3aa2e4"/>
<rect x="348.70" y="467.75" width="1.7" height="28.05" fill="#fbe0b0"/>
<rect x="348.10" y="479.74" width="1.7" height="16.06" fill="#eba04a"/>
<rect x="350.00" y="470.56" width="1.7" height="25.24" fill="#6a4878"/>
<rect x="351.20" y="478.21" width="1.7" height="17.59" fill="#23508c"/>
<rect x="352.40" y="463.16" width="1.7" height="32.64" fill="#3aa2e4"/>
<rect x="358.60" y="495.29" width="1.7" height="0.51" fill="#6a4878"/>
<rect x="359.80" y="494.53" width="1.7" height="1.27" fill="#23508c"/>
<rect x="361.00" y="494.78" width="1.7" height="1.02" fill="#3aa2e4"/>
<rect x="367.50" y="495.04" width="1.7" height="0.76" fill="#6a4878"/>
<rect x="368.70" y="493.25" width="1.7" height="2.55" fill="#23508c"/>
<rect x="369.90" y="492.74" width="1.7" height="3.06" fill="#3aa2e4"/>
<rect x="376.30" y="470.30" width="1.7" height="25.50" fill="#6a4878"/>
<rect x="377.50" y="479.74" width="1.7" height="16.06" fill="#23508c"/>
<rect x="378.70" y="483.56" width="1.7" height="12.24" fill="#3aa2e4"/>
<line x1="298.6" y1="495.8" x2="298.6" y2="497.8" stroke="#222" stroke-width="0.8"/>
<text x="298.6" y="507.0" font-size="7.2" text-anchor="middle" fill="#333" font-weight="normal" stroke="#333" stroke-width="0.14">1</text>
<line x1="307.5" y1="495.8" x2="307.5" y2="497.8" stroke="#222" stroke-width="0.8"/>
<text x="307.5" y="507.0" font-size="7.2" text-anchor="middle" fill="#333" font-weight="normal" stroke="#333" stroke-width="0.14">2</text>
<line x1="316.3" y1="495.8" x2="316.3" y2="497.8" stroke="#222" stroke-width="0.8"/>
<text x="316.3" y="507.0" font-size="7.2" text-anchor="middle" fill="#333" font-weight="normal" stroke="#333" stroke-width="0.14">3</text>
<line x1="325.1" y1="495.8" x2="325.1" y2="497.8" stroke="#222" stroke-width="0.8"/>
<text x="325.1" y="507.0" font-size="7.2" text-anchor="middle" fill="#333" font-weight="normal" stroke="#333" stroke-width="0.14">4</text>
<line x1="333.7" y1="495.8" x2="333.7" y2="497.8" stroke="#222" stroke-width="0.8"/>
<text x="333.7" y="507.0" font-size="7.2" text-anchor="middle" fill="#333" font-weight="normal" stroke="#333" stroke-width="0.14">5</text>
<line x1="342.3" y1="495.8" x2="342.3" y2="497.8" stroke="#222" stroke-width="0.8"/>
<text x="342.3" y="507.0" font-size="7.2" text-anchor="middle" fill="#333" font-weight="normal" stroke="#333" stroke-width="0.14">6</text>
<line x1="351.2" y1="495.8" x2="351.2" y2="497.8" stroke="#222" stroke-width="0.8"/>
<text x="351.2" y="507.0" font-size="7.2" text-anchor="middle" fill="#333" font-weight="normal" stroke="#333" stroke-width="0.14">7</text>
<line x1="359.8" y1="495.8" x2="359.8" y2="497.8" stroke="#222" stroke-width="0.8"/>
<text x="359.8" y="507.0" font-size="7.2" text-anchor="middle" fill="#333" font-weight="normal" stroke="#333" stroke-width="0.14">8</text>
<line x1="368.7" y1="495.8" x2="368.7" y2="497.8" stroke="#222" stroke-width="0.8"/>
<text x="368.7" y="507.0" font-size="7.2" text-anchor="middle" fill="#333" font-weight="normal" stroke="#333" stroke-width="0.14">9</text>
<line x1="377.5" y1="495.8" x2="377.5" y2="497.8" stroke="#222" stroke-width="0.8"/>
<text x="377.5" y="507.0" font-size="7.2" text-anchor="middle" fill="#333" font-weight="normal" stroke="#333" stroke-width="0.14">10</text>
<text x="268.9" y="468.8" font-size="7.0" text-anchor="middle" fill="#333" font-weight="normal" textLength="39.5" lengthAdjust="spacingAndGlyphs" transform="rotate(-90 268.9 468.8)" stroke="#333" stroke-width="0.14">IFN-γ (pg/ml)</text>
<text x="320.3" y="518.0" font-size="9.2" text-anchor="start" fill="#333" font-weight="normal" textLength="35.6" lengthAdjust="spacingAndGlyphs" stroke="#333" stroke-width="0.14">EBV-LCL mix</text>
<rect x="288" y="534.8" width="3.6" height="3.6" fill="#e8922e"/>
<text x="295.2" y="538.4" font-size="5.6" text-anchor="start" fill="#333" font-weight="normal" textLength="30.9" lengthAdjust="spacingAndGlyphs" stroke="#333" stroke-width="0.14">T-cell clone 1</text>
<rect x="288" y="545" width="3.6" height="3.6" fill="#f7cb8e"/>
<text x="295.2" y="548.6" font-size="5.6" text-anchor="start" fill="#333" font-weight="normal" textLength="30.9" lengthAdjust="spacingAndGlyphs" stroke="#333" stroke-width="0.14">T-cell clone 2</text>
<rect x="342" y="530" width="3.6" height="3.6" fill="#4f2c6c"/>
<text x="349.2" y="533.6" font-size="5.6" text-anchor="start" fill="#333" font-weight="normal" textLength="30.9" lengthAdjust="spacingAndGlyphs" stroke="#333" stroke-width="0.14">T-cell clone 3</text>
<rect x="342" y="539.9" width="3.6" height="3.6" fill="#1d4c88"/>
<text x="349.2" y="543.5" font-size="5.6" text-anchor="start" fill="#333" font-weight="normal" textLength="30.9" lengthAdjust="spacingAndGlyphs" stroke="#333" stroke-width="0.14">T-cell clone 4</text>
<rect x="342" y="550.3" width="3.6" height="3.6" fill="#3ea4e6"/>
<text x="349.2" y="553.9" font-size="5.6" text-anchor="start" fill="#333" font-weight="normal" textLength="30.9" lengthAdjust="spacingAndGlyphs" stroke="#333" stroke-width="0.14">T-cell clone 5</text>
<line x1="419.9" y1="443.7" x2="419.9" y2="496.1" stroke="#222" stroke-width="1.2"/>
<line x1="419.5" y1="495.6" x2="511.5" y2="495.6" stroke="#222" stroke-width="1.2"/>
<line x1="417.3" y1="495.6" x2="419.9" y2="495.6" stroke="#222" stroke-width="0.8"/>
<text x="414.0" y="497.8" font-size="6.3" text-anchor="end" fill="#333" font-weight="normal" stroke="#333" stroke-width="0.14">0</text>
<line x1="417.3" y1="479.2666666666667" x2="419.9" y2="479.2666666666667" stroke="#222" stroke-width="0.8"/>
<text x="414.0" y="481.4666666666667" font-size="6.3" text-anchor="end" fill="#333" font-weight="normal" stroke="#333" stroke-width="0.14">400</text>
<line x1="417.3" y1="462.93333333333334" x2="419.9" y2="462.93333333333334" stroke="#222" stroke-width="0.8"/>
<text x="414.0" y="465.1333333333333" font-size="6.3" text-anchor="end" fill="#333" font-weight="normal" stroke="#333" stroke-width="0.14">800</text>
<line x1="417.3" y1="446.6" x2="419.9" y2="446.6" stroke="#222" stroke-width="0.8"/>
<text x="414.0" y="448.8" font-size="6.3" text-anchor="end" fill="#333" font-weight="normal" stroke="#333" stroke-width="0.14">1200</text>
<line x1="422.7" y1="495.6" x2="422.7" y2="497.6" stroke="#222" stroke-width="0.8"/>
<line x1="430.5" y1="495.6" x2="430.5" y2="497.6" stroke="#222" stroke-width="0.8"/>
<rect x="428.65" y="468.32" width="3.7" height="27.28" fill="#1a4e8c"/>
<line x1="438.3" y1="495.6" x2="438.3" y2="497.6" stroke="#222" stroke-width="0.8"/>
<line x1="446.09999999999997" y1="495.6" x2="446.09999999999997" y2="497.6" stroke="#222" stroke-width="0.8"/>
<rect x="444.25" y="464.89" width="3.7" height="30.71" fill="#1a4e8c"/>
<line x1="453.9" y1="495.6" x2="453.9" y2="497.6" stroke="#222" stroke-width="0.8"/>
<line x1="461.7" y1="495.6" x2="461.7" y2="497.6" stroke="#222" stroke-width="0.8"/>
<rect x="459.85" y="495.27" width="3.7" height="0.33" fill="#1a4e8c"/>
<line x1="469.5" y1="495.6" x2="469.5" y2="497.6" stroke="#222" stroke-width="0.8"/>
<line x1="477.3" y1="495.6" x2="477.3" y2="497.6" stroke="#222" stroke-width="0.8"/>
<rect x="475.45" y="454.77" width="3.7" height="40.83" fill="#1a4e8c"/>
<line x1="485.09999999999997" y1="495.6" x2="485.09999999999997" y2="497.6" stroke="#222" stroke-width="0.8"/>
<line x1="492.9" y1="495.6" x2="492.9" y2="497.6" stroke="#222" stroke-width="0.8"/>
<rect x="491.05" y="495.27" width="3.7" height="0.33" fill="#1a4e8c"/>
<line x1="500.7" y1="495.6" x2="500.7" y2="497.6" stroke="#222" stroke-width="0.8"/>
<rect x="498.85" y="445.99" width="3.7" height="49.61" fill="#1a4e8c"/>
<line x1="508.5" y1="495.6" x2="508.5" y2="497.6" stroke="#222" stroke-width="0.8"/>
<text x="422.7" y="507.0" font-size="7.2" text-anchor="middle" fill="#333" font-weight="normal" stroke="#333" stroke-width="0.14">1</text>
<text x="422.7" y="515.6" font-size="5.6" text-anchor="middle" fill="#444" font-weight="normal" stroke="#444" stroke-width="0.14">–</text>
<text x="430.5" y="507.0" font-size="7.2" text-anchor="middle" fill="#333" font-weight="normal" stroke="#333" stroke-width="0.14">2</text>
<text x="430.5" y="515.6" font-size="5.6" text-anchor="middle" fill="#444" font-weight="normal" stroke="#444" stroke-width="0.14">+</text>
<text x="438.3" y="507.0" font-size="7.2" text-anchor="middle" fill="#333" font-weight="normal" stroke="#333" stroke-width="0.14">3</text>
<text x="438.3" y="515.6" font-size="5.6" text-anchor="middle" fill="#444" font-weight="normal" stroke="#444" stroke-width="0.14">–</text>
<text x="446.09999999999997" y="507.0" font-size="7.2" text-anchor="middle" fill="#333" font-weight="normal" stroke="#333" stroke-width="0.14">4</text>
<text x="446.09999999999997" y="515.6" font-size="5.6" text-anchor="middle" fill="#444" font-weight="normal" stroke="#444" stroke-width="0.14">+</text>
<text x="453.9" y="507.0" font-size="7.2" text-anchor="middle" fill="#333" font-weight="normal" stroke="#333" stroke-width="0.14">5</text>
<text x="453.9" y="515.6" font-size="5.6" text-anchor="middle" fill="#444" font-weight="normal" stroke="#444" stroke-width="0.14">–</text>
<text x="461.7" y="507.0" font-size="7.2" text-anchor="middle" fill="#333" font-weight="normal" stroke="#333" stroke-width="0.14">6</text>
<text x="461.7" y="515.6" font-size="5.6" text-anchor="middle" fill="#444" font-weight="normal" stroke="#444" stroke-width="0.14">–</text>
<text x="469.5" y="507.0" font-size="7.2" text-anchor="middle" fill="#333" font-weight="normal" stroke="#333" stroke-width="0.14">7</text>
<text x="469.5" y="515.6" font-size="5.6" text-anchor="middle" fill="#444" font-weight="normal" stroke="#444" stroke-width="0.14">–</text>
<text x="477.3" y="507.0" font-size="7.2" text-anchor="middle" fill="#333" font-weight="normal" stroke="#333" stroke-width="0.14">8</text>
<text x="477.3" y="515.6" font-size="5.6" text-anchor="middle" fill="#444" font-weight="normal" stroke="#444" stroke-width="0.14">+</text>
<text x="485.09999999999997" y="507.0" font-size="7.2" text-anchor="middle" fill="#333" font-weight="normal" stroke="#333" stroke-width="0.14">9</text>
<text x="485.09999999999997" y="515.6" font-size="5.6" text-anchor="middle" fill="#444" font-weight="normal" stroke="#444" stroke-width="0.14">–</text>
<text x="492.9" y="507.0" font-size="7.2" text-anchor="middle" fill="#333" font-weight="normal" stroke="#333" stroke-width="0.14">10</text>
<text x="492.9" y="515.6" font-size="5.6" text-anchor="middle" fill="#444" font-weight="normal" stroke="#444" stroke-width="0.14">–</text>
<text x="500.7" y="507.0" font-size="7.2" text-anchor="middle" fill="#333" font-weight="normal" stroke="#333" stroke-width="0.14">11</text>
<text x="500.7" y="515.6" font-size="5.6" text-anchor="middle" fill="#444" font-weight="normal" stroke="#444" stroke-width="0.14">+</text>
<text x="508.5" y="507.0" font-size="7.2" text-anchor="middle" fill="#333" font-weight="normal" stroke="#333" stroke-width="0.14">12</text>
<text x="508.5" y="515.6" font-size="5.6" text-anchor="middle" fill="#444" font-weight="normal" stroke="#444" stroke-width="0.14">–</text>
<text x="399.2" y="515.7" font-size="7.4" text-anchor="start" fill="#333" font-weight="normal" textLength="13.1" lengthAdjust="spacingAndGlyphs" stroke="#333" stroke-width="0.14">HA-2</text>
<text x="452.2" y="526.6" font-size="9.0" text-anchor="start" fill="#333" font-weight="normal" textLength="35.1" lengthAdjust="spacingAndGlyphs" stroke="#333" stroke-width="0.14">Peptide mix</text>
<text x="394.2" y="468.8" font-size="7.8" text-anchor="middle" fill="#333" font-weight="normal" textLength="41.5" lengthAdjust="spacingAndGlyphs" transform="rotate(-90 394.2 468.8)" stroke="#333" stroke-width="0.14">IFN-γ (pg/ml)</text>
<rect x="0.5" y="0.5" width="519" height="561" fill="none" stroke="#4a4a4a" stroke-width="1"/>
</svg></body></html>
